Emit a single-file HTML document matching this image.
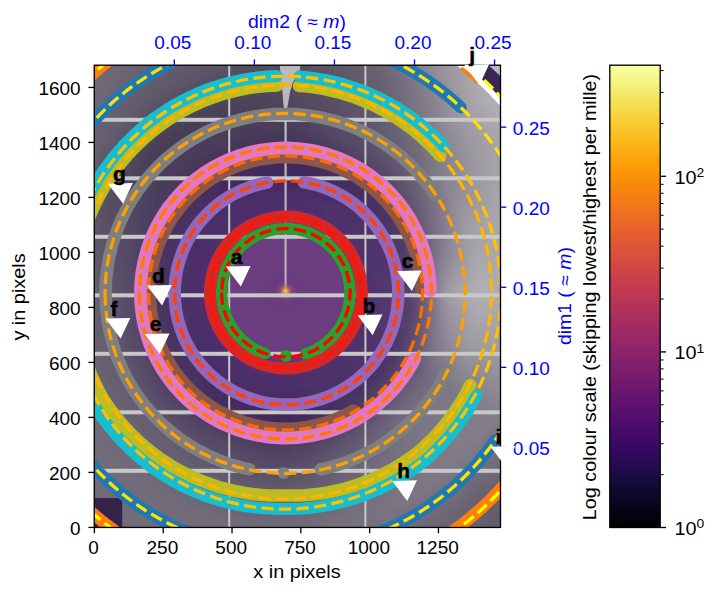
<!DOCTYPE html><html><head><meta charset="utf-8"><style>html,body{margin:0;padding:0;background:#fff;width:716px;height:595px;overflow:hidden}svg{display:block}text{font-family:"Liberation Sans",sans-serif}</style></head><body>
<svg width="716" height="595" viewBox="0 0 716 595">
<defs>
<clipPath id="pc"><rect x="94.25" y="65.2" width="406.25" height="462.25000000000006"/></clipPath>
<radialGradient id="bg" gradientUnits="userSpaceOnUse" cx="286.6" cy="292.8" r="420"><stop offset="0.0000" stop-color="#f0b050"/><stop offset="0.0071" stop-color="#c06a70"/><stop offset="0.0190" stop-color="#7a4888"/><stop offset="0.0952" stop-color="#6a4282"/><stop offset="0.1429" stop-color="#5a3a78"/><stop offset="0.2024" stop-color="#45295c"/><stop offset="0.2619" stop-color="#46305e"/><stop offset="0.3095" stop-color="#4a3662"/><stop offset="0.3929" stop-color="#54466a"/><stop offset="0.4524" stop-color="#625876"/><stop offset="0.5357" stop-color="#706a80"/><stop offset="0.6190" stop-color="#78728a"/><stop offset="0.7143" stop-color="#7c768a"/><stop offset="1.0000" stop-color="#7c768a"/></radialGradient>
<filter id="bgblur" x="-5%" y="-5%" width="110%" height="110%"><feGaussianBlur stdDeviation="4"/></filter>
<filter id="blur20" x="-50%" y="-50%" width="200%" height="200%"><feGaussianBlur stdDeviation="18"/></filter>
<linearGradient id="cb" x1="0" y1="1" x2="0" y2="0"><stop offset="0.0000" stop-color="#000004"/><stop offset="0.0312" stop-color="#040312"/><stop offset="0.0625" stop-color="#0b0724"/><stop offset="0.0938" stop-color="#150b37"/><stop offset="0.1250" stop-color="#210c4a"/><stop offset="0.1562" stop-color="#2f0a5b"/><stop offset="0.1875" stop-color="#3d0965"/><stop offset="0.2188" stop-color="#4a0c6b"/><stop offset="0.2500" stop-color="#57106e"/><stop offset="0.2812" stop-color="#64156e"/><stop offset="0.3125" stop-color="#71196e"/><stop offset="0.3438" stop-color="#7d1e6d"/><stop offset="0.3750" stop-color="#8a226a"/><stop offset="0.4062" stop-color="#972766"/><stop offset="0.4375" stop-color="#a32c61"/><stop offset="0.4688" stop-color="#b0315b"/><stop offset="0.5000" stop-color="#bc3754"/><stop offset="0.5312" stop-color="#c73e4c"/><stop offset="0.5625" stop-color="#d24644"/><stop offset="0.5938" stop-color="#db503b"/><stop offset="0.6250" stop-color="#e45a31"/><stop offset="0.6562" stop-color="#eb6628"/><stop offset="0.6875" stop-color="#f1731d"/><stop offset="0.7188" stop-color="#f68013"/><stop offset="0.7500" stop-color="#f98e09"/><stop offset="0.7812" stop-color="#fb9d07"/><stop offset="0.8125" stop-color="#fcac11"/><stop offset="0.8438" stop-color="#fbbc21"/><stop offset="0.8750" stop-color="#f9cb35"/><stop offset="0.9062" stop-color="#f5db4c"/><stop offset="0.9375" stop-color="#f2ea69"/><stop offset="0.9688" stop-color="#f3f68a"/><stop offset="1.0000" stop-color="#fcffa4"/></linearGradient>
</defs>
<g clip-path="url(#pc)">
<g filter="url(#bgblur)">
<path fill="#6e6876" d="M82,53h6v6h-6zM88,53h6v6h-6zM370,53h6v6h-6zM88,59h6v6h-6zM94,59h6v6h-6zM100,59h6v6h-6zM376,59h6v6h-6zM94,65h6v6h-6zM100,65h6v6h-6zM106,65h6v6h-6zM112,65h6v6h-6zM382,65h6v6h-6zM100,71h6v6h-6zM106,71h6v6h-6zM388,71h6v6h-6zM106,77h6v6h-6zM100,83h6v6h-6zM94,95h6v6h-6zM88,101h6v6h-6zM394,101h6v6h-6zM82,107h6v6h-6zM82,113h6v6h-6zM82,383h6v6h-6zM88,395h6v6h-6zM94,407h6v6h-6zM100,413h6v6h-6zM106,425h6v6h-6zM112,431h6v6h-6zM118,437h6v6h-6zM124,443h6v6h-6zM130,449h6v6h-6zM508,461h6v6h-6zM148,467h6v6h-6zM496,467h6v6h-6zM154,473h6v6h-6zM484,473h6v6h-6zM160,479h6v6h-6zM478,479h6v6h-6zM172,485h6v6h-6zM346,485h6v6h-6zM178,491h6v6h-6zM340,491h6v6h-6zM190,497h6v6h-6zM208,503h6v6h-6zM322,503h6v6h-6zM448,503h6v6h-6zM220,509h6v6h-6zM226,509h6v6h-6zM310,509h6v6h-6zM442,509h6v6h-6zM244,515h6v6h-6zM250,515h6v6h-6zM298,515h6v6h-6zM436,515h6v6h-6zM424,521h6v6h-6zM418,527h6v6h-6zM406,533h6v6h-6zM394,539h6v6h-6zM400,539h6v6h-6z"/>
<path fill="#6e6874" d="M94,53h6v6h-6z"/>
<path fill="#6c6874" d="M100,53h6v6h-6zM106,53h6v6h-6zM106,59h6v6h-6zM112,59h6v6h-6zM112,71h6v6h-6zM502,467h6v6h-6zM430,521h6v6h-6z"/>
<path fill="#6c6674" d="M112,53h6v6h-6zM118,53h6v6h-6zM124,53h6v6h-6zM364,53h6v6h-6zM118,59h6v6h-6zM124,59h6v6h-6zM370,59h6v6h-6zM118,65h6v6h-6zM118,71h6v6h-6zM112,77h6v6h-6zM388,77h6v6h-6zM106,83h6v6h-6zM388,83h6v6h-6zM106,89h6v6h-6zM388,89h6v6h-6zM100,95h6v6h-6zM94,101h6v6h-6zM94,107h6v6h-6zM88,113h6v6h-6zM82,119h6v6h-6zM82,125h6v6h-6zM88,377h6v6h-6zM94,389h6v6h-6zM100,401h6v6h-6zM508,467h6v6h-6zM490,473h6v6h-6zM496,473h6v6h-6zM484,479h6v6h-6zM472,485h6v6h-6zM466,491h6v6h-6zM460,497h6v6h-6zM220,503h6v6h-6zM454,503h6v6h-6zM244,509h6v6h-6zM298,509h6v6h-6zM448,509h6v6h-6zM442,515h6v6h-6zM436,521h6v6h-6zM424,527h6v6h-6zM418,533h6v6h-6zM406,539h6v6h-6zM412,539h6v6h-6z"/>
<path fill="#6a6674" d="M130,53h6v6h-6zM124,65h6v6h-6zM100,101h6v6h-6zM502,473h6v6h-6zM430,527h6v6h-6z"/>
<path fill="#6a6472" d="M136,53h6v6h-6zM358,53h6v6h-6zM130,59h6v6h-6zM136,59h6v6h-6zM130,65h6v6h-6zM124,71h6v6h-6zM382,71h6v6h-6zM118,77h6v6h-6zM118,83h6v6h-6zM112,89h6v6h-6zM106,95h6v6h-6zM106,101h6v6h-6zM100,107h6v6h-6zM94,113h6v6h-6zM94,119h6v6h-6zM88,125h6v6h-6zM82,131h6v6h-6zM82,137h6v6h-6zM490,479h6v6h-6zM496,479h6v6h-6zM502,479h6v6h-6zM508,479h6v6h-6zM478,485h6v6h-6zM472,491h6v6h-6zM466,497h6v6h-6zM460,503h6v6h-6zM274,509h6v6h-6zM454,509h6v6h-6zM448,515h6v6h-6zM442,521h6v6h-6zM436,527h6v6h-6zM442,527h6v6h-6zM424,533h6v6h-6zM430,533h6v6h-6zM436,533h6v6h-6zM424,539h6v6h-6zM430,539h6v6h-6z"/>
<path fill="#686472" d="M142,53h6v6h-6zM454,515h6v6h-6zM448,521h6v6h-6z"/>
<path fill="#686270" d="M148,53h6v6h-6zM142,59h6v6h-6zM136,65h6v6h-6zM136,71h6v6h-6zM130,77h6v6h-6zM124,83h6v6h-6zM118,89h6v6h-6zM112,101h6v6h-6zM100,119h6v6h-6zM88,143h6v6h-6zM82,155h6v6h-6zM484,485h6v6h-6zM490,485h6v6h-6zM496,485h6v6h-6zM502,485h6v6h-6zM508,485h6v6h-6zM478,491h6v6h-6zM472,497h6v6h-6zM478,497h6v6h-6zM466,503h6v6h-6zM472,503h6v6h-6zM466,509h6v6h-6zM460,515h6v6h-6zM454,521h6v6h-6zM460,521h6v6h-6zM448,527h6v6h-6zM454,527h6v6h-6zM442,533h6v6h-6zM448,533h6v6h-6zM436,539h6v6h-6zM442,539h6v6h-6z"/>
<path fill="#666070" d="M154,53h6v6h-6zM148,59h6v6h-6zM358,59h6v6h-6zM142,65h6v6h-6zM364,65h6v6h-6zM370,71h6v6h-6zM136,77h6v6h-6zM376,77h6v6h-6zM130,83h6v6h-6zM124,89h6v6h-6zM118,101h6v6h-6zM382,101h6v6h-6zM112,107h6v6h-6zM382,107h6v6h-6zM106,113h6v6h-6zM106,119h6v6h-6zM100,125h6v6h-6zM100,131h6v6h-6zM94,137h6v6h-6zM94,143h6v6h-6zM88,149h6v6h-6zM88,155h6v6h-6zM82,167h6v6h-6zM82,281h6v6h-6zM166,449h6v6h-6zM172,455h6v6h-6zM178,461h6v6h-6zM184,467h6v6h-6zM190,473h6v6h-6zM202,479h6v6h-6zM214,485h6v6h-6zM316,485h6v6h-6zM226,491h6v6h-6zM232,491h6v6h-6zM310,491h6v6h-6zM490,491h6v6h-6zM244,497h6v6h-6zM250,497h6v6h-6zM298,497h6v6h-6zM274,503h6v6h-6zM280,503h6v6h-6zM286,503h6v6h-6z"/>
<path fill="#66606e" d="M160,53h6v6h-6zM154,59h6v6h-6zM148,65h6v6h-6zM142,71h6v6h-6zM124,95h6v6h-6zM112,113h6v6h-6zM496,491h6v6h-6zM502,491h6v6h-6zM508,491h6v6h-6zM484,497h6v6h-6zM478,503h6v6h-6zM484,503h6v6h-6zM478,509h6v6h-6zM472,515h6v6h-6zM478,515h6v6h-6zM466,521h6v6h-6zM472,521h6v6h-6zM460,527h6v6h-6zM466,527h6v6h-6zM460,533h6v6h-6zM466,533h6v6h-6zM454,539h6v6h-6zM460,539h6v6h-6z"/>
<path fill="#645e6e" d="M166,53h6v6h-6zM346,53h6v6h-6zM160,59h6v6h-6zM352,59h6v6h-6zM154,65h6v6h-6zM358,65h6v6h-6zM148,71h6v6h-6zM364,71h6v6h-6zM142,77h6v6h-6zM370,77h6v6h-6zM136,83h6v6h-6zM142,83h6v6h-6zM370,83h6v6h-6zM136,89h6v6h-6zM376,89h6v6h-6zM130,95h6v6h-6zM376,95h6v6h-6zM124,101h6v6h-6zM118,107h6v6h-6zM118,113h6v6h-6zM112,119h6v6h-6zM106,125h6v6h-6zM106,131h6v6h-6zM100,137h6v6h-6zM94,149h6v6h-6zM88,161h6v6h-6zM82,173h6v6h-6zM82,179h6v6h-6zM82,263h6v6h-6zM202,473h6v6h-6zM214,479h6v6h-6zM226,485h6v6h-6zM244,491h6v6h-6zM298,491h6v6h-6zM268,497h6v6h-6zM274,497h6v6h-6zM280,497h6v6h-6zM286,497h6v6h-6z"/>
<path fill="#645e6c" d="M172,53h6v6h-6zM166,59h6v6h-6zM160,65h6v6h-6zM154,71h6v6h-6zM148,77h6v6h-6zM508,497h6v6h-6zM490,503h6v6h-6zM496,503h6v6h-6zM502,503h6v6h-6zM490,509h6v6h-6zM484,515h6v6h-6zM478,521h6v6h-6zM484,521h6v6h-6zM478,527h6v6h-6zM472,533h6v6h-6zM478,533h6v6h-6zM466,539h6v6h-6zM472,539h6v6h-6z"/>
<path fill="#625c6c" d="M178,53h6v6h-6zM172,59h6v6h-6zM346,59h6v6h-6zM166,65h6v6h-6zM352,65h6v6h-6zM160,71h6v6h-6zM358,71h6v6h-6zM154,77h6v6h-6zM148,83h6v6h-6zM364,83h6v6h-6zM142,89h6v6h-6zM370,89h6v6h-6zM136,95h6v6h-6zM136,101h6v6h-6zM130,107h6v6h-6zM124,113h6v6h-6zM118,119h6v6h-6zM112,125h6v6h-6zM106,137h6v6h-6zM94,155h6v6h-6zM88,173h6v6h-6zM82,191h6v6h-6zM82,197h6v6h-6zM82,245h6v6h-6zM496,509h6v6h-6z"/>
<path fill="#625c6a" d="M184,53h6v6h-6zM502,509h6v6h-6zM508,509h6v6h-6zM496,515h6v6h-6zM490,521h6v6h-6zM496,521h6v6h-6zM490,527h6v6h-6zM484,533h6v6h-6zM490,533h6v6h-6zM478,539h6v6h-6zM484,539h6v6h-6z"/>
<path fill="#605a6a" d="M190,53h6v6h-6zM196,53h6v6h-6zM184,59h6v6h-6zM340,59h6v6h-6zM178,65h6v6h-6zM346,65h6v6h-6zM172,71h6v6h-6zM346,71h6v6h-6zM166,77h6v6h-6zM352,77h6v6h-6zM160,83h6v6h-6zM154,89h6v6h-6zM148,95h6v6h-6zM364,95h6v6h-6zM118,125h6v6h-6zM112,131h6v6h-6zM106,143h6v6h-6zM100,155h6v6h-6zM94,167h6v6h-6zM88,185h6v6h-6z"/>
<path fill="#5e5868" d="M202,53h6v6h-6zM208,53h6v6h-6zM322,53h6v6h-6zM196,59h6v6h-6zM328,59h6v6h-6zM190,65h6v6h-6zM334,65h6v6h-6zM184,71h6v6h-6zM340,71h6v6h-6zM160,89h6v6h-6zM106,149h6v6h-6zM94,179h6v6h-6z"/>
<path fill="#5e5668" d="M214,53h6v6h-6zM202,59h6v6h-6zM196,65h6v6h-6zM190,71h6v6h-6zM334,71h6v6h-6zM178,77h6v6h-6zM340,77h6v6h-6zM346,83h6v6h-6zM154,95h6v6h-6zM352,95h6v6h-6zM148,101h6v6h-6zM358,101h6v6h-6zM358,107h6v6h-6zM124,125h6v6h-6zM118,131h6v6h-6zM112,143h6v6h-6zM100,167h6v6h-6zM94,185h6v6h-6z"/>
<path fill="#5c5666" d="M220,53h6v6h-6zM214,59h6v6h-6zM202,65h6v6h-6zM184,77h6v6h-6zM166,89h6v6h-6z"/>
<path fill="#5c5466" d="M226,53h6v6h-6zM310,53h6v6h-6zM220,59h6v6h-6zM316,59h6v6h-6zM208,65h6v6h-6zM322,65h6v6h-6zM196,71h6v6h-6zM328,71h6v6h-6zM334,77h6v6h-6zM178,83h6v6h-6zM334,83h6v6h-6zM340,89h6v6h-6zM160,95h6v6h-6zM346,101h6v6h-6zM118,137h6v6h-6zM112,149h6v6h-6zM106,161h6v6h-6zM100,179h6v6h-6zM94,209h6v6h-6zM94,215h6v6h-6z"/>
<path fill="#5a5466" d="M232,53h6v6h-6zM226,59h6v6h-6zM316,65h6v6h-6zM202,71h6v6h-6zM322,71h6v6h-6zM190,77h6v6h-6zM328,77h6v6h-6zM172,89h6v6h-6zM154,101h6v6h-6zM148,107h6v6h-6zM142,113h6v6h-6zM136,119h6v6h-6zM130,125h6v6h-6zM124,131h6v6h-6zM100,185h6v6h-6z"/>
<path fill="#5a5464" d="M238,53h6v6h-6zM304,53h6v6h-6zM310,59h6v6h-6zM214,65h6v6h-6z"/>
<path fill="#5a5264" d="M244,53h6v6h-6zM232,59h6v6h-6zM304,59h6v6h-6zM220,65h6v6h-6zM310,65h6v6h-6zM208,71h6v6h-6zM316,71h6v6h-6zM196,77h6v6h-6zM322,77h6v6h-6zM184,83h6v6h-6zM166,95h6v6h-6zM334,95h6v6h-6zM118,143h6v6h-6zM112,155h6v6h-6zM106,173h6v6h-6zM100,197h6v6h-6zM100,203h6v6h-6zM100,209h6v6h-6z"/>
<path fill="#585264" d="M250,53h6v6h-6zM256,53h6v6h-6zM298,53h6v6h-6zM238,59h6v6h-6zM226,65h6v6h-6zM322,83h6v6h-6zM178,89h6v6h-6zM328,89h6v6h-6zM160,101h6v6h-6zM124,137h6v6h-6z"/>
<path fill="#585062" d="M262,53h6v6h-6zM268,53h6v6h-6zM292,53h6v6h-6zM244,59h6v6h-6zM250,59h6v6h-6zM298,59h6v6h-6zM232,65h6v6h-6zM220,71h6v6h-6zM304,71h6v6h-6zM310,77h6v6h-6zM316,83h6v6h-6zM172,95h6v6h-6zM142,119h6v6h-6zM112,167h6v6h-6z"/>
<path fill="#565062" d="M274,53h6v6h-6zM280,53h6v6h-6zM286,53h6v6h-6zM256,59h6v6h-6zM262,59h6v6h-6zM292,59h6v6h-6zM238,65h6v6h-6zM298,65h6v6h-6zM208,77h6v6h-6zM196,83h6v6h-6zM184,89h6v6h-6zM166,101h6v6h-6zM124,143h6v6h-6zM118,155h6v6h-6zM106,191h6v6h-6z"/>
<path fill="#5c5668" d="M316,53h6v6h-6zM208,59h6v6h-6zM322,59h6v6h-6zM328,65h6v6h-6zM172,83h6v6h-6zM340,83h6v6h-6zM346,89h6v6h-6zM142,107h6v6h-6zM136,113h6v6h-6zM130,119h6v6h-6zM106,155h6v6h-6zM100,173h6v6h-6zM94,191h6v6h-6zM94,197h6v6h-6zM94,233h6v6h-6z"/>
<path fill="#60586a" d="M328,53h6v6h-6zM190,59h6v6h-6zM334,59h6v6h-6zM184,65h6v6h-6zM340,65h6v6h-6zM178,71h6v6h-6zM172,77h6v6h-6zM352,83h6v6h-6zM358,89h6v6h-6zM142,101h6v6h-6zM364,101h6v6h-6zM136,107h6v6h-6zM130,113h6v6h-6zM124,119h6v6h-6zM94,173h6v6h-6zM88,191h6v6h-6zM88,197h6v6h-6zM88,239h6v6h-6zM88,245h6v6h-6zM280,485h6v6h-6z"/>
<path fill="#625a6c" d="M334,53h6v6h-6zM352,71h6v6h-6zM160,77h6v6h-6zM358,77h6v6h-6zM154,83h6v6h-6zM148,89h6v6h-6zM364,89h6v6h-6zM142,95h6v6h-6zM370,95h6v6h-6zM100,149h6v6h-6zM94,161h6v6h-6zM88,179h6v6h-6zM82,203h6v6h-6zM82,209h6v6h-6zM82,215h6v6h-6zM82,221h6v6h-6zM82,227h6v6h-6zM82,233h6v6h-6zM82,239h6v6h-6zM88,257h6v6h-6zM238,479h6v6h-6zM244,485h6v6h-6zM250,485h6v6h-6zM256,485h6v6h-6zM268,491h6v6h-6zM274,491h6v6h-6zM280,491h6v6h-6zM286,491h6v6h-6z"/>
<path fill="#645c6c" d="M340,53h6v6h-6zM130,101h6v6h-6zM100,143h6v6h-6z"/>
<path fill="#686070" d="M352,53h6v6h-6zM376,71h6v6h-6zM118,95h6v6h-6zM94,131h6v6h-6zM82,161h6v6h-6zM268,503h6v6h-6z"/>
<path fill="#706c7a" d="M376,53h6v6h-6zM100,437h6v6h-6zM136,473h6v6h-6zM160,491h6v6h-6zM454,491h6v6h-6zM196,509h6v6h-6zM214,515h6v6h-6z"/>
<path fill="#746e7c" d="M382,53h6v6h-6zM388,59h6v6h-6zM400,83h6v6h-6zM406,113h6v6h-6zM502,449h6v6h-6zM484,461h6v6h-6zM382,467h6v6h-6zM382,473h6v6h-6zM466,473h6v6h-6zM376,479h6v6h-6zM460,479h6v6h-6zM370,485h6v6h-6zM454,485h6v6h-6zM364,491h6v6h-6zM370,491h6v6h-6zM358,497h6v6h-6zM364,497h6v6h-6zM436,497h6v6h-6zM352,503h6v6h-6zM358,503h6v6h-6zM430,503h6v6h-6zM346,509h6v6h-6zM418,509h6v6h-6zM334,515h6v6h-6zM340,515h6v6h-6zM406,515h6v6h-6zM322,521h6v6h-6zM394,521h6v6h-6zM304,527h6v6h-6zM310,527h6v6h-6zM316,527h6v6h-6zM370,527h6v6h-6zM376,527h6v6h-6zM382,527h6v6h-6zM310,533h6v6h-6zM316,533h6v6h-6zM322,533h6v6h-6zM328,533h6v6h-6zM334,533h6v6h-6zM340,533h6v6h-6zM346,533h6v6h-6zM352,533h6v6h-6zM358,533h6v6h-6zM364,533h6v6h-6z"/>
<path fill="#76727e" d="M388,53h6v6h-6zM406,89h6v6h-6zM508,437h6v6h-6zM490,449h6v6h-6zM484,455h6v6h-6zM466,467h6v6h-6zM460,473h6v6h-6zM436,491h6v6h-6zM376,497h6v6h-6zM370,503h6v6h-6zM400,509h6v6h-6zM352,515h6v6h-6zM382,515h6v6h-6zM388,515h6v6h-6zM346,521h6v6h-6zM352,521h6v6h-6zM358,521h6v6h-6z"/>
<path fill="#7a7682" d="M394,53h6v6h-6zM412,95h6v6h-6zM508,425h6v6h-6zM502,431h6v6h-6zM418,443h6v6h-6zM418,449h6v6h-6zM478,449h6v6h-6zM418,455h6v6h-6zM472,455h6v6h-6zM412,467h6v6h-6zM412,473h6v6h-6zM448,473h6v6h-6zM406,485h6v6h-6zM430,485h6v6h-6zM400,491h6v6h-6zM418,491h6v6h-6zM394,497h6v6h-6zM406,497h6v6h-6zM388,503h6v6h-6z"/>
<path fill="#7e7a86" d="M400,53h6v6h-6zM406,65h6v6h-6zM412,77h6v6h-6zM418,95h6v6h-6zM418,101h6v6h-6zM424,125h6v6h-6zM454,389h6v6h-6zM454,395h6v6h-6zM454,401h6v6h-6zM448,407h6v6h-6zM454,407h6v6h-6zM448,413h6v6h-6zM448,419h6v6h-6zM442,425h6v6h-6zM448,425h6v6h-6zM442,431h6v6h-6zM442,437h6v6h-6zM436,443h6v6h-6zM442,443h6v6h-6zM436,449h6v6h-6zM466,449h6v6h-6zM436,455h6v6h-6zM460,455h6v6h-6zM436,461h6v6h-6zM454,461h6v6h-6zM436,467h6v6h-6zM430,473h6v6h-6zM436,473h6v6h-6z"/>
<path fill="#827e8a" d="M406,53h6v6h-6zM412,65h6v6h-6zM424,101h6v6h-6zM430,131h6v6h-6zM436,149h6v6h-6zM472,395h6v6h-6zM478,401h6v6h-6zM478,407h6v6h-6zM478,413h6v6h-6zM490,413h6v6h-6zM478,419h6v6h-6zM484,419h6v6h-6zM478,425h6v6h-6zM472,431h6v6h-6z"/>
<path fill="#88848e" d="M412,53h6v6h-6zM418,65h6v6h-6zM424,77h6v6h-6zM430,95h6v6h-6zM430,101h6v6h-6zM436,125h6v6h-6zM442,149h6v6h-6zM472,383h6v6h-6zM478,389h6v6h-6zM496,401h6v6h-6z"/>
<path fill="#8c8892" d="M418,53h6v6h-6zM424,65h6v6h-6zM430,77h6v6h-6zM436,101h6v6h-6zM436,107h6v6h-6zM442,131h6v6h-6zM448,149h6v6h-6zM448,185h6v6h-6zM466,371h6v6h-6zM484,383h6v6h-6zM490,389h6v6h-6z"/>
<path fill="#908c96" d="M424,53h6v6h-6zM430,65h6v6h-6zM436,83h6v6h-6zM442,107h6v6h-6zM442,113h6v6h-6zM448,131h6v6h-6zM454,149h6v6h-6zM454,155h6v6h-6zM454,185h6v6h-6zM454,191h6v6h-6zM466,365h6v6h-6zM478,371h6v6h-6zM490,377h6v6h-6zM496,383h6v6h-6zM502,383h6v6h-6zM508,383h6v6h-6z"/>
<path fill="#94929a" d="M430,53h6v6h-6zM436,65h6v6h-6zM442,83h6v6h-6zM448,113h6v6h-6zM460,149h6v6h-6z"/>
<path fill="#98949c" d="M436,53h6v6h-6zM442,71h6v6h-6zM448,89h6v6h-6zM454,125h6v6h-6zM460,137h6v6h-6zM466,155h6v6h-6zM466,185h6v6h-6zM460,203h6v6h-6zM466,353h6v6h-6zM484,359h6v6h-6z"/>
<path fill="#9a989e" d="M442,53h6v6h-6zM442,59h6v6h-6zM448,77h6v6h-6zM454,101h6v6h-6z"/>
<path fill="#9c9aa0" d="M448,53h6v6h-6zM448,71h6v6h-6zM454,89h6v6h-6zM466,131h6v6h-6zM472,149h6v6h-6zM472,197h6v6h-6z"/>
<path fill="#9e9ca2" d="M454,53h6v6h-6zM454,77h6v6h-6zM460,107h6v6h-6zM472,137h6v6h-6zM478,161h6v6h-6zM478,191h6v6h-6zM508,353h6v6h-6z"/>
<path fill="#a09ea4" d="M460,53h6v6h-6zM454,65h6v6h-6zM454,71h6v6h-6zM460,89h6v6h-6zM460,95h6v6h-6zM466,113h6v6h-6zM472,125h6v6h-6zM478,137h6v6h-6zM478,143h6v6h-6zM484,173h6v6h-6zM484,179h6v6h-6zM478,203h6v6h-6zM472,215h6v6h-6zM466,221h6v6h-6zM478,341h6v6h-6zM484,341h6v6h-6zM502,347h6v6h-6zM508,347h6v6h-6z"/>
<path fill="#a2a0a6" d="M466,53h6v6h-6zM460,59h6v6h-6zM460,65h6v6h-6zM460,83h6v6h-6zM466,107h6v6h-6zM472,119h6v6h-6zM478,131h6v6h-6zM484,143h6v6h-6zM484,149h6v6h-6zM484,197h6v6h-6zM472,221h6v6h-6zM478,335h6v6h-6zM484,335h6v6h-6zM490,335h6v6h-6zM496,335h6v6h-6zM502,335h6v6h-6zM508,335h6v6h-6z"/>
<path fill="#a4a2a8" d="M472,53h6v6h-6zM466,59h6v6h-6zM466,65h6v6h-6zM460,71h6v6h-6zM466,95h6v6h-6zM466,101h6v6h-6zM472,113h6v6h-6zM478,119h6v6h-6zM484,131h6v6h-6zM490,143h6v6h-6zM490,149h6v6h-6zM490,155h6v6h-6zM490,167h6v6h-6zM490,173h6v6h-6zM490,179h6v6h-6zM490,185h6v6h-6zM490,191h6v6h-6zM490,197h6v6h-6zM484,209h6v6h-6zM478,221h6v6h-6zM478,227h6v6h-6zM472,233h6v6h-6zM472,329h6v6h-6zM478,329h6v6h-6zM484,329h6v6h-6zM490,329h6v6h-6zM496,329h6v6h-6zM502,329h6v6h-6zM508,329h6v6h-6z"/>
<path fill="#a6a4aa" d="M478,53h6v6h-6zM472,65h6v6h-6zM466,71h6v6h-6zM466,83h6v6h-6zM472,107h6v6h-6zM478,113h6v6h-6zM484,125h6v6h-6zM490,131h6v6h-6zM496,143h6v6h-6zM496,149h6v6h-6zM496,155h6v6h-6zM502,167h6v6h-6zM496,173h6v6h-6zM496,179h6v6h-6zM496,185h6v6h-6zM496,191h6v6h-6zM490,203h6v6h-6zM490,209h6v6h-6zM484,221h6v6h-6zM484,227h6v6h-6zM484,233h6v6h-6zM478,239h6v6h-6zM472,245h6v6h-6zM472,323h6v6h-6zM478,323h6v6h-6zM484,323h6v6h-6zM490,323h6v6h-6zM496,323h6v6h-6zM502,323h6v6h-6zM508,323h6v6h-6z"/>
<path fill="#a8a6aa" d="M484,53h6v6h-6zM478,59h6v6h-6zM472,71h6v6h-6zM496,137h6v6h-6zM502,155h6v6h-6zM502,179h6v6h-6z"/>
<path fill="#aaa8ac" d="M490,53h6v6h-6zM484,65h6v6h-6zM478,71h6v6h-6zM472,77h6v6h-6zM472,89h6v6h-6zM490,119h6v6h-6zM502,137h6v6h-6zM508,149h6v6h-6zM508,191h6v6h-6zM502,197h6v6h-6zM496,239h6v6h-6z"/>
<path fill="#aaaaae" d="M496,53h6v6h-6z"/>
<path fill="#acaaae" d="M502,53h6v6h-6zM496,59h6v6h-6zM490,65h6v6h-6zM484,71h6v6h-6zM490,113h6v6h-6zM496,119h6v6h-6zM502,125h6v6h-6zM508,137h6v6h-6zM508,203h6v6h-6zM508,221h6v6h-6zM508,227h6v6h-6zM508,233h6v6h-6zM508,239h6v6h-6zM508,245h6v6h-6zM508,251h6v6h-6zM502,257h6v6h-6zM508,257h6v6h-6zM484,263h6v6h-6zM490,263h6v6h-6zM496,263h6v6h-6zM508,299h6v6h-6zM490,305h6v6h-6z"/>
<path fill="#aeacb0" d="M508,53h6v6h-6zM502,59h6v6h-6zM508,59h6v6h-6zM502,65h6v6h-6zM496,71h6v6h-6zM490,77h6v6h-6zM484,83h6v6h-6zM478,89h6v6h-6zM478,95h6v6h-6zM484,101h6v6h-6zM490,107h6v6h-6zM496,113h6v6h-6zM502,119h6v6h-6zM508,119h6v6h-6zM508,125h6v6h-6zM484,275h6v6h-6zM490,275h6v6h-6zM496,275h6v6h-6zM502,281h6v6h-6zM508,281h6v6h-6zM508,287h6v6h-6zM502,293h6v6h-6zM484,299h6v6h-6zM490,299h6v6h-6z"/>
<path fill="#6e6a76" d="M82,59h6v6h-6zM82,65h6v6h-6zM88,65h6v6h-6zM88,71h6v6h-6zM94,71h6v6h-6zM100,77h6v6h-6zM94,89h6v6h-6zM502,461h6v6h-6zM460,491h6v6h-6zM454,497h6v6h-6zM412,527h6v6h-6z"/>
<path fill="#625a6a" d="M178,59h6v6h-6zM172,65h6v6h-6zM166,71h6v6h-6z"/>
<path fill="#564e62" d="M268,59h6v6h-6zM244,65h6v6h-6zM250,65h6v6h-6zM292,65h6v6h-6zM226,71h6v6h-6zM232,71h6v6h-6zM298,71h6v6h-6zM214,77h6v6h-6zM304,77h6v6h-6zM310,83h6v6h-6zM316,89h6v6h-6zM178,95h6v6h-6zM316,95h6v6h-6zM322,95h6v6h-6zM160,107h6v6h-6zM154,113h6v6h-6zM130,137h6v6h-6zM118,161h6v6h-6zM112,173h6v6h-6zM112,179h6v6h-6zM106,197h6v6h-6zM106,203h6v6h-6z"/>
<path fill="#564e60" d="M274,59h6v6h-6zM280,59h6v6h-6zM286,59h6v6h-6zM256,65h6v6h-6zM238,71h6v6h-6zM220,77h6v6h-6zM202,83h6v6h-6zM190,89h6v6h-6zM310,89h6v6h-6zM148,119h6v6h-6zM142,125h6v6h-6zM136,131h6v6h-6zM124,149h6v6h-6z"/>
<path fill="#686272" d="M364,59h6v6h-6zM370,65h6v6h-6zM130,71h6v6h-6zM124,77h6v6h-6zM382,77h6v6h-6zM382,83h6v6h-6zM382,89h6v6h-6zM112,95h6v6h-6zM106,107h6v6h-6zM100,113h6v6h-6zM388,113h6v6h-6zM388,119h6v6h-6zM94,125h6v6h-6zM88,131h6v6h-6zM88,137h6v6h-6zM82,143h6v6h-6zM82,149h6v6h-6zM82,293h6v6h-6zM82,299h6v6h-6zM82,305h6v6h-6zM82,311h6v6h-6zM82,317h6v6h-6zM82,323h6v6h-6zM88,335h6v6h-6zM88,341h6v6h-6zM88,347h6v6h-6zM94,353h6v6h-6zM94,359h6v6h-6zM94,365h6v6h-6zM100,371h6v6h-6zM100,377h6v6h-6zM106,383h6v6h-6zM106,389h6v6h-6zM112,395h6v6h-6zM112,401h6v6h-6zM118,401h6v6h-6zM118,407h6v6h-6zM124,413h6v6h-6zM130,419h6v6h-6zM130,425h6v6h-6zM136,425h6v6h-6zM136,431h6v6h-6zM142,431h6v6h-6zM142,437h6v6h-6zM148,443h6v6h-6zM154,449h6v6h-6zM160,455h6v6h-6zM166,461h6v6h-6zM172,467h6v6h-6zM178,473h6v6h-6zM184,473h6v6h-6zM190,479h6v6h-6zM202,485h6v6h-6zM328,485h6v6h-6zM214,491h6v6h-6zM316,491h6v6h-6zM226,497h6v6h-6zM232,497h6v6h-6zM310,497h6v6h-6zM250,503h6v6h-6zM256,503h6v6h-6zM292,503h6v6h-6zM298,503h6v6h-6zM460,509h6v6h-6z"/>
<path fill="#706a78" d="M382,59h6v6h-6zM388,65h6v6h-6zM82,77h6v6h-6zM88,77h6v6h-6zM394,77h6v6h-6zM88,83h6v6h-6zM94,83h6v6h-6zM394,83h6v6h-6zM88,95h6v6h-6zM82,101h6v6h-6zM400,113h6v6h-6zM82,401h6v6h-6zM82,407h6v6h-6zM88,413h6v6h-6zM94,419h6v6h-6zM94,425h6v6h-6zM100,431h6v6h-6zM106,437h6v6h-6zM112,443h6v6h-6zM118,449h6v6h-6zM124,455h6v6h-6zM508,455h6v6h-6zM130,461h6v6h-6zM496,461h6v6h-6zM136,467h6v6h-6zM490,467h6v6h-6zM142,473h6v6h-6zM364,473h6v6h-6zM478,473h6v6h-6zM148,479h6v6h-6zM160,485h6v6h-6zM166,491h6v6h-6zM178,497h6v6h-6zM340,497h6v6h-6zM190,503h6v6h-6zM334,503h6v6h-6zM442,503h6v6h-6zM202,509h6v6h-6zM208,509h6v6h-6zM322,509h6v6h-6zM436,509h6v6h-6zM220,515h6v6h-6zM226,515h6v6h-6zM310,515h6v6h-6zM424,515h6v6h-6zM244,521h6v6h-6zM250,521h6v6h-6zM256,521h6v6h-6zM262,521h6v6h-6zM292,521h6v6h-6zM298,521h6v6h-6zM418,521h6v6h-6zM406,527h6v6h-6zM394,533h6v6h-6zM400,533h6v6h-6zM382,539h6v6h-6zM388,539h6v6h-6z"/>
<path fill="#787280" d="M394,59h6v6h-6zM406,83h6v6h-6zM412,113h6v6h-6zM418,137h6v6h-6zM400,443h6v6h-6zM496,443h6v6h-6zM400,449h6v6h-6zM406,449h6v6h-6zM400,455h6v6h-6zM406,455h6v6h-6zM400,461h6v6h-6zM472,461h6v6h-6zM400,467h6v6h-6zM400,473h6v6h-6zM394,479h6v6h-6zM448,479h6v6h-6zM388,485h6v6h-6zM388,491h6v6h-6zM430,491h6v6h-6zM382,497h6v6h-6zM376,503h6v6h-6zM364,509h6v6h-6zM370,509h6v6h-6zM394,509h6v6h-6zM358,515h6v6h-6zM364,515h6v6h-6zM370,515h6v6h-6zM376,515h6v6h-6z"/>
<path fill="#7c7884" d="M400,59h6v6h-6zM406,71h6v6h-6zM412,83h6v6h-6zM418,113h6v6h-6zM430,155h6v6h-6zM508,419h6v6h-6zM430,425h6v6h-6zM502,425h6v6h-6zM424,431h6v6h-6zM472,449h6v6h-6zM466,455h6v6h-6zM424,461h6v6h-6zM424,467h6v6h-6zM424,473h6v6h-6zM442,473h6v6h-6zM418,479h6v6h-6zM418,485h6v6h-6z"/>
<path fill="#807c88" d="M406,59h6v6h-6zM412,71h6v6h-6zM418,89h6v6h-6zM424,113h6v6h-6zM430,137h6v6h-6zM460,389h6v6h-6zM466,395h6v6h-6zM466,401h6v6h-6zM466,407h6v6h-6zM460,413h6v6h-6zM466,413h6v6h-6zM496,413h6v6h-6zM502,413h6v6h-6zM460,419h6v6h-6zM466,419h6v6h-6zM460,425h6v6h-6zM460,431h6v6h-6zM454,437h6v6h-6zM460,437h6v6h-6zM454,443h6v6h-6zM460,443h6v6h-6zM454,449h6v6h-6zM460,449h6v6h-6zM448,455h6v6h-6zM454,455h6v6h-6zM448,461h6v6h-6z"/>
<path fill="#84808c" d="M412,59h6v6h-6zM424,89h6v6h-6zM430,119h6v6h-6zM436,143h6v6h-6zM484,401h6v6h-6zM490,407h6v6h-6z"/>
<path fill="#8a8690" d="M418,59h6v6h-6zM424,71h6v6h-6zM430,89h6v6h-6zM436,113h6v6h-6zM436,119h6v6h-6zM442,137h6v6h-6zM448,167h6v6h-6zM448,173h6v6h-6zM478,383h6v6h-6zM484,389h6v6h-6zM496,395h6v6h-6zM502,395h6v6h-6zM508,395h6v6h-6z"/>
<path fill="#8e8a94" d="M424,59h6v6h-6zM430,71h6v6h-6zM436,89h6v6h-6zM442,119h6v6h-6zM442,125h6v6h-6zM448,137h6v6h-6zM448,143h6v6h-6zM454,161h6v6h-6zM454,167h6v6h-6zM454,173h6v6h-6zM460,365h6v6h-6zM472,371h6v6h-6zM484,377h6v6h-6zM490,383h6v6h-6zM502,389h6v6h-6z"/>
<path fill="#928e98" d="M430,59h6v6h-6zM442,95h6v6h-6zM454,143h6v6h-6zM460,167h6v6h-6zM460,173h6v6h-6zM454,197h6v6h-6zM472,365h6v6h-6zM484,371h6v6h-6zM496,377h6v6h-6z"/>
<path fill="#96949c" d="M436,59h6v6h-6zM448,95h6v6h-6zM466,161h6v6h-6zM466,167h6v6h-6zM466,173h6v6h-6zM466,179h6v6h-6zM496,365h6v6h-6z"/>
<path fill="#9e9aa2" d="M448,59h6v6h-6zM448,65h6v6h-6zM454,83h6v6h-6zM460,113h6v6h-6zM466,125h6v6h-6zM472,143h6v6h-6zM478,167h6v6h-6zM478,173h6v6h-6zM478,179h6v6h-6zM478,185h6v6h-6zM472,203h6v6h-6zM466,215h6v6h-6zM484,347h6v6h-6zM502,353h6v6h-6z"/>
<path fill="#a09ca4" d="M454,59h6v6h-6zM460,101h6v6h-6zM466,119h6v6h-6zM472,131h6v6h-6zM478,149h6v6h-6zM478,155h6v6h-6zM478,197h6v6h-6zM466,335h6v6h-6zM472,341h6v6h-6zM496,347h6v6h-6z"/>
<path fill="#a6a4a8" d="M472,59h6v6h-6zM466,89h6v6h-6zM490,137h6v6h-6zM496,161h6v6h-6z"/>
<path fill="#a8a8ac" d="M484,59h6v6h-6z"/>
<path fill="#aaa8ae" d="M490,59h6v6h-6zM478,77h6v6h-6zM472,83h6v6h-6zM478,101h6v6h-6zM484,107h6v6h-6zM496,125h6v6h-6zM502,131h6v6h-6zM508,143h6v6h-6zM508,197h6v6h-6zM502,203h6v6h-6zM502,209h6v6h-6zM502,215h6v6h-6zM502,221h6v6h-6zM502,227h6v6h-6zM502,233h6v6h-6zM502,239h6v6h-6zM496,245h6v6h-6zM502,245h6v6h-6zM490,251h6v6h-6zM496,251h6v6h-6zM478,257h6v6h-6zM484,257h6v6h-6zM490,257h6v6h-6zM472,263h6v6h-6zM466,281h6v6h-6zM466,299h6v6h-6zM496,305h6v6h-6zM502,305h6v6h-6zM508,305h6v6h-6zM472,311h6v6h-6zM478,311h6v6h-6zM484,311h6v6h-6zM490,311h6v6h-6z"/>
<path fill="#544e60" d="M262,65h6v6h-6zM268,65h6v6h-6zM286,65h6v6h-6zM292,71h6v6h-6zM298,77h6v6h-6zM304,83h6v6h-6z"/>
<path fill="#544c60" d="M274,65h6v6h-6zM280,65h6v6h-6zM244,71h6v6h-6zM250,71h6v6h-6zM256,71h6v6h-6zM262,71h6v6h-6zM268,71h6v6h-6zM286,71h6v6h-6zM226,77h6v6h-6zM232,77h6v6h-6zM292,77h6v6h-6zM208,83h6v6h-6zM214,83h6v6h-6zM298,83h6v6h-6zM196,89h6v6h-6zM304,89h6v6h-6zM184,95h6v6h-6zM304,95h6v6h-6zM310,95h6v6h-6zM172,101h6v6h-6zM166,107h6v6h-6zM160,113h6v6h-6zM130,143h6v6h-6zM124,155h6v6h-6zM118,167h6v6h-6zM112,185h6v6h-6zM112,191h6v6h-6z"/>
<path fill="#585064" d="M304,65h6v6h-6zM214,71h6v6h-6zM310,71h6v6h-6zM202,77h6v6h-6zM316,77h6v6h-6zM190,83h6v6h-6zM322,89h6v6h-6zM328,95h6v6h-6zM328,101h6v6h-6zM334,101h6v6h-6zM154,107h6v6h-6zM148,113h6v6h-6zM136,125h6v6h-6zM130,131h6v6h-6zM118,149h6v6h-6zM112,161h6v6h-6zM106,179h6v6h-6zM106,185h6v6h-6z"/>
<path fill="#6a6474" d="M376,65h6v6h-6zM112,83h6v6h-6zM388,95h6v6h-6zM388,101h6v6h-6zM388,107h6v6h-6zM88,119h6v6h-6zM394,125h6v6h-6zM82,341h6v6h-6zM82,347h6v6h-6zM82,353h6v6h-6zM88,359h6v6h-6zM88,365h6v6h-6zM88,371h6v6h-6zM94,377h6v6h-6zM94,383h6v6h-6zM100,389h6v6h-6zM100,395h6v6h-6zM106,401h6v6h-6zM112,407h6v6h-6zM112,413h6v6h-6zM118,419h6v6h-6zM124,425h6v6h-6zM130,431h6v6h-6zM136,437h6v6h-6zM136,443h6v6h-6zM142,443h6v6h-6zM142,449h6v6h-6zM148,449h6v6h-6zM148,455h6v6h-6zM154,455h6v6h-6zM154,461h6v6h-6zM160,461h6v6h-6zM160,467h6v6h-6zM166,467h6v6h-6zM172,473h6v6h-6zM178,479h6v6h-6zM184,479h6v6h-6zM340,479h6v6h-6zM190,485h6v6h-6zM334,485h6v6h-6zM202,491h6v6h-6zM328,491h6v6h-6zM214,497h6v6h-6zM220,497h6v6h-6zM316,497h6v6h-6zM226,503h6v6h-6zM232,503h6v6h-6zM238,503h6v6h-6zM304,503h6v6h-6zM310,503h6v6h-6zM250,509h6v6h-6zM256,509h6v6h-6zM262,509h6v6h-6zM268,509h6v6h-6zM286,509h6v6h-6zM292,509h6v6h-6z"/>
<path fill="#74707c" d="M394,65h6v6h-6zM508,443h6v6h-6zM490,455h6v6h-6zM472,467h6v6h-6zM442,491h6v6h-6zM424,503h6v6h-6zM412,509h6v6h-6zM400,515h6v6h-6zM328,521h6v6h-6zM388,521h6v6h-6zM322,527h6v6h-6zM328,527h6v6h-6zM334,527h6v6h-6zM352,527h6v6h-6zM358,527h6v6h-6zM364,527h6v6h-6z"/>
<path fill="#7a7482" d="M400,65h6v6h-6zM406,77h6v6h-6zM412,101h6v6h-6zM418,125h6v6h-6zM424,143h6v6h-6zM412,425h6v6h-6zM406,437h6v6h-6zM412,437h6v6h-6zM496,437h6v6h-6zM412,443h6v6h-6zM412,449h6v6h-6zM412,455h6v6h-6zM412,461h6v6h-6zM466,461h6v6h-6zM406,467h6v6h-6zM406,473h6v6h-6zM406,479h6v6h-6zM442,479h6v6h-6zM400,485h6v6h-6zM394,491h6v6h-6zM424,491h6v6h-6zM412,497h6v6h-6zM394,503h6v6h-6z"/>
<path fill="#9a969e" d="M442,65h6v6h-6zM454,107h6v6h-6zM454,113h6v6h-6zM460,131h6v6h-6zM466,143h6v6h-6zM472,173h6v6h-6zM460,209h6v6h-6zM478,353h6v6h-6zM496,359h6v6h-6zM508,365h6v6h-6z"/>
<path fill="#a8a6ac" d="M478,65h6v6h-6zM472,95h6v6h-6zM472,101h6v6h-6zM478,107h6v6h-6zM484,113h6v6h-6zM490,125h6v6h-6zM496,131h6v6h-6zM502,143h6v6h-6zM502,149h6v6h-6zM508,155h6v6h-6zM508,161h6v6h-6zM508,167h6v6h-6zM508,173h6v6h-6zM508,179h6v6h-6zM502,185h6v6h-6zM502,191h6v6h-6zM496,203h6v6h-6zM496,209h6v6h-6zM490,215h6v6h-6zM490,221h6v6h-6zM490,227h6v6h-6zM490,233h6v6h-6zM484,239h6v6h-6zM490,239h6v6h-6zM484,245h6v6h-6zM472,251h6v6h-6zM478,251h6v6h-6zM466,275h6v6h-6zM502,311h6v6h-6zM508,311h6v6h-6zM472,317h6v6h-6zM478,317h6v6h-6zM484,317h6v6h-6zM490,317h6v6h-6zM496,317h6v6h-6z"/>
<path fill="#acacb0" d="M496,65h6v6h-6zM490,71h6v6h-6z"/>
<path fill="#b0aeb2" d="M508,65h6v6h-6zM502,71h6v6h-6zM508,71h6v6h-6zM496,77h6v6h-6zM502,77h6v6h-6zM508,77h6v6h-6zM490,83h6v6h-6zM496,83h6v6h-6zM502,83h6v6h-6zM484,89h6v6h-6zM490,89h6v6h-6zM496,89h6v6h-6zM502,89h6v6h-6zM484,95h6v6h-6zM490,95h6v6h-6zM496,95h6v6h-6zM490,101h6v6h-6zM478,281h6v6h-6zM490,287h6v6h-6zM472,293h6v6h-6zM484,293h6v6h-6zM490,293h6v6h-6z"/>
<path fill="#706a76" d="M82,71h6v6h-6zM94,77h6v6h-6z"/>
<path fill="#544c5e" d="M274,71h6v6h-6zM280,71h6v6h-6zM238,77h6v6h-6zM202,89h6v6h-6z"/>
<path fill="#726e7a" d="M394,71h6v6h-6zM496,455h6v6h-6zM478,467h6v6h-6zM448,491h6v6h-6zM442,497h6v6h-6zM424,509h6v6h-6zM412,515h6v6h-6zM400,521h6v6h-6zM388,527h6v6h-6zM298,533h6v6h-6zM370,533h6v6h-6zM310,539h6v6h-6zM316,539h6v6h-6zM322,539h6v6h-6zM328,539h6v6h-6zM334,539h6v6h-6zM340,539h6v6h-6zM346,539h6v6h-6z"/>
<path fill="#78727e" d="M400,71h6v6h-6zM442,485h6v6h-6zM424,497h6v6h-6zM412,503h6v6h-6z"/>
<path fill="#86808c" d="M418,71h6v6h-6zM430,113h6v6h-6zM454,377h6v6h-6zM472,389h6v6h-6zM478,395h6v6h-6z"/>
<path fill="#929098" d="M436,71h6v6h-6zM448,125h6v6h-6zM460,179h6v6h-6zM478,365h6v6h-6zM490,371h6v6h-6z"/>
<path fill="#524a5e" d="M244,77h6v6h-6zM250,77h6v6h-6zM256,77h6v6h-6zM262,77h6v6h-6zM268,77h6v6h-6zM274,77h6v6h-6zM280,77h6v6h-6zM286,77h6v6h-6zM220,83h6v6h-6zM226,83h6v6h-6zM232,83h6v6h-6zM238,83h6v6h-6zM286,83h6v6h-6zM292,83h6v6h-6zM208,89h6v6h-6zM214,89h6v6h-6zM292,89h6v6h-6zM298,89h6v6h-6zM190,95h6v6h-6zM196,95h6v6h-6zM178,101h6v6h-6zM184,101h6v6h-6zM172,107h6v6h-6zM166,113h6v6h-6zM148,125h6v6h-6zM142,131h6v6h-6zM130,149h6v6h-6zM124,161h6v6h-6zM118,179h6v6h-6z"/>
<path fill="#5e586a" d="M346,77h6v6h-6zM166,83h6v6h-6zM352,89h6v6h-6zM358,95h6v6h-6zM364,107h6v6h-6zM112,137h6v6h-6zM100,161h6v6h-6zM88,203h6v6h-6zM88,209h6v6h-6zM88,215h6v6h-6zM88,221h6v6h-6zM88,227h6v6h-6zM88,233h6v6h-6z"/>
<path fill="#645c6e" d="M364,77h6v6h-6zM376,101h6v6h-6zM124,107h6v6h-6zM376,107h6v6h-6zM88,167h6v6h-6zM82,185h6v6h-6zM82,257h6v6h-6zM88,269h6v6h-6zM196,461h6v6h-6zM202,467h6v6h-6zM208,473h6v6h-6zM214,473h6v6h-6zM220,479h6v6h-6zM310,479h6v6h-6zM232,485h6v6h-6zM304,485h6v6h-6zM250,491h6v6h-6zM256,491h6v6h-6z"/>
<path fill="#76707e" d="M400,77h6v6h-6zM406,95h6v6h-6zM406,101h6v6h-6zM412,125h6v6h-6zM418,143h6v6h-6zM502,443h6v6h-6zM394,455h6v6h-6zM394,461h6v6h-6zM478,461h6v6h-6zM394,467h6v6h-6zM388,473h6v6h-6zM382,479h6v6h-6zM388,479h6v6h-6zM454,479h6v6h-6zM382,485h6v6h-6zM448,485h6v6h-6zM376,491h6v6h-6zM370,497h6v6h-6zM430,497h6v6h-6zM364,503h6v6h-6zM418,503h6v6h-6zM358,509h6v6h-6zM406,509h6v6h-6zM346,515h6v6h-6zM394,515h6v6h-6zM334,521h6v6h-6zM340,521h6v6h-6zM364,521h6v6h-6zM370,521h6v6h-6zM376,521h6v6h-6zM340,527h6v6h-6zM346,527h6v6h-6z"/>
<path fill="#847e8a" d="M418,77h6v6h-6zM424,95h6v6h-6zM430,125h6v6h-6zM466,389h6v6h-6zM484,407h6v6h-6zM508,407h6v6h-6zM484,413h6v6h-6z"/>
<path fill="#928e96" d="M436,77h6v6h-6zM442,101h6v6h-6z"/>
<path fill="#96929a" d="M442,77h6v6h-6zM448,101h6v6h-6zM448,107h6v6h-6zM454,131h6v6h-6zM490,365h6v6h-6zM502,371h6v6h-6z"/>
<path fill="#a4a0a6" d="M460,77h6v6h-6zM478,125h6v6h-6zM484,137h6v6h-6z"/>
<path fill="#a8a4aa" d="M466,77h6v6h-6zM484,119h6v6h-6zM502,161h6v6h-6zM502,173h6v6h-6zM496,197h6v6h-6zM502,317h6v6h-6zM508,317h6v6h-6z"/>
<path fill="#acaab0" d="M484,77h6v6h-6zM478,83h6v6h-6zM508,131h6v6h-6zM508,209h6v6h-6zM508,215h6v6h-6zM502,263h6v6h-6zM508,263h6v6h-6zM472,269h6v6h-6zM478,269h6v6h-6zM484,269h6v6h-6zM490,269h6v6h-6zM496,269h6v6h-6zM502,269h6v6h-6zM508,269h6v6h-6zM472,275h6v6h-6zM508,275h6v6h-6zM466,287h6v6h-6zM466,293h6v6h-6zM508,293h6v6h-6zM496,299h6v6h-6zM502,299h6v6h-6zM472,305h6v6h-6zM478,305h6v6h-6zM484,305h6v6h-6z"/>
<path fill="#706c78" d="M82,83h6v6h-6zM82,89h6v6h-6zM88,89h6v6h-6zM82,95h6v6h-6zM82,479h6v6h-6zM82,485h6v6h-6zM88,485h6v6h-6zM82,491h6v6h-6zM88,491h6v6h-6zM94,491h6v6h-6zM82,497h6v6h-6zM88,497h6v6h-6zM94,497h6v6h-6zM100,497h6v6h-6zM448,497h6v6h-6zM82,503h6v6h-6zM88,503h6v6h-6zM94,503h6v6h-6zM100,503h6v6h-6zM106,503h6v6h-6zM82,509h6v6h-6zM88,509h6v6h-6zM94,509h6v6h-6zM100,509h6v6h-6zM106,509h6v6h-6zM112,509h6v6h-6zM82,515h6v6h-6zM88,515h6v6h-6zM94,515h6v6h-6zM100,515h6v6h-6zM106,515h6v6h-6zM112,515h6v6h-6zM118,515h6v6h-6zM124,515h6v6h-6zM82,521h6v6h-6zM88,521h6v6h-6zM94,521h6v6h-6zM100,521h6v6h-6zM106,521h6v6h-6zM112,521h6v6h-6zM118,521h6v6h-6zM124,521h6v6h-6zM130,521h6v6h-6zM412,521h6v6h-6zM82,527h6v6h-6zM88,527h6v6h-6zM94,527h6v6h-6zM100,527h6v6h-6zM106,527h6v6h-6zM112,527h6v6h-6zM118,527h6v6h-6zM124,527h6v6h-6zM130,527h6v6h-6zM136,527h6v6h-6zM142,527h6v6h-6zM400,527h6v6h-6zM82,533h6v6h-6zM88,533h6v6h-6zM94,533h6v6h-6zM100,533h6v6h-6zM106,533h6v6h-6zM112,533h6v6h-6zM118,533h6v6h-6zM124,533h6v6h-6zM130,533h6v6h-6zM136,533h6v6h-6zM142,533h6v6h-6zM148,533h6v6h-6zM154,533h6v6h-6zM388,533h6v6h-6zM82,539h6v6h-6zM88,539h6v6h-6zM94,539h6v6h-6zM100,539h6v6h-6zM106,539h6v6h-6zM112,539h6v6h-6zM118,539h6v6h-6zM124,539h6v6h-6zM130,539h6v6h-6zM136,539h6v6h-6zM142,539h6v6h-6zM148,539h6v6h-6zM154,539h6v6h-6zM160,539h6v6h-6zM166,539h6v6h-6zM376,539h6v6h-6z"/>
<path fill="#50485e" d="M244,83h6v6h-6zM280,83h6v6h-6zM286,95h6v6h-6zM292,101h6v6h-6zM124,167h6v6h-6zM124,173h6v6h-6zM124,191h6v6h-6z"/>
<path fill="#50485c" d="M250,83h6v6h-6zM256,83h6v6h-6zM262,83h6v6h-6zM268,83h6v6h-6zM274,83h6v6h-6zM220,89h6v6h-6zM226,89h6v6h-6zM232,89h6v6h-6zM238,89h6v6h-6zM268,89h6v6h-6zM274,89h6v6h-6zM280,89h6v6h-6zM286,89h6v6h-6zM202,95h6v6h-6zM208,95h6v6h-6zM190,101h6v6h-6zM178,107h6v6h-6zM160,119h6v6h-6zM154,125h6v6h-6zM148,131h6v6h-6zM142,137h6v6h-6zM136,143h6v6h-6zM130,155h6v6h-6z"/>
<path fill="#5a5266" d="M328,83h6v6h-6zM334,89h6v6h-6zM340,95h6v6h-6zM340,101h6v6h-6zM340,107h6v6h-6zM346,113h6v6h-6zM106,167h6v6h-6zM100,191h6v6h-6zM100,215h6v6h-6zM100,221h6v6h-6zM100,227h6v6h-6z"/>
<path fill="#605a6c" d="M358,83h6v6h-6zM370,101h6v6h-6zM370,107h6v6h-6zM88,251h6v6h-6zM292,485h6v6h-6z"/>
<path fill="#665e70" d="M376,83h6v6h-6zM382,113h6v6h-6zM382,119h6v6h-6zM82,275h6v6h-6zM88,281h6v6h-6zM94,287h6v6h-6zM100,335h6v6h-6zM112,371h6v6h-6zM118,383h6v6h-6zM130,401h6v6h-6zM160,437h6v6h-6zM166,443h6v6h-6zM172,449h6v6h-6zM178,455h6v6h-6zM184,461h6v6h-6zM190,467h6v6h-6zM196,473h6v6h-6zM208,479h6v6h-6zM220,485h6v6h-6zM238,491h6v6h-6zM304,491h6v6h-6zM256,497h6v6h-6zM292,497h6v6h-6z"/>
<path fill="#827e88" d="M418,83h6v6h-6zM472,419h6v6h-6zM472,425h6v6h-6z"/>
<path fill="#86828c" d="M424,83h6v6h-6zM430,107h6v6h-6zM436,137h6v6h-6zM442,167h6v6h-6z"/>
<path fill="#8c8890" d="M430,83h6v6h-6z"/>
<path fill="#98969e" d="M448,83h6v6h-6zM454,119h6v6h-6zM466,149h6v6h-6zM466,197h6v6h-6zM490,359h6v6h-6z"/>
<path fill="#aeaeb2" d="M508,83h6v6h-6zM508,89h6v6h-6zM502,95h6v6h-6zM508,95h6v6h-6zM496,101h6v6h-6zM502,101h6v6h-6zM508,101h6v6h-6zM496,107h6v6h-6zM502,107h6v6h-6z"/>
<path fill="#6c6876" d="M100,89h6v6h-6zM88,107h6v6h-6zM412,533h6v6h-6z"/>
<path fill="#665e6e" d="M130,89h6v6h-6z"/>
<path fill="#50465c" d="M244,89h6v6h-6zM250,89h6v6h-6zM256,89h6v6h-6zM262,89h6v6h-6zM274,95h6v6h-6zM280,95h6v6h-6zM172,113h6v6h-6z"/>
<path fill="#6e6878" d="M394,89h6v6h-6zM394,95h6v6h-6zM400,119h6v6h-6zM400,125h6v6h-6zM406,143h6v6h-6zM82,389h6v6h-6zM82,395h6v6h-6zM88,401h6v6h-6zM94,413h6v6h-6zM100,419h6v6h-6zM106,431h6v6h-6zM112,437h6v6h-6zM118,443h6v6h-6zM124,449h6v6h-6zM130,455h6v6h-6zM136,461h6v6h-6zM364,461h6v6h-6zM142,467h6v6h-6zM148,473h6v6h-6zM358,473h6v6h-6zM352,479h6v6h-6zM166,485h6v6h-6zM352,485h6v6h-6zM346,491h6v6h-6zM184,497h6v6h-6zM334,497h6v6h-6zM202,503h6v6h-6zM328,503h6v6h-6zM214,509h6v6h-6zM316,509h6v6h-6zM232,515h6v6h-6zM238,515h6v6h-6zM304,515h6v6h-6zM274,521h6v6h-6zM280,521h6v6h-6z"/>
<path fill="#726e7c" d="M400,89h6v6h-6zM316,521h6v6h-6zM298,527h6v6h-6zM304,533h6v6h-6z"/>
<path fill="#7c7682" d="M412,89h6v6h-6zM496,431h6v6h-6zM490,437h6v6h-6zM484,443h6v6h-6zM454,467h6v6h-6zM412,479h6v6h-6zM436,479h6v6h-6zM400,497h6v6h-6z"/>
<path fill="#949098" d="M442,89h6v6h-6zM454,137h6v6h-6zM460,161h6v6h-6zM502,377h6v6h-6zM508,377h6v6h-6z"/>
<path fill="#4e465c" d="M214,95h6v6h-6zM256,95h6v6h-6zM262,95h6v6h-6zM268,95h6v6h-6zM196,101h6v6h-6zM280,101h6v6h-6zM136,149h6v6h-6zM130,161h6v6h-6zM130,167h6v6h-6z"/>
<path fill="#4e465a" d="M220,95h6v6h-6zM226,95h6v6h-6zM232,95h6v6h-6zM202,101h6v6h-6zM184,107h6v6h-6zM166,119h6v6h-6zM160,125h6v6h-6zM154,131h6v6h-6zM148,137h6v6h-6zM142,143h6v6h-6z"/>
<path fill="#4e445a" d="M238,95h6v6h-6zM244,95h6v6h-6zM250,95h6v6h-6zM190,107h6v6h-6zM178,113h6v6h-6zM136,155h6v6h-6z"/>
<path fill="#52485e" d="M292,95h6v6h-6z"/>
<path fill="#524a60" d="M298,95h6v6h-6zM118,173h6v6h-6zM118,185h6v6h-6zM118,191h6v6h-6zM118,197h6v6h-6z"/>
<path fill="#5c5468" d="M346,95h6v6h-6zM352,101h6v6h-6zM352,107h6v6h-6zM352,113h6v6h-6zM358,119h6v6h-6zM94,203h6v6h-6zM94,221h6v6h-6zM94,227h6v6h-6zM100,239h6v6h-6z"/>
<path fill="#686072" d="M382,95h6v6h-6zM388,125h6v6h-6zM82,287h6v6h-6zM88,293h6v6h-6zM88,299h6v6h-6zM88,305h6v6h-6zM88,311h6v6h-6zM88,317h6v6h-6zM88,323h6v6h-6zM88,329h6v6h-6zM94,329h6v6h-6zM94,335h6v6h-6zM94,341h6v6h-6zM94,347h6v6h-6zM100,353h6v6h-6zM100,359h6v6h-6zM100,365h6v6h-6zM106,365h6v6h-6zM106,371h6v6h-6zM106,377h6v6h-6zM112,383h6v6h-6zM112,389h6v6h-6zM118,389h6v6h-6zM118,395h6v6h-6zM124,401h6v6h-6zM124,407h6v6h-6zM130,407h6v6h-6zM130,413h6v6h-6zM136,419h6v6h-6zM142,425h6v6h-6zM148,431h6v6h-6zM148,437h6v6h-6zM154,443h6v6h-6zM160,449h6v6h-6zM166,455h6v6h-6zM172,461h6v6h-6zM178,467h6v6h-6zM196,479h6v6h-6zM328,479h6v6h-6zM208,485h6v6h-6zM322,485h6v6h-6zM220,491h6v6h-6zM238,497h6v6h-6zM304,497h6v6h-6zM262,503h6v6h-6z"/>
<path fill="#726c7a" d="M400,95h6v6h-6zM400,101h6v6h-6zM406,125h6v6h-6zM82,413h6v6h-6zM82,419h6v6h-6zM82,425h6v6h-6zM88,425h6v6h-6zM82,431h6v6h-6zM88,431h6v6h-6zM94,431h6v6h-6zM82,437h6v6h-6zM88,437h6v6h-6zM94,437h6v6h-6zM82,443h6v6h-6zM88,443h6v6h-6zM94,443h6v6h-6zM100,443h6v6h-6zM82,449h6v6h-6zM88,449h6v6h-6zM94,449h6v6h-6zM100,449h6v6h-6zM106,449h6v6h-6zM508,449h6v6h-6zM82,455h6v6h-6zM88,455h6v6h-6zM94,455h6v6h-6zM100,455h6v6h-6zM106,455h6v6h-6zM112,455h6v6h-6zM82,461h6v6h-6zM88,461h6v6h-6zM94,461h6v6h-6zM100,461h6v6h-6zM106,461h6v6h-6zM112,461h6v6h-6zM118,461h6v6h-6zM490,461h6v6h-6zM82,467h6v6h-6zM88,467h6v6h-6zM94,467h6v6h-6zM100,467h6v6h-6zM106,467h6v6h-6zM112,467h6v6h-6zM118,467h6v6h-6zM124,467h6v6h-6zM376,467h6v6h-6zM484,467h6v6h-6zM88,473h6v6h-6zM94,473h6v6h-6zM100,473h6v6h-6zM106,473h6v6h-6zM112,473h6v6h-6zM118,473h6v6h-6zM124,473h6v6h-6zM130,473h6v6h-6zM370,473h6v6h-6zM472,473h6v6h-6zM88,479h6v6h-6zM94,479h6v6h-6zM100,479h6v6h-6zM106,479h6v6h-6zM112,479h6v6h-6zM118,479h6v6h-6zM124,479h6v6h-6zM130,479h6v6h-6zM136,479h6v6h-6zM142,479h6v6h-6zM466,479h6v6h-6zM94,485h6v6h-6zM100,485h6v6h-6zM106,485h6v6h-6zM112,485h6v6h-6zM118,485h6v6h-6zM124,485h6v6h-6zM130,485h6v6h-6zM136,485h6v6h-6zM142,485h6v6h-6zM148,485h6v6h-6zM364,485h6v6h-6zM460,485h6v6h-6zM106,491h6v6h-6zM112,491h6v6h-6zM118,491h6v6h-6zM124,491h6v6h-6zM130,491h6v6h-6zM136,491h6v6h-6zM142,491h6v6h-6zM148,491h6v6h-6zM154,491h6v6h-6zM358,491h6v6h-6zM112,497h6v6h-6zM118,497h6v6h-6zM124,497h6v6h-6zM130,497h6v6h-6zM136,497h6v6h-6zM142,497h6v6h-6zM148,497h6v6h-6zM154,497h6v6h-6zM160,497h6v6h-6zM166,497h6v6h-6zM352,497h6v6h-6zM118,503h6v6h-6zM124,503h6v6h-6zM130,503h6v6h-6zM136,503h6v6h-6zM142,503h6v6h-6zM148,503h6v6h-6zM154,503h6v6h-6zM160,503h6v6h-6zM166,503h6v6h-6zM172,503h6v6h-6zM178,503h6v6h-6zM346,503h6v6h-6zM436,503h6v6h-6zM124,509h6v6h-6zM130,509h6v6h-6zM136,509h6v6h-6zM142,509h6v6h-6zM148,509h6v6h-6zM154,509h6v6h-6zM160,509h6v6h-6zM166,509h6v6h-6zM172,509h6v6h-6zM178,509h6v6h-6zM184,509h6v6h-6zM190,509h6v6h-6zM334,509h6v6h-6zM430,509h6v6h-6zM136,515h6v6h-6zM142,515h6v6h-6zM148,515h6v6h-6zM154,515h6v6h-6zM160,515h6v6h-6zM166,515h6v6h-6zM172,515h6v6h-6zM178,515h6v6h-6zM184,515h6v6h-6zM190,515h6v6h-6zM196,515h6v6h-6zM202,515h6v6h-6zM208,515h6v6h-6zM322,515h6v6h-6zM328,515h6v6h-6zM418,515h6v6h-6zM142,521h6v6h-6zM148,521h6v6h-6zM154,521h6v6h-6zM160,521h6v6h-6zM166,521h6v6h-6zM172,521h6v6h-6zM178,521h6v6h-6zM184,521h6v6h-6zM190,521h6v6h-6zM196,521h6v6h-6zM202,521h6v6h-6zM208,521h6v6h-6zM214,521h6v6h-6zM220,521h6v6h-6zM226,521h6v6h-6zM232,521h6v6h-6zM304,521h6v6h-6zM310,521h6v6h-6zM406,521h6v6h-6zM154,527h6v6h-6zM160,527h6v6h-6zM166,527h6v6h-6zM172,527h6v6h-6zM178,527h6v6h-6zM184,527h6v6h-6zM190,527h6v6h-6zM196,527h6v6h-6zM202,527h6v6h-6zM208,527h6v6h-6zM214,527h6v6h-6zM220,527h6v6h-6zM226,527h6v6h-6zM232,527h6v6h-6zM238,527h6v6h-6zM244,527h6v6h-6zM250,527h6v6h-6zM256,527h6v6h-6zM262,527h6v6h-6zM268,527h6v6h-6zM274,527h6v6h-6zM280,527h6v6h-6zM286,527h6v6h-6zM292,527h6v6h-6zM394,527h6v6h-6zM166,533h6v6h-6zM172,533h6v6h-6zM178,533h6v6h-6zM184,533h6v6h-6zM190,533h6v6h-6zM196,533h6v6h-6zM202,533h6v6h-6zM208,533h6v6h-6zM214,533h6v6h-6zM220,533h6v6h-6zM226,533h6v6h-6zM232,533h6v6h-6zM238,533h6v6h-6zM244,533h6v6h-6zM250,533h6v6h-6zM256,533h6v6h-6zM262,533h6v6h-6zM268,533h6v6h-6zM274,533h6v6h-6zM280,533h6v6h-6zM286,533h6v6h-6zM292,533h6v6h-6zM376,533h6v6h-6zM382,533h6v6h-6zM178,539h6v6h-6zM184,539h6v6h-6zM190,539h6v6h-6zM196,539h6v6h-6zM202,539h6v6h-6zM208,539h6v6h-6zM214,539h6v6h-6zM220,539h6v6h-6zM226,539h6v6h-6zM232,539h6v6h-6zM238,539h6v6h-6zM244,539h6v6h-6zM250,539h6v6h-6zM256,539h6v6h-6zM262,539h6v6h-6zM268,539h6v6h-6zM274,539h6v6h-6zM280,539h6v6h-6zM286,539h6v6h-6zM292,539h6v6h-6zM298,539h6v6h-6zM304,539h6v6h-6zM352,539h6v6h-6zM358,539h6v6h-6zM364,539h6v6h-6zM370,539h6v6h-6z"/>
<path fill="#8e8a92" d="M436,95h6v6h-6zM496,389h6v6h-6zM508,389h6v6h-6z"/>
<path fill="#9c98a0" d="M454,95h6v6h-6zM460,119h6v6h-6zM466,137h6v6h-6zM472,155h6v6h-6zM472,191h6v6h-6zM466,209h6v6h-6zM460,215h6v6h-6zM460,335h6v6h-6zM466,347h6v6h-6zM472,347h6v6h-6zM490,353h6v6h-6zM508,359h6v6h-6z"/>
<path fill="#4c445a" d="M208,101h6v6h-6zM214,101h6v6h-6zM226,101h6v6h-6zM238,101h6v6h-6zM244,101h6v6h-6zM250,101h6v6h-6zM172,119h6v6h-6zM136,161h6v6h-6z"/>
<path fill="#4c4458" d="M220,101h6v6h-6zM196,107h6v6h-6zM166,125h6v6h-6z"/>
<path fill="#4c425a" d="M232,101h6v6h-6zM238,107h6v6h-6zM244,107h6v6h-6zM250,107h6v6h-6zM256,107h6v6h-6zM136,167h6v6h-6z"/>
<path fill="#4e445c" d="M256,101h6v6h-6zM262,101h6v6h-6zM268,101h6v6h-6zM274,101h6v6h-6zM286,107h6v6h-6zM130,173h6v6h-6zM130,179h6v6h-6z"/>
<path fill="#50465e" d="M286,101h6v6h-6zM298,107h6v6h-6zM124,179h6v6h-6zM124,185h6v6h-6zM130,191h6v6h-6z"/>
<path fill="#524860" d="M298,101h6v6h-6zM304,107h6v6h-6zM310,107h6v6h-6zM124,197h6v6h-6zM124,203h6v6h-6z"/>
<path fill="#544a60" d="M304,101h6v6h-6z"/>
<path fill="#544c62" d="M310,101h6v6h-6zM112,197h6v6h-6zM112,203h6v6h-6z"/>
<path fill="#564c62" d="M316,101h6v6h-6zM322,107h6v6h-6zM112,209h6v6h-6z"/>
<path fill="#564e64" d="M322,101h6v6h-6zM328,107h6v6h-6zM334,113h6v6h-6zM112,227h6v6h-6z"/>
<path fill="#4c4258" d="M202,107h6v6h-6zM184,113h6v6h-6zM160,131h6v6h-6zM154,137h6v6h-6zM148,143h6v6h-6zM142,149h6v6h-6z"/>
<path fill="#4a4258" d="M208,107h6v6h-6zM214,107h6v6h-6zM220,107h6v6h-6zM226,107h6v6h-6zM190,113h6v6h-6zM178,119h6v6h-6zM172,125h6v6h-6zM142,155h6v6h-6z"/>
<path fill="#4a425a" d="M232,107h6v6h-6z"/>
<path fill="#4c425c" d="M262,107h6v6h-6zM268,107h6v6h-6zM274,107h6v6h-6zM286,113h6v6h-6zM136,173h6v6h-6zM142,179h6v6h-6zM142,185h6v6h-6z"/>
<path fill="#4e425c" d="M280,107h6v6h-6zM136,179h6v6h-6z"/>
<path fill="#50445e" d="M292,107h6v6h-6z"/>
<path fill="#544a62" d="M316,107h6v6h-6zM322,113h6v6h-6zM118,203h6v6h-6zM118,209h6v6h-6zM118,215h6v6h-6z"/>
<path fill="#585066" d="M334,107h6v6h-6zM340,113h6v6h-6zM346,119h6v6h-6zM106,221h6v6h-6zM106,227h6v6h-6z"/>
<path fill="#5a5268" d="M346,107h6v6h-6zM352,119h6v6h-6zM358,125h6v6h-6zM106,245h6v6h-6zM274,473h6v6h-6zM286,473h6v6h-6z"/>
<path fill="#6e6676" d="M394,107h6v6h-6zM136,455h6v6h-6zM142,461h6v6h-6zM292,515h6v6h-6z"/>
<path fill="#706a7a" d="M400,107h6v6h-6zM406,131h6v6h-6zM412,149h6v6h-6zM88,419h6v6h-6zM106,443h6v6h-6zM112,449h6v6h-6zM118,455h6v6h-6zM124,461h6v6h-6zM370,461h6v6h-6zM130,467h6v6h-6zM370,467h6v6h-6zM364,479h6v6h-6zM154,485h6v6h-6zM358,485h6v6h-6zM352,491h6v6h-6zM172,497h6v6h-6zM346,497h6v6h-6zM184,503h6v6h-6zM340,503h6v6h-6zM328,509h6v6h-6zM316,515h6v6h-6zM238,521h6v6h-6z"/>
<path fill="#74707e" d="M406,107h6v6h-6zM388,467h6v6h-6zM352,509h6v6h-6z"/>
<path fill="#787480" d="M412,107h6v6h-6zM418,131h6v6h-6zM508,431h6v6h-6zM502,437h6v6h-6zM484,449h6v6h-6zM478,455h6v6h-6zM406,461h6v6h-6zM460,467h6v6h-6zM454,473h6v6h-6zM400,479h6v6h-6zM394,485h6v6h-6zM436,485h6v6h-6zM418,497h6v6h-6zM406,503h6v6h-6zM382,509h6v6h-6zM388,509h6v6h-6z"/>
<path fill="#7e7884" d="M418,107h6v6h-6zM424,131h6v6h-6zM502,419h6v6h-6zM496,425h6v6h-6zM430,431h6v6h-6zM490,431h6v6h-6zM484,437h6v6h-6zM430,443h6v6h-6zM478,443h6v6h-6zM430,449h6v6h-6zM430,455h6v6h-6zM430,461h6v6h-6zM448,467h6v6h-6zM424,479h6v6h-6zM430,479h6v6h-6z"/>
<path fill="#827c88" d="M424,107h6v6h-6zM436,161h6v6h-6zM472,401h6v6h-6zM472,407h6v6h-6zM472,413h6v6h-6zM490,419h6v6h-6zM466,425h6v6h-6zM484,425h6v6h-6zM466,431h6v6h-6zM478,431h6v6h-6zM466,437h6v6h-6zM472,437h6v6h-6zM466,443h6v6h-6z"/>
<path fill="#aeacb2" d="M508,107h6v6h-6zM502,113h6v6h-6zM508,113h6v6h-6zM478,275h6v6h-6zM472,281h6v6h-6zM484,281h6v6h-6zM490,281h6v6h-6zM496,281h6v6h-6zM496,287h6v6h-6zM502,287h6v6h-6zM496,293h6v6h-6zM472,299h6v6h-6zM478,299h6v6h-6z"/>
<path fill="#4a4058" d="M196,113h6v6h-6zM202,113h6v6h-6zM208,113h6v6h-6zM214,113h6v6h-6zM220,113h6v6h-6zM166,131h6v6h-6zM160,137h6v6h-6zM154,143h6v6h-6zM148,149h6v6h-6zM142,161h6v6h-6z"/>
<path fill="#4a405a" d="M226,113h6v6h-6zM232,113h6v6h-6zM238,113h6v6h-6zM244,113h6v6h-6zM250,113h6v6h-6zM256,113h6v6h-6zM142,167h6v6h-6zM148,167h6v6h-6zM148,173h6v6h-6z"/>
<path fill="#4c405c" d="M262,113h6v6h-6zM268,113h6v6h-6zM274,113h6v6h-6zM280,113h6v6h-6zM292,119h6v6h-6zM148,179h6v6h-6zM148,185h6v6h-6z"/>
<path fill="#4e425e" d="M292,113h6v6h-6zM298,119h6v6h-6zM304,119h6v6h-6zM142,191h6v6h-6zM142,197h6v6h-6z"/>
<path fill="#4e445e" d="M298,113h6v6h-6zM130,185h6v6h-6zM136,185h6v6h-6zM136,191h6v6h-6zM136,197h6v6h-6z"/>
<path fill="#504660" d="M304,113h6v6h-6zM130,197h6v6h-6zM130,203h6v6h-6zM130,209h6v6h-6z"/>
<path fill="#524660" d="M310,113h6v6h-6z"/>
<path fill="#524862" d="M316,113h6v6h-6zM322,119h6v6h-6zM328,125h6v6h-6zM124,209h6v6h-6zM124,215h6v6h-6z"/>
<path fill="#564c64" d="M328,113h6v6h-6zM334,119h6v6h-6zM112,215h6v6h-6zM112,221h6v6h-6z"/>
<path fill="#5e546a" d="M358,113h6v6h-6zM100,251h6v6h-6zM190,443h6v6h-6zM208,455h6v6h-6zM232,467h6v6h-6zM250,473h6v6h-6zM298,473h6v6h-6zM274,479h6v6h-6z"/>
<path fill="#5e566a" d="M364,113h6v6h-6zM364,119h6v6h-6zM94,239h6v6h-6zM94,245h6v6h-6zM100,257h6v6h-6zM244,473h6v6h-6zM262,479h6v6h-6zM268,479h6v6h-6zM286,479h6v6h-6z"/>
<path fill="#60586c" d="M370,113h6v6h-6zM370,119h6v6h-6zM94,251h6v6h-6zM94,257h6v6h-6zM196,455h6v6h-6zM208,461h6v6h-6zM220,467h6v6h-6zM232,473h6v6h-6zM244,479h6v6h-6zM250,479h6v6h-6zM256,479h6v6h-6zM298,479h6v6h-6zM262,485h6v6h-6zM268,485h6v6h-6zM274,485h6v6h-6zM286,485h6v6h-6z"/>
<path fill="#625c6e" d="M376,113h6v6h-6zM376,119h6v6h-6zM82,251h6v6h-6zM88,263h6v6h-6zM226,479h6v6h-6zM238,485h6v6h-6zM262,491h6v6h-6zM292,491h6v6h-6z"/>
<path fill="#6c6676" d="M394,113h6v6h-6zM400,131h6v6h-6zM82,365h6v6h-6zM82,371h6v6h-6zM82,377h6v6h-6zM88,383h6v6h-6zM88,389h6v6h-6zM94,395h6v6h-6zM94,401h6v6h-6zM100,407h6v6h-6zM106,413h6v6h-6zM106,419h6v6h-6zM112,419h6v6h-6zM112,425h6v6h-6zM118,431h6v6h-6zM124,437h6v6h-6zM130,443h6v6h-6zM136,449h6v6h-6zM142,455h6v6h-6zM148,461h6v6h-6zM154,467h6v6h-6zM160,473h6v6h-6zM352,473h6v6h-6zM166,479h6v6h-6zM172,479h6v6h-6zM346,479h6v6h-6zM178,485h6v6h-6zM340,485h6v6h-6zM184,491h6v6h-6zM190,491h6v6h-6zM334,491h6v6h-6zM196,497h6v6h-6zM202,497h6v6h-6zM328,497h6v6h-6zM214,503h6v6h-6zM316,503h6v6h-6zM232,509h6v6h-6zM238,509h6v6h-6zM304,509h6v6h-6zM256,515h6v6h-6zM262,515h6v6h-6zM268,515h6v6h-6zM274,515h6v6h-6zM280,515h6v6h-6zM286,515h6v6h-6z"/>
<path fill="#524c5e" d="M154,119h6v6h-6zM136,137h6v6h-6z"/>
<path fill="#484056" d="M184,119h6v6h-6zM178,125h6v6h-6z"/>
<path fill="#483e56" d="M190,119h6v6h-6zM196,119h6v6h-6zM184,125h6v6h-6zM190,125h6v6h-6zM196,125h6v6h-6zM172,131h6v6h-6zM178,131h6v6h-6zM166,137h6v6h-6zM172,137h6v6h-6zM160,143h6v6h-6zM166,143h6v6h-6zM154,149h6v6h-6z"/>
<path fill="#483e58" d="M202,119h6v6h-6zM208,119h6v6h-6zM214,119h6v6h-6zM202,125h6v6h-6zM208,125h6v6h-6zM214,125h6v6h-6zM172,143h6v6h-6zM160,149h6v6h-6zM166,149h6v6h-6zM148,155h6v6h-6zM154,155h6v6h-6zM160,155h6v6h-6zM154,161h6v6h-6z"/>
<path fill="#4a3e58" d="M220,119h6v6h-6zM148,161h6v6h-6z"/>
<path fill="#4a3e5a" d="M226,119h6v6h-6zM232,119h6v6h-6zM238,119h6v6h-6zM244,119h6v6h-6zM250,119h6v6h-6zM256,119h6v6h-6zM262,119h6v6h-6zM154,167h6v6h-6zM154,173h6v6h-6z"/>
<path fill="#4a3e5c" d="M268,119h6v6h-6zM274,119h6v6h-6zM280,119h6v6h-6zM286,119h6v6h-6zM292,125h6v6h-6zM154,179h6v6h-6zM154,185h6v6h-6z"/>
<path fill="#504460" d="M310,119h6v6h-6zM316,125h6v6h-6zM136,203h6v6h-6zM136,209h6v6h-6z"/>
<path fill="#524662" d="M316,119h6v6h-6zM322,125h6v6h-6zM328,131h6v6h-6zM130,215h6v6h-6zM130,221h6v6h-6z"/>
<path fill="#544a64" d="M328,119h6v6h-6zM334,125h6v6h-6zM340,131h6v6h-6zM118,221h6v6h-6zM250,455h6v6h-6zM280,461h6v6h-6z"/>
<path fill="#584e66" d="M340,119h6v6h-6zM346,125h6v6h-6zM112,233h6v6h-6zM112,239h6v6h-6zM232,455h6v6h-6zM268,467h6v6h-6zM274,467h6v6h-6zM280,467h6v6h-6zM286,467h6v6h-6z"/>
<path fill="#6c6474" d="M394,119h6v6h-6zM82,359h6v6h-6zM106,407h6v6h-6zM118,425h6v6h-6zM124,431h6v6h-6zM130,437h6v6h-6zM166,473h6v6h-6zM184,485h6v6h-6zM196,491h6v6h-6zM208,497h6v6h-6zM322,497h6v6h-6z"/>
<path fill="#726c7c" d="M406,119h6v6h-6zM412,137h6v6h-6zM412,143h6v6h-6zM418,161h6v6h-6zM376,461h6v6h-6zM376,473h6v6h-6zM370,479h6v6h-6zM340,509h6v6h-6z"/>
<path fill="#767280" d="M412,119h6v6h-6zM394,473h6v6h-6zM382,491h6v6h-6z"/>
<path fill="#7c7684" d="M418,119h6v6h-6zM424,137h6v6h-6zM430,407h6v6h-6zM418,431h6v6h-6zM418,437h6v6h-6zM424,437h6v6h-6zM424,443h6v6h-6zM424,449h6v6h-6zM424,455h6v6h-6zM418,461h6v6h-6zM460,461h6v6h-6zM418,467h6v6h-6zM418,473h6v6h-6zM412,485h6v6h-6zM424,485h6v6h-6zM406,491h6v6h-6zM412,491h6v6h-6z"/>
<path fill="#807a88" d="M424,119h6v6h-6zM460,395h6v6h-6zM460,401h6v6h-6zM460,407h6v6h-6zM454,425h6v6h-6zM454,431h6v6h-6z"/>
<path fill="#94909a" d="M448,119h6v6h-6zM460,155h6v6h-6zM460,185h6v6h-6zM460,191h6v6h-6zM454,203h6v6h-6zM454,209h6v6h-6zM454,215h6v6h-6zM454,221h6v6h-6zM454,227h6v6h-6zM454,233h6v6h-6zM454,341h6v6h-6zM460,353h6v6h-6zM466,359h6v6h-6zM472,359h6v6h-6zM484,365h6v6h-6zM496,371h6v6h-6z"/>
<path fill="#483e5a" d="M220,125h6v6h-6zM226,125h6v6h-6z"/>
<path fill="#483c5a" d="M232,125h6v6h-6zM238,125h6v6h-6zM244,125h6v6h-6zM250,125h6v6h-6zM256,125h6v6h-6zM262,125h6v6h-6zM268,125h6v6h-6zM274,125h6v6h-6zM214,131h6v6h-6zM220,131h6v6h-6zM226,131h6v6h-6zM232,131h6v6h-6zM238,131h6v6h-6zM202,137h6v6h-6zM208,137h6v6h-6zM214,137h6v6h-6zM220,137h6v6h-6zM196,143h6v6h-6zM202,143h6v6h-6zM184,149h6v6h-6zM190,149h6v6h-6zM178,155h6v6h-6zM184,155h6v6h-6zM166,161h6v6h-6zM172,161h6v6h-6zM178,161h6v6h-6zM160,167h6v6h-6zM166,167h6v6h-6zM172,167h6v6h-6zM160,173h6v6h-6zM166,173h6v6h-6z"/>
<path fill="#483c5c" d="M280,125h6v6h-6z"/>
<path fill="#4a3c5c" d="M286,125h6v6h-6zM298,131h6v6h-6zM160,179h6v6h-6zM160,185h6v6h-6zM160,191h6v6h-6z"/>
<path fill="#4c405e" d="M298,125h6v6h-6zM148,191h6v6h-6zM148,197h6v6h-6zM148,203h6v6h-6z"/>
<path fill="#4e405e" d="M304,125h6v6h-6z"/>
<path fill="#4e4260" d="M310,125h6v6h-6zM316,131h6v6h-6zM142,203h6v6h-6zM142,209h6v6h-6z"/>
<path fill="#564c66" d="M340,125h6v6h-6zM346,131h6v6h-6zM352,137h6v6h-6zM118,239h6v6h-6zM118,245h6v6h-6zM202,437h6v6h-6zM238,455h6v6h-6zM256,461h6v6h-6zM262,461h6v6h-6zM292,461h6v6h-6z"/>
<path fill="#5a5068" d="M352,125h6v6h-6zM358,131h6v6h-6zM106,239h6v6h-6zM112,257h6v6h-6zM184,431h6v6h-6zM208,449h6v6h-6zM220,455h6v6h-6zM232,461h6v6h-6zM238,461h6v6h-6zM304,461h6v6h-6zM250,467h6v6h-6zM256,467h6v6h-6zM292,467h6v6h-6zM280,473h6v6h-6z"/>
<path fill="#5c546a" d="M364,125h6v6h-6zM100,245h6v6h-6zM220,461h6v6h-6zM256,473h6v6h-6zM280,479h6v6h-6z"/>
<path fill="#60566c" d="M370,125h6v6h-6zM376,137h6v6h-6zM100,269h6v6h-6zM106,281h6v6h-6zM112,329h6v6h-6zM118,353h6v6h-6zM148,407h6v6h-6zM184,443h6v6h-6zM190,449h6v6h-6zM238,473h6v6h-6zM304,473h6v6h-6z"/>
<path fill="#625a6e" d="M376,125h6v6h-6zM382,137h6v6h-6zM94,269h6v6h-6zM94,275h6v6h-6zM106,335h6v6h-6zM112,353h6v6h-6zM136,401h6v6h-6zM142,407h6v6h-6zM184,449h6v6h-6zM190,455h6v6h-6zM202,461h6v6h-6zM208,467h6v6h-6zM214,467h6v6h-6zM220,473h6v6h-6zM226,473h6v6h-6zM316,473h6v6h-6zM232,479h6v6h-6zM304,479h6v6h-6zM298,485h6v6h-6z"/>
<path fill="#645e70" d="M382,125h6v6h-6zM82,269h6v6h-6zM88,275h6v6h-6zM196,467h6v6h-6zM316,479h6v6h-6zM310,485h6v6h-6zM262,497h6v6h-6z"/>
<path fill="#9a98a0" d="M460,125h6v6h-6zM472,161h6v6h-6zM472,167h6v6h-6zM472,179h6v6h-6zM472,185h6v6h-6zM484,353h6v6h-6zM502,359h6v6h-6z"/>
<path fill="#483c56" d="M184,131h6v6h-6zM190,131h6v6h-6zM178,137h6v6h-6z"/>
<path fill="#483c58" d="M196,131h6v6h-6zM202,131h6v6h-6zM208,131h6v6h-6zM184,137h6v6h-6zM190,137h6v6h-6zM196,137h6v6h-6zM178,143h6v6h-6zM184,143h6v6h-6zM190,143h6v6h-6zM172,149h6v6h-6zM178,149h6v6h-6zM166,155h6v6h-6zM172,155h6v6h-6zM160,161h6v6h-6z"/>
<path fill="#483a5a" d="M244,131h6v6h-6zM250,131h6v6h-6zM256,131h6v6h-6zM262,131h6v6h-6zM268,131h6v6h-6zM286,131h6v6h-6zM226,137h6v6h-6zM232,137h6v6h-6zM238,137h6v6h-6zM208,143h6v6h-6zM214,143h6v6h-6zM220,143h6v6h-6zM196,149h6v6h-6zM202,149h6v6h-6zM208,149h6v6h-6zM190,155h6v6h-6zM196,155h6v6h-6zM184,161h6v6h-6zM190,161h6v6h-6zM178,167h6v6h-6zM172,173h6v6h-6z"/>
<path fill="#46385a" d="M274,131h6v6h-6zM280,131h6v6h-6zM244,137h6v6h-6zM250,137h6v6h-6zM292,137h6v6h-6zM226,143h6v6h-6zM232,143h6v6h-6zM214,149h6v6h-6zM202,155h6v6h-6zM196,161h6v6h-6zM184,167h6v6h-6zM178,173h6v6h-6zM172,179h6v6h-6zM172,185h6v6h-6z"/>
<path fill="#483a5c" d="M292,131h6v6h-6zM304,137h6v6h-6zM166,179h6v6h-6zM166,185h6v6h-6zM160,197h6v6h-6z"/>
<path fill="#4c3e5e" d="M304,131h6v6h-6zM316,137h6v6h-6zM154,191h6v6h-6z"/>
<path fill="#4e4060" d="M310,131h6v6h-6zM322,137h6v6h-6zM142,215h6v6h-6zM142,221h6v6h-6zM142,227h6v6h-6zM238,437h6v6h-6zM256,443h6v6h-6z"/>
<path fill="#504462" d="M322,131h6v6h-6zM136,215h6v6h-6zM136,221h6v6h-6zM136,227h6v6h-6zM214,431h6v6h-6zM238,443h6v6h-6zM262,449h6v6h-6z"/>
<path fill="#544864" d="M334,131h6v6h-6zM340,137h6v6h-6zM124,227h6v6h-6zM124,233h6v6h-6zM124,239h6v6h-6zM214,437h6v6h-6zM226,443h6v6h-6zM238,449h6v6h-6zM256,455h6v6h-6zM262,455h6v6h-6zM292,455h6v6h-6z"/>
<path fill="#584e68" d="M352,131h6v6h-6zM358,137h6v6h-6zM112,245h6v6h-6zM118,263h6v6h-6zM142,377h6v6h-6zM154,395h6v6h-6zM196,437h6v6h-6zM214,449h6v6h-6zM226,455h6v6h-6zM244,461h6v6h-6zM298,461h6v6h-6zM262,467h6v6h-6z"/>
<path fill="#5c526a" d="M364,131h6v6h-6zM370,143h6v6h-6zM106,257h6v6h-6zM106,263h6v6h-6zM112,275h6v6h-6zM130,365h6v6h-6zM136,377h6v6h-6zM142,389h6v6h-6zM154,407h6v6h-6zM160,413h6v6h-6zM166,419h6v6h-6zM172,425h6v6h-6zM178,431h6v6h-6zM184,437h6v6h-6zM196,443h6v6h-6zM202,449h6v6h-6zM214,455h6v6h-6zM226,461h6v6h-6zM310,461h6v6h-6zM238,467h6v6h-6zM304,467h6v6h-6zM292,473h6v6h-6z"/>
<path fill="#5e566c" d="M370,131h6v6h-6zM100,263h6v6h-6zM136,389h6v6h-6zM154,413h6v6h-6zM178,437h6v6h-6zM202,455h6v6h-6zM214,461h6v6h-6zM226,467h6v6h-6zM292,479h6v6h-6z"/>
<path fill="#60586e" d="M376,131h6v6h-6zM382,143h6v6h-6zM100,275h6v6h-6zM106,293h6v6h-6zM106,299h6v6h-6zM106,305h6v6h-6zM106,311h6v6h-6zM106,317h6v6h-6zM136,395h6v6h-6zM160,425h6v6h-6zM166,431h6v6h-6zM172,437h6v6h-6zM310,473h6v6h-6z"/>
<path fill="#645c70" d="M382,131h6v6h-6zM94,281h6v6h-6zM100,317h6v6h-6zM100,323h6v6h-6zM100,329h6v6h-6zM106,347h6v6h-6zM106,353h6v6h-6zM112,365h6v6h-6zM118,377h6v6h-6zM124,389h6v6h-6zM136,407h6v6h-6zM142,413h6v6h-6zM148,419h6v6h-6zM154,425h6v6h-6zM160,431h6v6h-6zM166,437h6v6h-6zM172,443h6v6h-6zM178,449h6v6h-6zM184,455h6v6h-6zM190,461h6v6h-6zM328,467h6v6h-6zM322,473h6v6h-6z"/>
<path fill="#666072" d="M388,131h6v6h-6zM88,287h6v6h-6zM94,323h6v6h-6zM100,347h6v6h-6zM112,377h6v6h-6zM136,413h6v6h-6zM154,437h6v6h-6zM160,443h6v6h-6z"/>
<path fill="#6a6274" d="M394,131h6v6h-6zM82,335h6v6h-6zM88,353h6v6h-6zM94,371h6v6h-6zM100,383h6v6h-6zM106,395h6v6h-6zM118,413h6v6h-6zM124,419h6v6h-6zM346,467h6v6h-6zM340,473h6v6h-6zM334,479h6v6h-6zM322,491h6v6h-6z"/>
<path fill="#746e7e" d="M412,131h6v6h-6zM418,149h6v6h-6zM388,449h6v6h-6zM388,455h6v6h-6zM388,461h6v6h-6zM376,485h6v6h-6z"/>
<path fill="#88828e" d="M436,131h6v6h-6zM442,185h6v6h-6zM460,377h6v6h-6zM484,395h6v6h-6zM502,401h6v6h-6z"/>
<path fill="#46365a" d="M256,137h6v6h-6zM262,137h6v6h-6zM220,149h6v6h-6zM208,155h6v6h-6zM190,167h6v6h-6zM184,173h6v6h-6zM178,179h6v6h-6zM178,185h6v6h-6z"/>
<path fill="#44365a" d="M268,137h6v6h-6zM274,137h6v6h-6zM280,137h6v6h-6zM286,137h6v6h-6zM238,143h6v6h-6zM244,143h6v6h-6zM226,149h6v6h-6zM214,155h6v6h-6zM202,161h6v6h-6zM196,167h6v6h-6zM190,173h6v6h-6zM184,179h6v6h-6z"/>
<path fill="#48385c" d="M298,137h6v6h-6zM310,143h6v6h-6zM166,191h6v6h-6zM166,197h6v6h-6zM280,437h6v6h-6z"/>
<path fill="#4a3c5e" d="M310,137h6v6h-6zM322,143h6v6h-6zM154,203h6v6h-6zM154,209h6v6h-6zM250,437h6v6h-6zM280,443h6v6h-6z"/>
<path fill="#504262" d="M328,137h6v6h-6zM346,149h6v6h-6zM352,155h6v6h-6zM136,233h6v6h-6zM136,239h6v6h-6zM136,245h6v6h-6zM136,251h6v6h-6zM178,401h6v6h-6zM184,407h6v6h-6zM190,413h6v6h-6zM196,419h6v6h-6zM208,425h6v6h-6zM226,437h6v6h-6zM244,443h6v6h-6zM268,449h6v6h-6zM274,449h6v6h-6zM286,449h6v6h-6z"/>
<path fill="#524664" d="M334,137h6v6h-6zM352,149h6v6h-6zM130,227h6v6h-6zM130,233h6v6h-6zM130,239h6v6h-6zM130,245h6v6h-6zM130,251h6v6h-6zM130,257h6v6h-6zM166,395h6v6h-6zM172,401h6v6h-6zM178,407h6v6h-6zM184,413h6v6h-6zM190,419h6v6h-6zM208,431h6v6h-6zM220,437h6v6h-6zM232,443h6v6h-6zM310,443h6v6h-6zM250,449h6v6h-6zM298,449h6v6h-6zM268,455h6v6h-6zM274,455h6v6h-6zM280,455h6v6h-6zM286,455h6v6h-6z"/>
<path fill="#564a66" d="M346,137h6v6h-6zM352,143h6v6h-6zM358,149h6v6h-6zM124,251h6v6h-6zM124,257h6v6h-6zM160,395h6v6h-6zM166,401h6v6h-6zM190,425h6v6h-6zM196,431h6v6h-6zM208,437h6v6h-6zM214,443h6v6h-6zM226,449h6v6h-6zM232,449h6v6h-6zM244,455h6v6h-6zM298,455h6v6h-6zM268,461h6v6h-6zM286,461h6v6h-6z"/>
<path fill="#5a506a" d="M364,137h6v6h-6zM376,155h6v6h-6zM112,263h6v6h-6zM118,281h6v6h-6zM124,341h6v6h-6zM130,359h6v6h-6zM136,371h6v6h-6zM142,383h6v6h-6zM154,401h6v6h-6zM160,407h6v6h-6zM190,437h6v6h-6zM322,449h6v6h-6z"/>
<path fill="#5c546c" d="M370,137h6v6h-6z"/>
<path fill="#665e72" d="M388,137h6v6h-6zM394,143h6v6h-6zM94,293h6v6h-6zM94,299h6v6h-6zM94,305h6v6h-6zM94,311h6v6h-6zM94,317h6v6h-6zM100,341h6v6h-6zM106,359h6v6h-6zM124,395h6v6h-6zM142,419h6v6h-6zM148,425h6v6h-6zM154,431h6v6h-6zM334,467h6v6h-6zM328,473h6v6h-6zM322,479h6v6h-6z"/>
<path fill="#686074" d="M394,137h6v6h-6zM400,149h6v6h-6zM358,449h6v6h-6zM352,455h6v6h-6zM346,461h6v6h-6zM340,467h6v6h-6zM334,473h6v6h-6z"/>
<path fill="#6c6476" d="M400,137h6v6h-6zM358,461h6v6h-6zM352,467h6v6h-6zM346,473h6v6h-6z"/>
<path fill="#706878" d="M406,137h6v6h-6zM358,479h6v6h-6z"/>
<path fill="#44345a" d="M250,143h6v6h-6zM292,143h6v6h-6zM298,143h6v6h-6zM232,149h6v6h-6zM238,149h6v6h-6zM220,155h6v6h-6zM208,161h6v6h-6zM214,161h6v6h-6zM202,167h6v6h-6zM196,173h6v6h-6zM190,179h6v6h-6z"/>
<path fill="#443458" d="M256,143h6v6h-6z"/>
<path fill="#443258" d="M262,143h6v6h-6z"/>
<path fill="#423258" d="M268,143h6v6h-6zM274,143h6v6h-6zM280,143h6v6h-6z"/>
<path fill="#42325a" d="M286,143h6v6h-6zM250,149h6v6h-6zM232,155h6v6h-6z"/>
<path fill="#46365c" d="M304,143h6v6h-6zM316,149h6v6h-6zM172,191h6v6h-6zM172,197h6v6h-6zM262,431h6v6h-6z"/>
<path fill="#483a5e" d="M316,143h6v6h-6zM160,203h6v6h-6zM268,437h6v6h-6z"/>
<path fill="#4c3e60" d="M328,143h6v6h-6zM346,155h6v6h-6zM148,209h6v6h-6zM148,215h6v6h-6zM208,419h6v6h-6zM226,431h6v6h-6zM244,437h6v6h-6zM304,437h6v6h-6zM262,443h6v6h-6zM268,443h6v6h-6zM274,443h6v6h-6zM286,443h6v6h-6z"/>
<path fill="#4e4062" d="M334,143h6v6h-6zM340,149h6v6h-6zM358,161h6v6h-6zM364,167h6v6h-6zM154,359h6v6h-6zM160,371h6v6h-6zM166,383h6v6h-6zM172,389h6v6h-6zM196,413h6v6h-6zM202,419h6v6h-6zM220,431h6v6h-6zM310,437h6v6h-6zM250,443h6v6h-6zM298,443h6v6h-6z"/>
<path fill="#504464" d="M340,143h6v6h-6zM154,371h6v6h-6z"/>
<path fill="#544664" d="M346,143h6v6h-6zM196,425h6v6h-6zM244,449h6v6h-6z"/>
<path fill="#584c68" d="M358,143h6v6h-6zM364,149h6v6h-6zM370,155h6v6h-6zM118,257h6v6h-6zM124,281h6v6h-6zM130,341h6v6h-6zM136,359h6v6h-6zM142,371h6v6h-6zM148,383h6v6h-6zM160,401h6v6h-6zM166,407h6v6h-6zM172,413h6v6h-6zM178,419h6v6h-6zM184,425h6v6h-6zM190,431h6v6h-6zM208,443h6v6h-6zM304,455h6v6h-6z"/>
<path fill="#5a4e6a" d="M364,143h6v6h-6zM370,149h6v6h-6zM118,275h6v6h-6zM124,323h6v6h-6zM124,329h6v6h-6zM124,335h6v6h-6zM130,353h6v6h-6zM136,365h6v6h-6zM148,389h6v6h-6zM328,443h6v6h-6zM316,449h6v6h-6zM310,455h6v6h-6z"/>
<path fill="#5e546c" d="M376,143h6v6h-6zM106,269h6v6h-6zM106,275h6v6h-6zM112,287h6v6h-6zM112,293h6v6h-6zM112,299h6v6h-6zM112,305h6v6h-6zM112,311h6v6h-6zM112,317h6v6h-6zM112,323h6v6h-6zM118,341h6v6h-6zM118,347h6v6h-6zM124,359h6v6h-6zM124,365h6v6h-6zM130,377h6v6h-6zM142,395h6v6h-6zM148,401h6v6h-6zM160,419h6v6h-6zM166,425h6v6h-6zM172,431h6v6h-6zM196,449h6v6h-6zM316,461h6v6h-6zM310,467h6v6h-6z"/>
<path fill="#645a70" d="M388,143h6v6h-6zM394,155h6v6h-6zM100,293h6v6h-6zM100,299h6v6h-6zM100,305h6v6h-6zM100,311h6v6h-6zM106,341h6v6h-6zM130,395h6v6h-6zM340,455h6v6h-6zM334,461h6v6h-6z"/>
<path fill="#6a6276" d="M400,143h6v6h-6zM406,155h6v6h-6zM364,449h6v6h-6zM358,455h6v6h-6zM352,461h6v6h-6z"/>
<path fill="#807a86" d="M430,143h6v6h-6zM454,413h6v6h-6zM454,419h6v6h-6zM496,419h6v6h-6zM490,425h6v6h-6zM448,431h6v6h-6zM484,431h6v6h-6zM448,437h6v6h-6zM478,437h6v6h-6zM448,443h6v6h-6zM472,443h6v6h-6zM442,449h6v6h-6zM448,449h6v6h-6zM442,455h6v6h-6zM442,461h6v6h-6zM442,467h6v6h-6z"/>
<path fill="#888490" d="M442,143h6v6h-6z"/>
<path fill="#96929c" d="M460,143h6v6h-6zM460,197h6v6h-6zM460,347h6v6h-6zM478,359h6v6h-6zM508,371h6v6h-6z"/>
<path fill="#44325a" d="M244,149h6v6h-6zM298,149h6v6h-6zM226,155h6v6h-6zM220,161h6v6h-6zM208,167h6v6h-6zM214,167h6v6h-6zM202,173h6v6h-6z"/>
<path fill="#42305a" d="M256,149h6v6h-6zM262,149h6v6h-6zM268,149h6v6h-6zM274,149h6v6h-6zM286,149h6v6h-6zM292,149h6v6h-6zM238,155h6v6h-6zM244,155h6v6h-6zM250,155h6v6h-6zM304,155h6v6h-6zM226,161h6v6h-6zM232,161h6v6h-6zM220,167h6v6h-6z"/>
<path fill="#423058" d="M280,149h6v6h-6z"/>
<path fill="#44345c" d="M304,149h6v6h-6zM184,185h6v6h-6zM184,191h6v6h-6z"/>
<path fill="#46345c" d="M310,149h6v6h-6zM322,155h6v6h-6zM178,191h6v6h-6zM178,197h6v6h-6zM250,425h6v6h-6zM268,431h6v6h-6zM274,431h6v6h-6zM280,431h6v6h-6zM286,431h6v6h-6z"/>
<path fill="#48385e" d="M322,149h6v6h-6zM340,161h6v6h-6zM166,203h6v6h-6zM160,209h6v6h-6zM160,215h6v6h-6zM160,221h6v6h-6zM214,413h6v6h-6zM232,425h6v6h-6zM250,431h6v6h-6zM298,431h6v6h-6zM274,437h6v6h-6zM286,437h6v6h-6z"/>
<path fill="#4a3a5e" d="M328,149h6v6h-6zM154,215h6v6h-6zM154,221h6v6h-6zM238,431h6v6h-6zM244,431h6v6h-6zM256,437h6v6h-6zM262,437h6v6h-6zM292,437h6v6h-6z"/>
<path fill="#4c3c60" d="M334,149h6v6h-6zM148,221h6v6h-6zM148,227h6v6h-6zM148,233h6v6h-6zM148,239h6v6h-6zM184,395h6v6h-6zM190,401h6v6h-6zM196,407h6v6h-6zM202,413h6v6h-6zM220,425h6v6h-6zM232,431h6v6h-6z"/>
<path fill="#5c526c" d="M376,149h6v6h-6zM112,281h6v6h-6zM118,323h6v6h-6zM118,329h6v6h-6zM118,335h6v6h-6zM124,353h6v6h-6zM130,371h6v6h-6zM334,443h6v6h-6z"/>
<path fill="#60566e" d="M382,149h6v6h-6zM388,155h6v6h-6zM106,287h6v6h-6zM112,335h6v6h-6zM112,341h6v6h-6zM118,359h6v6h-6zM124,371h6v6h-6zM130,383h6v6h-6zM142,401h6v6h-6zM322,461h6v6h-6zM316,467h6v6h-6z"/>
<path fill="#625870" d="M388,149h6v6h-6zM394,161h6v6h-6zM400,167h6v6h-6zM346,443h6v6h-6zM340,449h6v6h-6zM334,455h6v6h-6z"/>
<path fill="#665c72" d="M394,149h6v6h-6zM352,449h6v6h-6zM346,455h6v6h-6zM340,461h6v6h-6z"/>
<path fill="#6c6478" d="M406,149h6v6h-6zM412,167h6v6h-6zM376,437h6v6h-6zM370,449h6v6h-6zM364,455h6v6h-6z"/>
<path fill="#787482" d="M424,149h6v6h-6z"/>
<path fill="#7e7886" d="M430,149h6v6h-6zM448,389h6v6h-6zM442,395h6v6h-6zM448,395h6v6h-6zM442,401h6v6h-6zM448,401h6v6h-6zM436,407h6v6h-6zM442,407h6v6h-6zM430,413h6v6h-6zM436,413h6v6h-6zM442,413h6v6h-6zM430,419h6v6h-6zM436,419h6v6h-6zM442,419h6v6h-6zM436,425h6v6h-6zM436,431h6v6h-6zM430,437h6v6h-6zM436,437h6v6h-6zM430,467h6v6h-6z"/>
<path fill="#422e5a" d="M256,155h6v6h-6zM262,155h6v6h-6zM292,155h6v6h-6zM298,155h6v6h-6zM238,161h6v6h-6zM244,161h6v6h-6zM226,167h6v6h-6zM232,167h6v6h-6z"/>
<path fill="#402e5a" d="M268,155h6v6h-6z"/>
<path fill="#402c5a" d="M274,155h6v6h-6zM280,155h6v6h-6zM286,155h6v6h-6zM256,161h6v6h-6zM262,161h6v6h-6zM298,161h6v6h-6zM274,419h6v6h-6zM280,419h6v6h-6zM286,419h6v6h-6z"/>
<path fill="#44325c" d="M310,155h6v6h-6zM316,155h6v6h-6zM196,179h6v6h-6zM190,185h6v6h-6zM196,185h6v6h-6zM190,191h6v6h-6zM244,419h6v6h-6zM256,425h6v6h-6zM262,425h6v6h-6zM292,425h6v6h-6z"/>
<path fill="#48365e" d="M328,155h6v6h-6zM166,209h6v6h-6zM166,215h6v6h-6zM208,407h6v6h-6zM220,413h6v6h-6zM226,419h6v6h-6zM238,425h6v6h-6zM256,431h6v6h-6z"/>
<path fill="#4a385e" d="M334,155h6v6h-6zM220,419h6v6h-6z"/>
<path fill="#4a3c60" d="M340,155h6v6h-6zM298,437h6v6h-6z"/>
<path fill="#524464" d="M358,155h6v6h-6zM364,161h6v6h-6zM370,167h6v6h-6zM376,173h6v6h-6zM142,347h6v6h-6zM148,359h6v6h-6zM160,383h6v6h-6zM202,425h6v6h-6zM292,449h6v6h-6z"/>
<path fill="#544866" d="M364,155h6v6h-6zM370,161h6v6h-6zM376,167h6v6h-6zM130,287h6v6h-6zM130,305h6v6h-6zM136,341h6v6h-6zM142,359h6v6h-6zM148,371h6v6h-6zM154,383h6v6h-6zM172,407h6v6h-6zM178,413h6v6h-6zM202,431h6v6h-6zM316,443h6v6h-6zM304,449h6v6h-6z"/>
<path fill="#5e526c" d="M382,155h6v6h-6zM136,383h6v6h-6zM328,449h6v6h-6zM322,455h6v6h-6z"/>
<path fill="#665e74" d="M400,155h6v6h-6zM406,167h6v6h-6z"/>
<path fill="#6e687a" d="M412,155h6v6h-6zM370,455h6v6h-6z"/>
<path fill="#746c7c" d="M418,155h6v6h-6zM382,455h6v6h-6zM382,461h6v6h-6z"/>
<path fill="#787282" d="M424,155h6v6h-6zM424,161h6v6h-6zM436,383h6v6h-6zM430,395h6v6h-6zM418,413h6v6h-6zM412,419h6v6h-6zM406,431h6v6h-6zM406,443h6v6h-6z"/>
<path fill="#827c8a" d="M436,155h6v6h-6zM436,167h6v6h-6zM436,173h6v6h-6zM436,179h6v6h-6zM454,383h6v6h-6z"/>
<path fill="#86828e" d="M442,155h6v6h-6zM442,161h6v6h-6zM442,173h6v6h-6zM442,179h6v6h-6zM442,191h6v6h-6zM466,383h6v6h-6zM490,401h6v6h-6zM508,401h6v6h-6z"/>
<path fill="#8c8692" d="M448,155h6v6h-6zM472,377h6v6h-6z"/>
<path fill="#a29ea6" d="M484,155h6v6h-6zM484,161h6v6h-6zM484,167h6v6h-6zM484,185h6v6h-6zM484,191h6v6h-6zM478,209h6v6h-6zM466,227h6v6h-6zM472,335h6v6h-6zM496,341h6v6h-6zM502,341h6v6h-6zM508,341h6v6h-6z"/>
<path fill="#422c5a" d="M250,161h6v6h-6z"/>
<path fill="#402a5a" d="M268,161h6v6h-6zM274,161h6v6h-6zM280,161h6v6h-6zM286,161h6v6h-6zM292,161h6v6h-6z"/>
<path fill="#422c5c" d="M304,161h6v6h-6zM238,167h6v6h-6zM316,167h6v6h-6zM226,173h6v6h-6zM232,173h6v6h-6zM322,173h6v6h-6zM328,173h6v6h-6zM220,179h6v6h-6zM226,179h6v6h-6zM238,407h6v6h-6zM250,413h6v6h-6zM304,413h6v6h-6zM310,413h6v6h-6zM268,419h6v6h-6zM292,419h6v6h-6z"/>
<path fill="#422e5c" d="M310,161h6v6h-6zM322,167h6v6h-6zM220,173h6v6h-6zM334,173h6v6h-6zM214,179h6v6h-6zM232,407h6v6h-6zM244,413h6v6h-6zM256,419h6v6h-6zM262,419h6v6h-6zM298,419h6v6h-6z"/>
<path fill="#44305c" d="M316,161h6v6h-6zM322,161h6v6h-6zM328,167h6v6h-6zM202,179h6v6h-6zM208,179h6v6h-6zM202,185h6v6h-6zM238,413h6v6h-6zM250,419h6v6h-6zM304,419h6v6h-6zM268,425h6v6h-6zM274,425h6v6h-6zM286,425h6v6h-6z"/>
<path fill="#46325e" d="M328,161h6v6h-6zM346,173h6v6h-6zM352,179h6v6h-6zM358,185h6v6h-6zM184,197h6v6h-6zM184,203h6v6h-6zM178,209h6v6h-6zM202,395h6v6h-6zM220,407h6v6h-6zM322,413h6v6h-6zM310,419h6v6h-6zM298,425h6v6h-6z"/>
<path fill="#46345e" d="M334,161h6v6h-6zM340,167h6v6h-6zM178,203h6v6h-6zM172,209h6v6h-6zM172,215h6v6h-6zM208,401h6v6h-6zM214,407h6v6h-6zM226,413h6v6h-6zM232,419h6v6h-6zM238,419h6v6h-6zM316,419h6v6h-6zM304,425h6v6h-6z"/>
<path fill="#4a3a60" d="M346,161h6v6h-6zM352,167h6v6h-6zM154,227h6v6h-6zM178,383h6v6h-6zM202,407h6v6h-6zM208,413h6v6h-6zM214,419h6v6h-6zM226,425h6v6h-6z"/>
<path fill="#4c3e62" d="M352,161h6v6h-6zM142,239h6v6h-6zM316,431h6v6h-6z"/>
<path fill="#584c6a" d="M376,161h6v6h-6zM382,167h6v6h-6zM394,185h6v6h-6zM124,287h6v6h-6zM124,293h6v6h-6zM124,299h6v6h-6zM124,305h6v6h-6zM124,311h6v6h-6zM358,419h6v6h-6zM334,437h6v6h-6z"/>
<path fill="#5c506c" d="M382,161h6v6h-6zM388,167h6v6h-6zM400,191h6v6h-6zM118,287h6v6h-6zM118,293h6v6h-6zM118,299h6v6h-6zM118,305h6v6h-6zM118,311h6v6h-6zM118,317h6v6h-6zM340,437h6v6h-6z"/>
<path fill="#5e546e" d="M388,161h6v6h-6zM346,437h6v6h-6z"/>
<path fill="#645c72" d="M400,161h6v6h-6z"/>
<path fill="#686076" d="M406,161h6v6h-6zM412,185h6v6h-6zM364,443h6v6h-6z"/>
<path fill="#6c6678" d="M412,161h6v6h-6z"/>
<path fill="#7c7886" d="M430,161h6v6h-6zM430,167h6v6h-6zM424,425h6v6h-6z"/>
<path fill="#8a8692" d="M448,161h6v6h-6zM448,179h6v6h-6zM460,371h6v6h-6z"/>
<path fill="#a4a0a8" d="M490,161h6v6h-6zM478,215h6v6h-6zM472,227h6v6h-6zM466,251h6v6h-6zM466,257h6v6h-6zM454,299h6v6h-6zM466,317h6v6h-6z"/>
<path fill="#402c5c" d="M244,167h6v6h-6z"/>
<path fill="#402a5c" d="M250,167h6v6h-6zM256,167h6v6h-6zM262,167h6v6h-6zM268,167h6v6h-6zM274,167h6v6h-6zM292,167h6v6h-6zM298,167h6v6h-6zM304,167h6v6h-6zM310,167h6v6h-6zM256,413h6v6h-6zM262,413h6v6h-6zM268,413h6v6h-6zM274,413h6v6h-6zM292,413h6v6h-6zM298,413h6v6h-6z"/>
<path fill="#40285c" d="M280,167h6v6h-6zM286,167h6v6h-6zM280,413h6v6h-6zM286,413h6v6h-6z"/>
<path fill="#44325e" d="M334,167h6v6h-6zM232,413h6v6h-6z"/>
<path fill="#483660" d="M346,167h6v6h-6zM352,173h6v6h-6zM376,197h6v6h-6zM160,227h6v6h-6zM160,233h6v6h-6zM160,239h6v6h-6zM184,383h6v6h-6zM190,389h6v6h-6zM196,395h6v6h-6zM202,401h6v6h-6zM322,419h6v6h-6zM310,425h6v6h-6z"/>
<path fill="#4c3c62" d="M358,167h6v6h-6zM364,173h6v6h-6zM370,179h6v6h-6zM376,185h6v6h-6zM154,347h6v6h-6zM160,359h6v6h-6zM166,371h6v6h-6zM172,383h6v6h-6zM178,389h6v6h-6zM334,419h6v6h-6z"/>
<path fill="#60546e" d="M394,167h6v6h-6zM340,443h6v6h-6zM334,449h6v6h-6zM328,455h6v6h-6z"/>
<path fill="#726a7c" d="M418,167h6v6h-6zM394,425h6v6h-6zM388,437h6v6h-6zM382,449h6v6h-6zM376,455h6v6h-6z"/>
<path fill="#767080" d="M424,167h6v6h-6zM424,173h6v6h-6zM406,425h6v6h-6zM400,437h6v6h-6zM394,449h6v6h-6z"/>
<path fill="#a6a2a8" d="M496,167h6v6h-6z"/>
<path fill="#4c405a" d="M142,173h6v6h-6z"/>
<path fill="#44305a" d="M208,173h6v6h-6z"/>
<path fill="#42305c" d="M214,173h6v6h-6zM280,425h6v6h-6z"/>
<path fill="#422a5c" d="M238,173h6v6h-6zM244,173h6v6h-6z"/>
<path fill="#422a5e" d="M250,173h6v6h-6zM256,173h6v6h-6zM262,173h6v6h-6zM268,173h6v6h-6zM274,173h6v6h-6zM280,173h6v6h-6zM286,173h6v6h-6zM292,173h6v6h-6zM298,173h6v6h-6zM304,173h6v6h-6zM310,173h6v6h-6zM256,407h6v6h-6zM262,407h6v6h-6zM268,407h6v6h-6zM274,407h6v6h-6zM280,407h6v6h-6zM286,407h6v6h-6z"/>
<path fill="#422c5e" d="M316,173h6v6h-6zM232,179h6v6h-6zM238,179h6v6h-6zM334,179h6v6h-6zM340,179h6v6h-6zM214,185h6v6h-6zM220,185h6v6h-6zM226,401h6v6h-6zM244,407h6v6h-6zM250,407h6v6h-6z"/>
<path fill="#44305e" d="M340,173h6v6h-6zM196,191h6v6h-6zM190,197h6v6h-6zM196,197h6v6h-6zM208,395h6v6h-6zM226,407h6v6h-6z"/>
<path fill="#4a3860" d="M358,173h6v6h-6zM364,179h6v6h-6zM154,233h6v6h-6zM154,239h6v6h-6zM154,245h6v6h-6zM172,371h6v6h-6zM178,377h6v6h-6zM184,389h6v6h-6zM190,395h6v6h-6zM196,401h6v6h-6zM316,425h6v6h-6zM304,431h6v6h-6z"/>
<path fill="#4e4064" d="M370,173h6v6h-6zM322,431h6v6h-6z"/>
<path fill="#564868" d="M382,173h6v6h-6zM388,179h6v6h-6zM394,191h6v6h-6zM130,317h6v6h-6zM130,323h6v6h-6zM136,347h6v6h-6zM346,425h6v6h-6zM328,437h6v6h-6z"/>
<path fill="#5a4c6a" d="M388,173h6v6h-6z"/>
<path fill="#5e526e" d="M394,173h6v6h-6zM400,185h6v6h-6zM358,425h6v6h-6zM352,431h6v6h-6z"/>
<path fill="#605670" d="M400,173h6v6h-6z"/>
<path fill="#665c74" d="M406,173h6v6h-6zM370,425h6v6h-6zM364,431h6v6h-6zM358,443h6v6h-6z"/>
<path fill="#6a6278" d="M412,173h6v6h-6zM376,431h6v6h-6z"/>
<path fill="#70687c" d="M418,173h6v6h-6zM418,179h6v6h-6zM394,419h6v6h-6zM388,431h6v6h-6zM382,443h6v6h-6z"/>
<path fill="#7c7686" d="M430,173h6v6h-6zM442,377h6v6h-6zM442,389h6v6h-6zM436,401h6v6h-6zM424,419h6v6h-6zM418,425h6v6h-6z"/>
<path fill="#442c60" d="M244,179h6v6h-6zM250,179h6v6h-6zM316,179h6v6h-6zM322,179h6v6h-6zM328,179h6v6h-6zM226,185h6v6h-6zM232,185h6v6h-6zM220,191h6v6h-6zM226,395h6v6h-6zM232,395h6v6h-6zM238,401h6v6h-6zM244,401h6v6h-6zM250,401h6v6h-6zM298,407h6v6h-6zM304,407h6v6h-6zM310,407h6v6h-6z"/>
<path fill="#442c62" d="M256,179h6v6h-6zM262,179h6v6h-6zM268,179h6v6h-6zM274,179h6v6h-6zM280,179h6v6h-6zM286,179h6v6h-6zM292,179h6v6h-6zM298,179h6v6h-6zM304,179h6v6h-6zM310,179h6v6h-6zM238,185h6v6h-6zM256,401h6v6h-6zM262,401h6v6h-6zM268,401h6v6h-6zM274,401h6v6h-6zM286,401h6v6h-6z"/>
<path fill="#442e5e" d="M346,179h6v6h-6zM346,185h6v6h-6zM352,185h6v6h-6zM202,191h6v6h-6zM208,191h6v6h-6zM358,191h6v6h-6zM208,389h6v6h-6zM214,395h6v6h-6zM220,395h6v6h-6zM220,401h6v6h-6zM322,407h6v6h-6zM328,407h6v6h-6zM316,413h6v6h-6z"/>
<path fill="#483460" d="M358,179h6v6h-6zM364,185h6v6h-6zM370,191h6v6h-6zM166,221h6v6h-6zM166,227h6v6h-6zM166,233h6v6h-6zM160,245h6v6h-6zM172,359h6v6h-6zM178,371h6v6h-6zM184,377h6v6h-6zM190,383h6v6h-6zM328,413h6v6h-6z"/>
<path fill="#504064" d="M376,179h6v6h-6zM382,185h6v6h-6zM142,317h6v6h-6zM142,323h6v6h-6zM142,329h6v6h-6zM148,347h6v6h-6zM154,365h6v6h-6zM340,419h6v6h-6zM334,425h6v6h-6z"/>
<path fill="#524466" d="M382,179h6v6h-6zM136,311h6v6h-6zM136,317h6v6h-6zM136,323h6v6h-6zM136,329h6v6h-6zM340,425h6v6h-6z"/>
<path fill="#5a4e6c" d="M394,179h6v6h-6zM346,431h6v6h-6z"/>
<path fill="#605470" d="M400,179h6v6h-6zM406,197h6v6h-6z"/>
<path fill="#645a74" d="M406,179h6v6h-6zM412,203h6v6h-6z"/>
<path fill="#6a6076" d="M412,179h6v6h-6zM370,437h6v6h-6z"/>
<path fill="#766e80" d="M424,179h6v6h-6zM424,389h6v6h-6zM418,401h6v6h-6zM412,407h6v6h-6zM406,419h6v6h-6zM400,431h6v6h-6zM394,443h6v6h-6z"/>
<path fill="#7c7484" d="M430,179h6v6h-6zM436,395h6v6h-6z"/>
<path fill="#8e8a96" d="M454,179h6v6h-6zM454,353h6v6h-6z"/>
<path fill="#442e5c" d="M208,185h6v6h-6z"/>
<path fill="#462c62" d="M244,185h6v6h-6zM226,191h6v6h-6zM238,395h6v6h-6zM244,395h6v6h-6zM292,401h6v6h-6zM298,401h6v6h-6zM304,401h6v6h-6z"/>
<path fill="#462c64" d="M250,185h6v6h-6zM256,185h6v6h-6zM262,185h6v6h-6zM310,185h6v6h-6zM316,185h6v6h-6zM232,191h6v6h-6zM238,191h6v6h-6zM250,395h6v6h-6zM256,395h6v6h-6zM262,395h6v6h-6zM268,395h6v6h-6z"/>
<path fill="#482c64" d="M268,185h6v6h-6zM274,185h6v6h-6zM280,185h6v6h-6zM286,185h6v6h-6zM292,185h6v6h-6zM298,185h6v6h-6zM304,185h6v6h-6zM244,191h6v6h-6zM274,395h6v6h-6zM280,395h6v6h-6zM286,395h6v6h-6z"/>
<path fill="#462e64" d="M322,185h6v6h-6zM220,197h6v6h-6zM220,383h6v6h-6zM232,389h6v6h-6zM238,389h6v6h-6z"/>
<path fill="#462e62" d="M328,185h6v6h-6zM334,185h6v6h-6zM340,191h6v6h-6zM346,191h6v6h-6zM214,197h6v6h-6zM358,197h6v6h-6zM202,203h6v6h-6zM208,203h6v6h-6zM202,377h6v6h-6zM208,377h6v6h-6zM214,383h6v6h-6zM220,389h6v6h-6zM226,389h6v6h-6zM310,401h6v6h-6zM316,401h6v6h-6zM322,401h6v6h-6z"/>
<path fill="#442e60" d="M340,185h6v6h-6zM214,191h6v6h-6zM352,191h6v6h-6zM202,197h6v6h-6zM364,197h6v6h-6zM202,383h6v6h-6zM214,389h6v6h-6z"/>
<path fill="#4a3862" d="M370,185h6v6h-6zM376,191h6v6h-6zM382,203h6v6h-6zM154,251h6v6h-6zM154,257h6v6h-6zM154,317h6v6h-6zM154,323h6v6h-6zM160,341h6v6h-6zM160,347h6v6h-6zM166,359h6v6h-6zM358,395h6v6h-6zM352,401h6v6h-6zM328,419h6v6h-6z"/>
<path fill="#544666" d="M388,185h6v6h-6zM130,269h6v6h-6zM130,275h6v6h-6zM130,281h6v6h-6zM136,335h6v6h-6zM142,353h6v6h-6zM160,389h6v6h-6zM334,431h6v6h-6z"/>
<path fill="#645872" d="M406,185h6v6h-6z"/>
<path fill="#6e667a" d="M418,185h6v6h-6zM388,425h6v6h-6zM382,437h6v6h-6zM376,443h6v6h-6z"/>
<path fill="#746c80" d="M424,185h6v6h-6zM430,377h6v6h-6zM424,383h6v6h-6zM418,395h6v6h-6zM412,401h6v6h-6zM406,413h6v6h-6z"/>
<path fill="#7a7484" d="M430,185h6v6h-6zM442,383h6v6h-6zM430,401h6v6h-6zM424,413h6v6h-6zM418,419h6v6h-6zM412,431h6v6h-6z"/>
<path fill="#807a8a" d="M436,185h6v6h-6zM436,191h6v6h-6zM442,365h6v6h-6zM448,377h6v6h-6z"/>
<path fill="#aaa6ac" d="M508,185h6v6h-6zM496,215h6v6h-6zM496,221h6v6h-6zM496,227h6v6h-6zM496,233h6v6h-6zM490,245h6v6h-6zM484,251h6v6h-6zM496,311h6v6h-6z"/>
<path fill="#482c66" d="M250,191h6v6h-6zM292,395h6v6h-6z"/>
<path fill="#482e66" d="M256,191h6v6h-6zM316,191h6v6h-6zM322,191h6v6h-6zM232,197h6v6h-6zM238,197h6v6h-6zM220,203h6v6h-6zM226,203h6v6h-6zM214,209h6v6h-6zM202,215h6v6h-6zM208,215h6v6h-6zM202,221h6v6h-6zM196,227h6v6h-6zM196,353h6v6h-6zM202,359h6v6h-6zM208,365h6v6h-6zM214,371h6v6h-6zM220,377h6v6h-6zM226,377h6v6h-6zM232,383h6v6h-6zM238,383h6v6h-6zM250,389h6v6h-6zM256,389h6v6h-6zM262,389h6v6h-6zM298,395h6v6h-6zM304,395h6v6h-6z"/>
<path fill="#4a2e66" d="M262,191h6v6h-6zM310,191h6v6h-6zM244,197h6v6h-6zM220,209h6v6h-6zM196,233h6v6h-6zM196,347h6v6h-6zM220,371h6v6h-6zM244,383h6v6h-6zM268,389h6v6h-6z"/>
<path fill="#4a2e68" d="M268,191h6v6h-6zM274,191h6v6h-6zM280,191h6v6h-6zM286,191h6v6h-6zM292,191h6v6h-6zM298,191h6v6h-6zM304,191h6v6h-6zM250,197h6v6h-6zM256,197h6v6h-6zM322,197h6v6h-6zM328,197h6v6h-6zM232,203h6v6h-6zM238,203h6v6h-6zM226,209h6v6h-6zM214,215h6v6h-6zM220,215h6v6h-6zM208,221h6v6h-6zM214,221h6v6h-6zM202,227h6v6h-6zM208,227h6v6h-6zM202,233h6v6h-6zM196,239h6v6h-6zM190,245h6v6h-6zM196,245h6v6h-6zM190,251h6v6h-6zM190,257h6v6h-6zM184,275h6v6h-6zM184,281h6v6h-6zM184,287h6v6h-6zM184,293h6v6h-6zM184,299h6v6h-6zM184,305h6v6h-6zM190,323h6v6h-6zM190,329h6v6h-6zM190,335h6v6h-6zM196,335h6v6h-6zM196,341h6v6h-6zM202,347h6v6h-6zM202,353h6v6h-6zM208,353h6v6h-6zM208,359h6v6h-6zM214,359h6v6h-6zM214,365h6v6h-6zM220,365h6v6h-6zM226,371h6v6h-6zM232,377h6v6h-6zM238,377h6v6h-6zM250,383h6v6h-6zM256,383h6v6h-6zM274,389h6v6h-6zM280,389h6v6h-6zM286,389h6v6h-6zM292,389h6v6h-6zM298,389h6v6h-6zM304,389h6v6h-6z"/>
<path fill="#482e64" d="M328,191h6v6h-6zM334,191h6v6h-6zM226,197h6v6h-6zM214,203h6v6h-6zM202,209h6v6h-6zM208,209h6v6h-6zM202,365h6v6h-6zM202,371h6v6h-6zM208,371h6v6h-6zM214,377h6v6h-6zM226,383h6v6h-6zM244,389h6v6h-6zM310,395h6v6h-6zM316,395h6v6h-6zM322,395h6v6h-6z"/>
<path fill="#463060" d="M364,191h6v6h-6zM196,203h6v6h-6zM370,203h6v6h-6zM184,209h6v6h-6zM190,209h6v6h-6zM184,215h6v6h-6zM178,221h6v6h-6zM178,359h6v6h-6zM184,365h6v6h-6zM190,371h6v6h-6zM190,377h6v6h-6zM196,377h6v6h-6zM196,383h6v6h-6zM334,401h6v6h-6zM340,401h6v6h-6z"/>
<path fill="#4e3e64" d="M382,191h6v6h-6zM388,203h6v6h-6zM142,269h6v6h-6zM142,275h6v6h-6zM142,281h6v6h-6zM142,305h6v6h-6zM148,335h6v6h-6zM148,341h6v6h-6zM346,413h6v6h-6z"/>
<path fill="#524266" d="M388,191h6v6h-6zM136,287h6v6h-6zM136,293h6v6h-6zM136,299h6v6h-6zM136,305h6v6h-6zM358,407h6v6h-6zM352,413h6v6h-6zM346,419h6v6h-6z"/>
<path fill="#625672" d="M406,191h6v6h-6zM412,209h6v6h-6zM400,383h6v6h-6zM382,407h6v6h-6zM376,413h6v6h-6zM370,419h6v6h-6zM364,425h6v6h-6zM358,431h6v6h-6z"/>
<path fill="#685e76" d="M412,191h6v6h-6zM388,407h6v6h-6zM370,431h6v6h-6z"/>
<path fill="#6e647a" d="M418,191h6v6h-6zM388,419h6v6h-6zM382,431h6v6h-6z"/>
<path fill="#746c7e" d="M424,191h6v6h-6zM400,425h6v6h-6zM394,437h6v6h-6z"/>
<path fill="#7a7284" d="M430,191h6v6h-6zM436,371h6v6h-6zM436,389h6v6h-6zM424,407h6v6h-6z"/>
<path fill="#8e8894" d="M448,191h6v6h-6zM448,197h6v6h-6z"/>
<path fill="#98949e" d="M466,191h6v6h-6zM454,329h6v6h-6zM460,341h6v6h-6zM472,353h6v6h-6zM502,365h6v6h-6z"/>
<path fill="#4a3e5e" d="M154,197h6v6h-6z"/>
<path fill="#462e60" d="M208,197h6v6h-6zM208,383h6v6h-6zM328,401h6v6h-6z"/>
<path fill="#4c2e6a" d="M262,197h6v6h-6zM268,197h6v6h-6zM274,197h6v6h-6zM280,197h6v6h-6zM286,197h6v6h-6zM292,197h6v6h-6zM298,197h6v6h-6zM244,203h6v6h-6zM250,203h6v6h-6zM256,203h6v6h-6zM262,203h6v6h-6zM238,209h6v6h-6zM244,209h6v6h-6zM226,215h6v6h-6zM232,215h6v6h-6zM220,221h6v6h-6zM226,221h6v6h-6zM214,227h6v6h-6zM220,227h6v6h-6zM208,233h6v6h-6zM214,233h6v6h-6zM208,239h6v6h-6zM202,245h6v6h-6zM196,251h6v6h-6zM202,251h6v6h-6zM196,257h6v6h-6zM196,263h6v6h-6zM190,269h6v6h-6zM196,269h6v6h-6zM190,275h6v6h-6zM190,281h6v6h-6zM190,287h6v6h-6zM190,293h6v6h-6zM190,299h6v6h-6zM190,305h6v6h-6zM190,311h6v6h-6zM196,311h6v6h-6zM196,317h6v6h-6zM196,323h6v6h-6zM196,329h6v6h-6zM202,329h6v6h-6zM202,335h6v6h-6zM208,341h6v6h-6zM208,347h6v6h-6zM214,347h6v6h-6zM214,353h6v6h-6zM220,353h6v6h-6zM220,359h6v6h-6zM226,359h6v6h-6zM226,365h6v6h-6zM232,365h6v6h-6zM238,371h6v6h-6zM244,371h6v6h-6zM250,377h6v6h-6zM256,377h6v6h-6zM262,377h6v6h-6zM268,383h6v6h-6zM274,383h6v6h-6zM280,383h6v6h-6zM286,383h6v6h-6zM292,383h6v6h-6z"/>
<path fill="#4c306a" d="M304,197h6v6h-6zM310,197h6v6h-6zM310,203h6v6h-6zM316,203h6v6h-6zM322,203h6v6h-6zM328,203h6v6h-6zM298,383h6v6h-6zM304,383h6v6h-6zM310,383h6v6h-6z"/>
<path fill="#4a3068" d="M316,197h6v6h-6zM340,203h6v6h-6zM352,209h6v6h-6zM184,257h6v6h-6zM184,263h6v6h-6zM184,269h6v6h-6zM178,275h6v6h-6zM178,281h6v6h-6zM178,287h6v6h-6zM178,293h6v6h-6zM178,299h6v6h-6zM178,305h6v6h-6zM184,311h6v6h-6zM184,317h6v6h-6zM184,323h6v6h-6zM334,383h6v6h-6zM310,389h6v6h-6z"/>
<path fill="#4a3066" d="M334,197h6v6h-6zM346,203h6v6h-6zM358,209h6v6h-6zM190,239h6v6h-6zM184,245h6v6h-6zM184,251h6v6h-6zM178,257h6v6h-6zM178,263h6v6h-6zM178,269h6v6h-6zM178,311h6v6h-6zM178,317h6v6h-6zM178,323h6v6h-6zM184,329h6v6h-6zM184,335h6v6h-6zM190,341h6v6h-6zM316,389h6v6h-6zM322,389h6v6h-6zM328,389h6v6h-6zM334,389h6v6h-6z"/>
<path fill="#483066" d="M340,197h6v6h-6zM352,203h6v6h-6zM190,233h6v6h-6zM184,239h6v6h-6zM178,251h6v6h-6zM178,329h6v6h-6zM184,341h6v6h-6zM190,347h6v6h-6z"/>
<path fill="#483064" d="M346,197h6v6h-6zM358,203h6v6h-6zM364,209h6v6h-6zM196,215h6v6h-6zM190,221h6v6h-6zM196,221h6v6h-6zM190,227h6v6h-6zM184,233h6v6h-6zM178,239h6v6h-6zM178,245h6v6h-6zM178,335h6v6h-6zM178,341h6v6h-6zM184,347h6v6h-6zM190,353h6v6h-6zM190,359h6v6h-6zM196,359h6v6h-6zM196,365h6v6h-6zM340,389h6v6h-6zM328,395h6v6h-6z"/>
<path fill="#463062" d="M352,197h6v6h-6zM364,203h6v6h-6zM196,209h6v6h-6zM190,215h6v6h-6zM184,221h6v6h-6zM178,227h6v6h-6zM178,353h6v6h-6zM184,359h6v6h-6zM190,365h6v6h-6zM196,371h6v6h-6zM346,395h6v6h-6z"/>
<path fill="#463260" d="M370,197h6v6h-6zM178,215h6v6h-6zM172,221h6v6h-6zM172,227h6v6h-6zM172,233h6v6h-6zM172,347h6v6h-6zM184,371h6v6h-6zM196,389h6v6h-6zM334,407h6v6h-6z"/>
<path fill="#4c3a62" d="M382,197h6v6h-6zM148,245h6v6h-6zM148,251h6v6h-6zM148,257h6v6h-6zM148,263h6v6h-6zM148,269h6v6h-6zM148,275h6v6h-6zM154,335h6v6h-6zM154,341h6v6h-6zM160,353h6v6h-6zM166,365h6v6h-6zM172,377h6v6h-6zM340,413h6v6h-6zM322,425h6v6h-6z"/>
<path fill="#504066" d="M388,197h6v6h-6z"/>
<path fill="#544668" d="M394,197h6v6h-6z"/>
<path fill="#5a4c6c" d="M400,197h6v6h-6zM376,401h6v6h-6zM370,407h6v6h-6zM352,425h6v6h-6z"/>
<path fill="#665c76" d="M412,197h6v6h-6zM418,221h6v6h-6zM382,413h6v6h-6zM376,419h6v6h-6z"/>
<path fill="#6c627a" d="M418,197h6v6h-6zM418,203h6v6h-6zM424,233h6v6h-6zM418,371h6v6h-6zM406,389h6v6h-6zM388,413h6v6h-6z"/>
<path fill="#726a7e" d="M424,197h6v6h-6zM424,377h6v6h-6zM418,389h6v6h-6zM412,395h6v6h-6zM406,407h6v6h-6zM400,413h6v6h-6zM400,419h6v6h-6zM394,431h6v6h-6z"/>
<path fill="#787284" d="M430,197h6v6h-6z"/>
<path fill="#807888" d="M436,197h6v6h-6z"/>
<path fill="#86808e" d="M442,197h6v6h-6zM442,203h6v6h-6zM442,209h6v6h-6zM448,365h6v6h-6z"/>
<path fill="#46365e" d="M172,203h6v6h-6zM244,425h6v6h-6zM292,431h6v6h-6z"/>
<path fill="#46305e" d="M190,203h6v6h-6zM202,389h6v6h-6zM214,401h6v6h-6z"/>
<path fill="#4e2e6c" d="M268,203h6v6h-6zM274,203h6v6h-6zM280,203h6v6h-6zM286,203h6v6h-6zM292,203h6v6h-6zM298,203h6v6h-6zM304,203h6v6h-6zM250,209h6v6h-6zM256,209h6v6h-6zM262,209h6v6h-6zM298,209h6v6h-6zM304,209h6v6h-6zM310,209h6v6h-6zM316,209h6v6h-6zM238,215h6v6h-6zM244,215h6v6h-6zM322,215h6v6h-6zM232,221h6v6h-6zM328,221h6v6h-6zM226,227h6v6h-6zM220,233h6v6h-6zM214,239h6v6h-6zM208,245h6v6h-6zM208,251h6v6h-6zM202,257h6v6h-6zM202,263h6v6h-6zM202,269h6v6h-6zM196,275h6v6h-6zM196,281h6v6h-6zM196,287h6v6h-6zM196,293h6v6h-6zM196,299h6v6h-6zM196,305h6v6h-6zM202,311h6v6h-6zM202,317h6v6h-6zM202,323h6v6h-6zM208,329h6v6h-6zM208,335h6v6h-6zM352,335h6v6h-6zM214,341h6v6h-6zM220,347h6v6h-6zM226,353h6v6h-6zM232,359h6v6h-6zM238,359h6v6h-6zM328,359h6v6h-6zM238,365h6v6h-6zM244,365h6v6h-6zM316,365h6v6h-6zM250,371h6v6h-6zM256,371h6v6h-6zM262,371h6v6h-6zM268,371h6v6h-6zM298,371h6v6h-6zM304,371h6v6h-6zM310,371h6v6h-6zM274,377h6v6h-6zM280,377h6v6h-6zM286,377h6v6h-6zM292,377h6v6h-6zM298,377h6v6h-6z"/>
<path fill="#4c3068" d="M334,203h6v6h-6zM316,383h6v6h-6zM322,383h6v6h-6zM328,383h6v6h-6z"/>
<path fill="#483260" d="M376,203h6v6h-6zM166,239h6v6h-6zM172,353h6v6h-6zM178,365h6v6h-6z"/>
<path fill="#544468" d="M394,203h6v6h-6z"/>
<path fill="#584a6c" d="M400,203h6v6h-6zM400,365h6v6h-6zM388,383h6v6h-6z"/>
<path fill="#5e5270" d="M406,203h6v6h-6zM400,377h6v6h-6zM382,401h6v6h-6z"/>
<path fill="#72687e" d="M424,203h6v6h-6zM424,371h6v6h-6zM418,383h6v6h-6zM406,401h6v6h-6z"/>
<path fill="#787084" d="M430,203h6v6h-6zM430,365h6v6h-6z"/>
<path fill="#7e7888" d="M436,203h6v6h-6zM442,371h6v6h-6zM448,383h6v6h-6z"/>
<path fill="#8c8894" d="M448,203h6v6h-6zM448,209h6v6h-6zM454,359h6v6h-6zM478,377h6v6h-6z"/>
<path fill="#9a96a0" d="M466,203h6v6h-6zM454,263h6v6h-6zM454,323h6v6h-6z"/>
<path fill="#a2a0a8" d="M484,203h6v6h-6zM466,233h6v6h-6zM466,239h6v6h-6zM466,245h6v6h-6zM466,323h6v6h-6z"/>
<path fill="#584e64" d="M106,209h6v6h-6zM106,215h6v6h-6z"/>
<path fill="#4c2e68" d="M232,209h6v6h-6zM202,239h6v6h-6zM190,263h6v6h-6zM190,317h6v6h-6zM202,341h6v6h-6zM232,371h6v6h-6zM244,377h6v6h-6zM262,383h6v6h-6z"/>
<path fill="#4e2e6e" d="M268,209h6v6h-6zM316,215h6v6h-6zM238,221h6v6h-6zM214,245h6v6h-6zM202,275h6v6h-6zM202,305h6v6h-6zM214,335h6v6h-6zM250,365h6v6h-6zM292,371h6v6h-6z"/>
<path fill="#502e6e" d="M274,209h6v6h-6zM292,209h6v6h-6zM250,215h6v6h-6zM334,227h6v6h-6zM208,257h6v6h-6zM202,281h6v6h-6zM202,299h6v6h-6zM208,323h6v6h-6zM346,341h6v6h-6zM340,347h6v6h-6zM232,353h6v6h-6zM334,353h6v6h-6zM274,371h6v6h-6zM280,371h6v6h-6zM286,371h6v6h-6z"/>
<path fill="#50306e" d="M280,209h6v6h-6zM286,209h6v6h-6zM232,227h6v6h-6zM226,233h6v6h-6zM340,233h6v6h-6zM220,239h6v6h-6zM346,239h6v6h-6zM352,239h6v6h-6zM352,245h6v6h-6zM358,251h6v6h-6zM358,257h6v6h-6zM364,269h6v6h-6zM364,275h6v6h-6zM364,281h6v6h-6zM202,287h6v6h-6zM364,287h6v6h-6zM202,293h6v6h-6zM364,293h6v6h-6zM364,299h6v6h-6zM364,305h6v6h-6zM358,323h6v6h-6zM358,329h6v6h-6zM220,341h6v6h-6zM226,347h6v6h-6zM310,365h6v6h-6z"/>
<path fill="#4e306c" d="M322,209h6v6h-6zM328,215h6v6h-6zM334,215h6v6h-6zM334,221h6v6h-6zM340,221h6v6h-6zM340,227h6v6h-6zM346,233h6v6h-6zM358,335h6v6h-6zM352,341h6v6h-6zM346,347h6v6h-6zM340,353h6v6h-6zM334,359h6v6h-6zM322,365h6v6h-6zM328,365h6v6h-6zM334,365h6v6h-6zM316,371h6v6h-6zM322,371h6v6h-6zM304,377h6v6h-6z"/>
<path fill="#4e306a" d="M328,209h6v6h-6zM310,377h6v6h-6zM316,377h6v6h-6zM322,377h6v6h-6z"/>
<path fill="#4e326a" d="M334,209h6v6h-6zM346,215h6v6h-6zM358,221h6v6h-6zM346,365h6v6h-6zM334,371h6v6h-6zM340,371h6v6h-6z"/>
<path fill="#4c326a" d="M340,209h6v6h-6zM352,215h6v6h-6zM346,371h6v6h-6zM328,377h6v6h-6zM334,377h6v6h-6z"/>
<path fill="#4c3268" d="M346,209h6v6h-6zM358,215h6v6h-6zM364,221h6v6h-6zM370,221h6v6h-6zM352,371h6v6h-6zM340,377h6v6h-6zM346,377h6v6h-6z"/>
<path fill="#483062" d="M370,209h6v6h-6zM184,227h6v6h-6zM178,233h6v6h-6zM178,347h6v6h-6zM184,353h6v6h-6zM334,395h6v6h-6zM340,395h6v6h-6z"/>
<path fill="#463262" d="M376,209h6v6h-6z"/>
<path fill="#4a3662" d="M382,209h6v6h-6zM154,263h6v6h-6zM154,269h6v6h-6zM154,275h6v6h-6zM154,281h6v6h-6zM154,299h6v6h-6zM154,305h6v6h-6zM154,311h6v6h-6zM160,335h6v6h-6zM166,353h6v6h-6zM334,413h6v6h-6z"/>
<path fill="#4e3a64" d="M388,209h6v6h-6z"/>
<path fill="#524268" d="M394,209h6v6h-6zM400,227h6v6h-6zM376,389h6v6h-6zM370,395h6v6h-6z"/>
<path fill="#56486a" d="M400,209h6v6h-6z"/>
<path fill="#5c506e" d="M406,209h6v6h-6zM370,413h6v6h-6zM364,419h6v6h-6z"/>
<path fill="#6a6078" d="M418,209h6v6h-6zM400,395h6v6h-6zM394,401h6v6h-6zM382,419h6v6h-6zM376,425h6v6h-6z"/>
<path fill="#70687e" d="M424,209h6v6h-6zM412,389h6v6h-6zM400,407h6v6h-6z"/>
<path fill="#787082" d="M430,209h6v6h-6zM436,377h6v6h-6zM430,389h6v6h-6zM424,401h6v6h-6zM418,407h6v6h-6z"/>
<path fill="#7e7688" d="M436,209h6v6h-6zM436,215h6v6h-6zM436,221h6v6h-6z"/>
<path fill="#9e9ca4" d="M472,209h6v6h-6zM490,347h6v6h-6z"/>
<path fill="#523070" d="M256,215h6v6h-6zM244,221h6v6h-6zM322,221h6v6h-6zM214,251h6v6h-6zM352,251h6v6h-6zM208,263h6v6h-6zM358,263h6v6h-6zM208,317h6v6h-6zM214,329h6v6h-6zM244,359h6v6h-6z"/>
<path fill="#543070" d="M262,215h6v6h-6zM304,215h6v6h-6zM328,227h6v6h-6zM346,335h6v6h-6zM328,353h6v6h-6zM262,365h6v6h-6zM304,365h6v6h-6z"/>
<path fill="#563272" d="M268,215h6v6h-6zM274,215h6v6h-6zM292,215h6v6h-6zM298,215h6v6h-6zM250,221h6v6h-6zM316,221h6v6h-6zM232,233h6v6h-6zM226,239h6v6h-6zM340,239h6v6h-6zM214,257h6v6h-6zM352,257h6v6h-6zM208,275h6v6h-6zM358,275h6v6h-6zM208,281h6v6h-6zM208,299h6v6h-6zM208,305h6v6h-6zM358,305h6v6h-6zM214,323h6v6h-6zM226,341h6v6h-6zM232,347h6v6h-6zM250,359h6v6h-6zM268,365h6v6h-6zM274,365h6v6h-6zM280,365h6v6h-6zM286,365h6v6h-6zM292,365h6v6h-6z"/>
<path fill="#583272" d="M280,215h6v6h-6zM286,215h6v6h-6zM322,227h6v6h-6zM208,287h6v6h-6zM208,293h6v6h-6zM346,329h6v6h-6zM322,353h6v6h-6zM310,359h6v6h-6z"/>
<path fill="#52306e" d="M310,215h6v6h-6zM358,317h6v6h-6zM352,329h6v6h-6zM322,359h6v6h-6zM256,365h6v6h-6z"/>
<path fill="#4e326c" d="M340,215h6v6h-6zM352,221h6v6h-6zM340,359h6v6h-6zM340,365h6v6h-6zM328,371h6v6h-6z"/>
<path fill="#4a3266" d="M364,215h6v6h-6zM370,215h6v6h-6zM172,263h6v6h-6zM172,269h6v6h-6zM172,275h6v6h-6zM172,281h6v6h-6zM172,287h6v6h-6zM172,293h6v6h-6zM172,299h6v6h-6zM172,305h6v6h-6zM172,311h6v6h-6zM352,377h6v6h-6zM340,383h6v6h-6zM346,383h6v6h-6z"/>
<path fill="#483264" d="M376,215h6v6h-6zM172,251h6v6h-6zM172,257h6v6h-6zM166,263h6v6h-6zM166,317h6v6h-6zM172,323h6v6h-6zM172,329h6v6h-6zM346,389h6v6h-6z"/>
<path fill="#483262" d="M382,215h6v6h-6zM172,239h6v6h-6zM166,245h6v6h-6zM172,245h6v6h-6zM166,251h6v6h-6zM166,257h6v6h-6zM166,323h6v6h-6zM166,329h6v6h-6zM166,335h6v6h-6zM172,335h6v6h-6zM172,341h6v6h-6zM352,389h6v6h-6zM358,389h6v6h-6zM352,395h6v6h-6z"/>
<path fill="#4c3864" d="M388,215h6v6h-6zM394,233h6v6h-6zM376,377h6v6h-6zM370,383h6v6h-6z"/>
<path fill="#503e66" d="M394,215h6v6h-6zM376,383h6v6h-6z"/>
<path fill="#56466a" d="M400,215h6v6h-6zM376,395h6v6h-6zM370,401h6v6h-6z"/>
<path fill="#5a4c6e" d="M406,215h6v6h-6zM406,353h6v6h-6zM382,395h6v6h-6z"/>
<path fill="#605472" d="M412,215h6v6h-6zM406,371h6v6h-6zM394,389h6v6h-6zM388,395h6v6h-6z"/>
<path fill="#685e78" d="M418,215h6v6h-6z"/>
<path fill="#70667e" d="M424,215h6v6h-6zM406,395h6v6h-6z"/>
<path fill="#766e82" d="M430,215h6v6h-6zM430,221h6v6h-6zM430,371h6v6h-6zM430,383h6v6h-6zM424,395h6v6h-6z"/>
<path fill="#847e8e" d="M442,215h6v6h-6zM442,221h6v6h-6zM442,227h6v6h-6zM442,233h6v6h-6z"/>
<path fill="#8c8694" d="M448,215h6v6h-6zM448,221h6v6h-6zM448,227h6v6h-6zM448,233h6v6h-6zM448,347h6v6h-6z"/>
<path fill="#a6a2aa" d="M484,215h6v6h-6zM478,233h6v6h-6zM472,239h6v6h-6zM466,263h6v6h-6zM454,287h6v6h-6zM454,293h6v6h-6zM466,311h6v6h-6z"/>
<path fill="#544862" d="M124,221h6v6h-6z"/>
<path fill="#583474" d="M256,221h6v6h-6zM310,221h6v6h-6zM244,227h6v6h-6zM220,251h6v6h-6zM346,251h6v6h-6zM214,263h6v6h-6zM352,263h6v6h-6zM214,317h6v6h-6zM220,329h6v6h-6zM244,353h6v6h-6zM256,359h6v6h-6z"/>
<path fill="#5a3474" d="M262,221h6v6h-6zM304,221h6v6h-6zM238,233h6v6h-6zM328,233h6v6h-6zM334,239h6v6h-6zM226,245h6v6h-6zM340,245h6v6h-6zM352,269h6v6h-6zM214,311h6v6h-6zM352,311h6v6h-6zM226,335h6v6h-6zM340,335h6v6h-6zM232,341h6v6h-6zM334,341h6v6h-6zM238,347h6v6h-6zM328,347h6v6h-6zM262,359h6v6h-6zM304,359h6v6h-6z"/>
<path fill="#5c3676" d="M268,221h6v6h-6zM298,221h6v6h-6zM250,227h6v6h-6zM220,257h6v6h-6zM346,257h6v6h-6zM214,275h6v6h-6zM352,275h6v6h-6zM214,305h6v6h-6zM352,305h6v6h-6zM220,323h6v6h-6zM268,359h6v6h-6z"/>
<path fill="#5e3676" d="M274,221h6v6h-6zM292,221h6v6h-6zM322,233h6v6h-6zM340,251h6v6h-6zM214,281h6v6h-6zM352,281h6v6h-6zM352,287h6v6h-6zM352,293h6v6h-6zM214,299h6v6h-6zM352,299h6v6h-6zM340,329h6v6h-6zM244,347h6v6h-6zM322,347h6v6h-6zM310,353h6v6h-6zM274,359h6v6h-6zM280,359h6v6h-6zM286,359h6v6h-6zM292,359h6v6h-6z"/>
<path fill="#5e3678" d="M280,221h6v6h-6zM286,221h6v6h-6zM310,227h6v6h-6zM244,233h6v6h-6zM226,251h6v6h-6zM346,263h6v6h-6zM214,287h6v6h-6zM214,293h6v6h-6zM346,317h6v6h-6zM226,329h6v6h-6zM334,335h6v6h-6zM328,341h6v6h-6zM256,353h6v6h-6z"/>
<path fill="#50326c" d="M346,221h6v6h-6zM346,227h6v6h-6zM352,233h6v6h-6zM358,239h6v6h-6zM364,329h6v6h-6zM364,335h6v6h-6zM358,341h6v6h-6zM352,347h6v6h-6zM346,353h6v6h-6zM352,353h6v6h-6zM346,359h6v6h-6z"/>
<path fill="#4a3466" d="M376,221h6v6h-6zM370,371h6v6h-6zM358,377h6v6h-6z"/>
<path fill="#4a3464" d="M382,221h6v6h-6zM160,281h6v6h-6zM160,287h6v6h-6zM160,293h6v6h-6zM160,299h6v6h-6zM364,377h6v6h-6zM370,377h6v6h-6z"/>
<path fill="#4a3664" d="M388,221h6v6h-6zM388,227h6v6h-6zM154,287h6v6h-6zM154,293h6v6h-6zM376,371h6v6h-6z"/>
<path fill="#4e3c66" d="M394,221h6v6h-6zM370,389h6v6h-6zM364,395h6v6h-6z"/>
<path fill="#54446a" d="M400,221h6v6h-6zM406,245h6v6h-6zM400,353h6v6h-6zM382,383h6v6h-6z"/>
<path fill="#5a4a6c" d="M406,221h6v6h-6zM394,377h6v6h-6z"/>
<path fill="#605272" d="M412,221h6v6h-6zM412,341h6v6h-6z"/>
<path fill="#6e647c" d="M424,221h6v6h-6zM412,383h6v6h-6zM394,407h6v6h-6z"/>
<path fill="#9c98a2" d="M460,221h6v6h-6zM460,227h6v6h-6zM460,233h6v6h-6zM460,239h6v6h-6zM460,245h6v6h-6zM460,251h6v6h-6zM454,317h6v6h-6zM460,329h6v6h-6z"/>
<path fill="#564a64" d="M118,227h6v6h-6zM118,233h6v6h-6zM274,461h6v6h-6z"/>
<path fill="#543270" d="M238,227h6v6h-6zM220,245h6v6h-6zM346,245h6v6h-6zM208,269h6v6h-6zM358,269h6v6h-6zM208,311h6v6h-6zM358,311h6v6h-6zM220,335h6v6h-6zM340,341h6v6h-6zM334,347h6v6h-6zM238,353h6v6h-6zM316,359h6v6h-6zM298,365h6v6h-6z"/>
<path fill="#603678" d="M256,227h6v6h-6zM328,239h6v6h-6zM334,245h6v6h-6zM220,263h6v6h-6zM220,317h6v6h-6zM232,335h6v6h-6zM238,341h6v6h-6z"/>
<path fill="#62387a" d="M262,227h6v6h-6zM250,233h6v6h-6zM316,233h6v6h-6zM226,257h6v6h-6zM340,257h6v6h-6zM220,269h6v6h-6zM220,311h6v6h-6zM226,323h6v6h-6zM250,347h6v6h-6zM316,347h6v6h-6z"/>
<path fill="#64387a" d="M268,227h6v6h-6zM298,227h6v6h-6zM322,239h6v6h-6zM346,275h6v6h-6zM220,305h6v6h-6zM346,305h6v6h-6zM334,329h6v6h-6zM322,341h6v6h-6zM268,353h6v6h-6zM298,353h6v6h-6z"/>
<path fill="#663a7c" d="M274,227h6v6h-6zM280,227h6v6h-6zM286,227h6v6h-6zM292,227h6v6h-6zM256,233h6v6h-6zM310,233h6v6h-6zM238,245h6v6h-6zM226,263h6v6h-6zM340,263h6v6h-6zM220,281h6v6h-6zM220,287h6v6h-6zM346,287h6v6h-6zM220,293h6v6h-6zM346,293h6v6h-6zM220,299h6v6h-6zM226,317h6v6h-6zM340,317h6v6h-6zM238,335h6v6h-6zM256,347h6v6h-6zM310,347h6v6h-6zM280,353h6v6h-6zM286,353h6v6h-6z"/>
<path fill="#623878" d="M304,227h6v6h-6zM346,269h6v6h-6zM346,311h6v6h-6zM340,323h6v6h-6zM262,353h6v6h-6zM304,353h6v6h-6z"/>
<path fill="#5c3476" d="M316,227h6v6h-6zM250,353h6v6h-6zM298,359h6v6h-6z"/>
<path fill="#50346c" d="M352,227h6v6h-6zM358,233h6v6h-6zM364,239h6v6h-6zM370,245h6v6h-6zM370,251h6v6h-6zM370,329h6v6h-6zM370,335h6v6h-6zM364,341h6v6h-6zM358,347h6v6h-6z"/>
<path fill="#4e346c" d="M358,227h6v6h-6zM364,233h6v6h-6zM370,239h6v6h-6zM370,341h6v6h-6zM364,347h6v6h-6zM358,353h6v6h-6zM352,359h6v6h-6z"/>
<path fill="#4e346a" d="M364,227h6v6h-6zM370,233h6v6h-6zM376,233h6v6h-6zM370,347h6v6h-6zM364,353h6v6h-6zM370,353h6v6h-6zM358,359h6v6h-6zM364,359h6v6h-6zM352,365h6v6h-6zM358,365h6v6h-6z"/>
<path fill="#4c3468" d="M370,227h6v6h-6zM376,227h6v6h-6zM370,359h6v6h-6zM364,365h6v6h-6zM358,371h6v6h-6z"/>
<path fill="#4c3466" d="M382,227h6v6h-6zM370,365h6v6h-6zM364,371h6v6h-6z"/>
<path fill="#4e3a66" d="M394,227h6v6h-6zM400,245h6v6h-6zM394,347h6v6h-6zM382,371h6v6h-6z"/>
<path fill="#58486c" d="M406,227h6v6h-6zM382,389h6v6h-6z"/>
<path fill="#5e5070" d="M412,227h6v6h-6zM412,233h6v6h-6zM406,365h6v6h-6z"/>
<path fill="#665a76" d="M418,227h6v6h-6zM412,371h6v6h-6zM400,389h6v6h-6z"/>
<path fill="#6e627c" d="M424,227h6v6h-6z"/>
<path fill="#766c82" d="M430,227h6v6h-6zM430,251h6v6h-6z"/>
<path fill="#7c7688" d="M436,227h6v6h-6z"/>
<path fill="#5c5268" d="M100,233h6v6h-6zM106,251h6v6h-6zM244,467h6v6h-6zM262,473h6v6h-6zM268,473h6v6h-6z"/>
<path fill="#5a5066" d="M106,233h6v6h-6z"/>
<path fill="#4e3e60" d="M142,233h6v6h-6zM214,425h6v6h-6zM292,443h6v6h-6z"/>
<path fill="#683c7e" d="M262,233h6v6h-6zM304,233h6v6h-6zM316,239h6v6h-6zM334,257h6v6h-6zM340,269h6v6h-6zM340,311h6v6h-6zM232,323h6v6h-6zM250,341h6v6h-6zM262,347h6v6h-6z"/>
<path fill="#6c3c80" d="M268,233h6v6h-6zM274,233h6v6h-6zM280,233h6v6h-6zM286,233h6v6h-6zM292,233h6v6h-6zM256,239h6v6h-6zM262,239h6v6h-6zM268,239h6v6h-6zM274,239h6v6h-6zM280,239h6v6h-6zM286,239h6v6h-6zM292,239h6v6h-6zM298,239h6v6h-6zM304,239h6v6h-6zM310,239h6v6h-6zM250,245h6v6h-6zM256,245h6v6h-6zM262,245h6v6h-6zM268,245h6v6h-6zM274,245h6v6h-6zM280,245h6v6h-6zM286,245h6v6h-6zM292,245h6v6h-6zM298,245h6v6h-6zM304,245h6v6h-6zM310,245h6v6h-6zM316,245h6v6h-6zM244,251h6v6h-6zM250,251h6v6h-6zM256,251h6v6h-6zM262,251h6v6h-6zM268,251h6v6h-6zM274,251h6v6h-6zM280,251h6v6h-6zM286,251h6v6h-6zM292,251h6v6h-6zM298,251h6v6h-6zM304,251h6v6h-6zM310,251h6v6h-6zM316,251h6v6h-6zM322,251h6v6h-6zM238,257h6v6h-6zM244,257h6v6h-6zM250,257h6v6h-6zM256,257h6v6h-6zM262,257h6v6h-6zM304,257h6v6h-6zM310,257h6v6h-6zM316,257h6v6h-6zM322,257h6v6h-6zM328,257h6v6h-6zM232,263h6v6h-6zM238,263h6v6h-6zM244,263h6v6h-6zM250,263h6v6h-6zM256,263h6v6h-6zM310,263h6v6h-6zM316,263h6v6h-6zM322,263h6v6h-6zM328,263h6v6h-6zM334,263h6v6h-6zM232,269h6v6h-6zM238,269h6v6h-6zM244,269h6v6h-6zM250,269h6v6h-6zM316,269h6v6h-6zM322,269h6v6h-6zM328,269h6v6h-6zM334,269h6v6h-6zM226,275h6v6h-6zM232,275h6v6h-6zM238,275h6v6h-6zM244,275h6v6h-6zM322,275h6v6h-6zM328,275h6v6h-6zM334,275h6v6h-6zM226,281h6v6h-6zM232,281h6v6h-6zM238,281h6v6h-6zM244,281h6v6h-6zM322,281h6v6h-6zM328,281h6v6h-6zM334,281h6v6h-6zM340,281h6v6h-6zM226,287h6v6h-6zM232,287h6v6h-6zM238,287h6v6h-6zM244,287h6v6h-6zM322,287h6v6h-6zM328,287h6v6h-6zM334,287h6v6h-6zM340,287h6v6h-6zM226,293h6v6h-6zM232,293h6v6h-6zM238,293h6v6h-6zM244,293h6v6h-6zM322,293h6v6h-6zM328,293h6v6h-6zM334,293h6v6h-6zM340,293h6v6h-6zM226,299h6v6h-6zM232,299h6v6h-6zM238,299h6v6h-6zM244,299h6v6h-6zM322,299h6v6h-6zM328,299h6v6h-6zM334,299h6v6h-6zM340,299h6v6h-6zM226,305h6v6h-6zM232,305h6v6h-6zM238,305h6v6h-6zM244,305h6v6h-6zM322,305h6v6h-6zM328,305h6v6h-6zM334,305h6v6h-6zM232,311h6v6h-6zM238,311h6v6h-6zM244,311h6v6h-6zM250,311h6v6h-6zM316,311h6v6h-6zM322,311h6v6h-6zM328,311h6v6h-6zM334,311h6v6h-6zM232,317h6v6h-6zM238,317h6v6h-6zM244,317h6v6h-6zM250,317h6v6h-6zM256,317h6v6h-6zM310,317h6v6h-6zM316,317h6v6h-6zM322,317h6v6h-6zM328,317h6v6h-6zM334,317h6v6h-6zM238,323h6v6h-6zM244,323h6v6h-6zM250,323h6v6h-6zM256,323h6v6h-6zM262,323h6v6h-6zM304,323h6v6h-6zM310,323h6v6h-6zM316,323h6v6h-6zM322,323h6v6h-6zM328,323h6v6h-6zM244,329h6v6h-6zM250,329h6v6h-6zM256,329h6v6h-6zM262,329h6v6h-6zM268,329h6v6h-6zM274,329h6v6h-6zM280,329h6v6h-6zM286,329h6v6h-6zM292,329h6v6h-6zM298,329h6v6h-6zM304,329h6v6h-6zM310,329h6v6h-6zM316,329h6v6h-6zM322,329h6v6h-6zM250,335h6v6h-6zM256,335h6v6h-6zM262,335h6v6h-6zM268,335h6v6h-6zM274,335h6v6h-6zM280,335h6v6h-6zM286,335h6v6h-6zM292,335h6v6h-6zM298,335h6v6h-6zM304,335h6v6h-6zM310,335h6v6h-6zM316,335h6v6h-6zM256,341h6v6h-6zM262,341h6v6h-6zM268,341h6v6h-6zM274,341h6v6h-6zM280,341h6v6h-6zM286,341h6v6h-6zM292,341h6v6h-6zM298,341h6v6h-6zM304,341h6v6h-6zM310,341h6v6h-6zM274,347h6v6h-6zM280,347h6v6h-6zM286,347h6v6h-6zM292,347h6v6h-6z"/>
<path fill="#6a3c7e" d="M298,233h6v6h-6zM250,239h6v6h-6zM244,245h6v6h-6zM322,245h6v6h-6zM238,251h6v6h-6zM328,251h6v6h-6zM232,257h6v6h-6zM274,263h6v6h-6zM280,263h6v6h-6zM286,263h6v6h-6zM292,263h6v6h-6zM226,269h6v6h-6zM262,269h6v6h-6zM268,269h6v6h-6zM274,269h6v6h-6zM280,269h6v6h-6zM286,269h6v6h-6zM292,269h6v6h-6zM298,269h6v6h-6zM304,269h6v6h-6zM262,275h6v6h-6zM268,275h6v6h-6zM298,275h6v6h-6zM304,275h6v6h-6zM340,275h6v6h-6zM256,281h6v6h-6zM262,281h6v6h-6zM304,281h6v6h-6zM310,281h6v6h-6zM256,287h6v6h-6zM262,287h6v6h-6zM304,287h6v6h-6zM310,287h6v6h-6zM256,293h6v6h-6zM262,293h6v6h-6zM304,293h6v6h-6zM310,293h6v6h-6zM256,299h6v6h-6zM262,299h6v6h-6zM304,299h6v6h-6zM310,299h6v6h-6zM262,305h6v6h-6zM268,305h6v6h-6zM298,305h6v6h-6zM304,305h6v6h-6zM340,305h6v6h-6zM226,311h6v6h-6zM262,311h6v6h-6zM268,311h6v6h-6zM274,311h6v6h-6zM280,311h6v6h-6zM286,311h6v6h-6zM292,311h6v6h-6zM298,311h6v6h-6zM304,311h6v6h-6zM274,317h6v6h-6zM280,317h6v6h-6zM286,317h6v6h-6zM292,317h6v6h-6zM238,329h6v6h-6zM328,329h6v6h-6zM244,335h6v6h-6zM322,335h6v6h-6zM268,347h6v6h-6zM298,347h6v6h-6z"/>
<path fill="#543272" d="M334,233h6v6h-6zM352,323h6v6h-6z"/>
<path fill="#4c3668" d="M382,233h6v6h-6zM382,353h6v6h-6z"/>
<path fill="#4c3666" d="M388,233h6v6h-6zM376,359h6v6h-6zM382,359h6v6h-6zM376,365h6v6h-6z"/>
<path fill="#523e68" d="M400,233h6v6h-6zM406,263h6v6h-6z"/>
<path fill="#58466c" d="M406,233h6v6h-6z"/>
<path fill="#645876" d="M418,233h6v6h-6z"/>
<path fill="#746c82" d="M430,233h6v6h-6zM430,245h6v6h-6z"/>
<path fill="#7c7488" d="M436,233h6v6h-6z"/>
<path fill="#5c3474" d="M232,239h6v6h-6zM214,269h6v6h-6zM346,323h6v6h-6zM316,353h6v6h-6z"/>
<path fill="#603878" d="M238,239h6v6h-6zM232,245h6v6h-6z"/>
<path fill="#643a7c" d="M244,239h6v6h-6zM232,251h6v6h-6zM274,353h6v6h-6z"/>
<path fill="#4e366a" d="M376,239h6v6h-6zM382,245h6v6h-6zM376,341h6v6h-6zM382,341h6v6h-6zM376,347h6v6h-6z"/>
<path fill="#4e3668" d="M382,239h6v6h-6zM388,239h6v6h-6zM382,347h6v6h-6zM376,353h6v6h-6z"/>
<path fill="#4c3866" d="M394,239h6v6h-6zM388,353h6v6h-6z"/>
<path fill="#503c68" d="M400,239h6v6h-6zM406,269h6v6h-6zM406,275h6v6h-6zM406,281h6v6h-6zM400,329h6v6h-6zM400,335h6v6h-6zM394,353h6v6h-6z"/>
<path fill="#56446c" d="M406,239h6v6h-6zM406,329h6v6h-6z"/>
<path fill="#5c4e70" d="M412,239h6v6h-6z"/>
<path fill="#645674" d="M418,239h6v6h-6zM418,245h6v6h-6z"/>
<path fill="#6c607a" d="M424,239h6v6h-6zM424,245h6v6h-6z"/>
<path fill="#746a82" d="M430,239h6v6h-6z"/>
<path fill="#7e768a" d="M436,239h6v6h-6z"/>
<path fill="#867e90" d="M442,239h6v6h-6zM436,335h6v6h-6zM436,341h6v6h-6z"/>
<path fill="#8e8896" d="M448,239h6v6h-6zM448,245h6v6h-6z"/>
<path fill="#94909c" d="M454,239h6v6h-6zM442,311h6v6h-6z"/>
<path fill="#544a66" d="M124,245h6v6h-6zM220,443h6v6h-6z"/>
<path fill="#4e3e62" d="M142,245h6v6h-6zM142,251h6v6h-6zM142,257h6v6h-6zM142,263h6v6h-6zM154,353h6v6h-6zM160,365h6v6h-6zM166,377h6v6h-6zM178,395h6v6h-6zM184,401h6v6h-6zM190,407h6v6h-6zM328,425h6v6h-6z"/>
<path fill="#643a7a" d="M328,245h6v6h-6zM334,251h6v6h-6zM220,275h6v6h-6zM346,281h6v6h-6zM346,299h6v6h-6zM232,329h6v6h-6zM328,335h6v6h-6zM244,341h6v6h-6zM292,353h6v6h-6z"/>
<path fill="#50326e" d="M358,245h6v6h-6zM364,251h6v6h-6zM364,257h6v6h-6zM364,263h6v6h-6zM370,281h6v6h-6zM370,287h6v6h-6zM370,293h6v6h-6zM364,311h6v6h-6zM364,317h6v6h-6zM364,323h6v6h-6z"/>
<path fill="#50346e" d="M364,245h6v6h-6zM370,257h6v6h-6zM370,263h6v6h-6zM370,269h6v6h-6zM370,275h6v6h-6zM370,299h6v6h-6zM370,323h6v6h-6z"/>
<path fill="#50366c" d="M376,245h6v6h-6zM376,251h6v6h-6zM382,251h6v6h-6zM376,257h6v6h-6zM382,257h6v6h-6zM382,263h6v6h-6zM382,269h6v6h-6zM376,329h6v6h-6zM376,335h6v6h-6z"/>
<path fill="#4e3868" d="M388,245h6v6h-6zM394,245h6v6h-6zM394,251h6v6h-6zM388,341h6v6h-6zM388,347h6v6h-6z"/>
<path fill="#5c4c70" d="M412,245h6v6h-6zM412,251h6v6h-6zM412,317h6v6h-6z"/>
<path fill="#80788a" d="M436,245h6v6h-6z"/>
<path fill="#888090" d="M442,245h6v6h-6z"/>
<path fill="#96909c" d="M454,245h6v6h-6zM448,263h6v6h-6z"/>
<path fill="#a8a4ac" d="M478,245h6v6h-6zM466,305h6v6h-6z"/>
<path fill="#5a4e68" d="M112,251h6v6h-6zM118,269h6v6h-6zM166,413h6v6h-6zM172,419h6v6h-6zM178,425h6v6h-6zM202,443h6v6h-6z"/>
<path fill="#584c66" d="M118,251h6v6h-6zM220,449h6v6h-6zM250,461h6v6h-6z"/>
<path fill="#483462" d="M160,251h6v6h-6zM160,257h6v6h-6zM160,263h6v6h-6zM160,269h6v6h-6zM160,311h6v6h-6zM160,317h6v6h-6zM160,323h6v6h-6zM166,341h6v6h-6zM166,347h6v6h-6zM364,383h6v6h-6zM346,401h6v6h-6z"/>
<path fill="#50386a" d="M388,251h6v6h-6zM388,257h6v6h-6zM388,329h6v6h-6zM382,335h6v6h-6zM388,335h6v6h-6z"/>
<path fill="#4e3a68" d="M400,251h6v6h-6zM394,341h6v6h-6z"/>
<path fill="#54426a" d="M406,251h6v6h-6zM400,347h6v6h-6zM394,365h6v6h-6z"/>
<path fill="#645676" d="M418,251h6v6h-6zM418,257h6v6h-6zM418,275h6v6h-6zM418,281h6v6h-6z"/>
<path fill="#6c607c" d="M424,251h6v6h-6zM424,257h6v6h-6zM424,263h6v6h-6z"/>
<path fill="#80788c" d="M436,251h6v6h-6z"/>
<path fill="#8a8294" d="M442,251h6v6h-6zM436,281h6v6h-6zM436,305h6v6h-6z"/>
<path fill="#908a98" d="M448,251h6v6h-6zM442,329h6v6h-6zM448,341h6v6h-6z"/>
<path fill="#96929e" d="M454,251h6v6h-6zM454,335h6v6h-6z"/>
<path fill="#aca8ae" d="M502,251h6v6h-6zM496,257h6v6h-6zM478,263h6v6h-6z"/>
<path fill="#504264" d="M136,257h6v6h-6zM136,263h6v6h-6zM136,269h6v6h-6zM136,275h6v6h-6zM136,281h6v6h-6zM142,335h6v6h-6zM142,341h6v6h-6zM148,353h6v6h-6zM160,377h6v6h-6zM166,389h6v6h-6zM172,395h6v6h-6zM316,437h6v6h-6zM304,443h6v6h-6z"/>
<path fill="#6c3c7e" d="M268,257h6v6h-6zM274,257h6v6h-6zM280,257h6v6h-6zM286,257h6v6h-6zM292,257h6v6h-6zM298,257h6v6h-6zM262,263h6v6h-6zM268,263h6v6h-6zM298,263h6v6h-6zM304,263h6v6h-6zM256,269h6v6h-6zM310,269h6v6h-6zM250,275h6v6h-6zM256,275h6v6h-6zM310,275h6v6h-6zM316,275h6v6h-6zM250,281h6v6h-6zM316,281h6v6h-6zM250,287h6v6h-6zM316,287h6v6h-6zM250,293h6v6h-6zM316,293h6v6h-6zM250,299h6v6h-6zM316,299h6v6h-6zM250,305h6v6h-6zM256,305h6v6h-6zM310,305h6v6h-6zM316,305h6v6h-6zM256,311h6v6h-6zM310,311h6v6h-6zM262,317h6v6h-6zM268,317h6v6h-6zM298,317h6v6h-6zM304,317h6v6h-6zM268,323h6v6h-6zM274,323h6v6h-6zM280,323h6v6h-6zM286,323h6v6h-6zM292,323h6v6h-6zM298,323h6v6h-6z"/>
<path fill="#503a6a" d="M394,257h6v6h-6zM394,263h6v6h-6zM394,269h6v6h-6zM400,269h6v6h-6zM400,275h6v6h-6zM394,329h6v6h-6z"/>
<path fill="#503a68" d="M400,257h6v6h-6zM400,263h6v6h-6zM394,335h6v6h-6z"/>
<path fill="#52406a" d="M406,257h6v6h-6zM400,341h6v6h-6z"/>
<path fill="#5a4a70" d="M412,257h6v6h-6zM412,305h6v6h-6z"/>
<path fill="#766c84" d="M430,257h6v6h-6z"/>
<path fill="#827a8c" d="M436,257h6v6h-6z"/>
<path fill="#8c8696" d="M442,257h6v6h-6zM436,287h6v6h-6zM436,293h6v6h-6z"/>
<path fill="#928c9a" d="M448,257h6v6h-6zM442,269h6v6h-6zM442,323h6v6h-6zM448,335h6v6h-6z"/>
<path fill="#9894a0" d="M454,257h6v6h-6z"/>
<path fill="#9e9aa4" d="M460,257h6v6h-6zM454,311h6v6h-6zM460,323h6v6h-6zM466,341h6v6h-6z"/>
<path fill="#aaa6ae" d="M472,257h6v6h-6zM460,287h6v6h-6z"/>
<path fill="#62586c" d="M94,263h6v6h-6z"/>
<path fill="#564a68" d="M124,263h6v6h-6zM124,269h6v6h-6zM124,275h6v6h-6zM130,329h6v6h-6zM136,353h6v6h-6zM142,365h6v6h-6zM148,377h6v6h-6zM154,389h6v6h-6zM340,431h6v6h-6zM310,449h6v6h-6z"/>
<path fill="#524666" d="M130,263h6v6h-6zM148,365h6v6h-6zM154,377h6v6h-6zM322,437h6v6h-6z"/>
<path fill="#50366e" d="M376,263h6v6h-6z"/>
<path fill="#50386c" d="M388,263h6v6h-6zM388,269h6v6h-6zM388,275h6v6h-6zM382,323h6v6h-6zM382,329h6v6h-6z"/>
<path fill="#5a4a6e" d="M412,263h6v6h-6zM406,347h6v6h-6z"/>
<path fill="#645476" d="M418,263h6v6h-6zM418,269h6v6h-6z"/>
<path fill="#786e84" d="M430,263h6v6h-6z"/>
<path fill="#847c8e" d="M436,263h6v6h-6zM436,347h6v6h-6z"/>
<path fill="#908898" d="M442,263h6v6h-6z"/>
<path fill="#a09ca6" d="M460,263h6v6h-6zM454,275h6v6h-6zM448,299h6v6h-6zM454,305h6v6h-6zM460,317h6v6h-6z"/>
<path fill="#5c506a" d="M112,269h6v6h-6zM124,347h6v6h-6zM148,395h6v6h-6zM316,455h6v6h-6z"/>
<path fill="#4a3264" d="M166,269h6v6h-6zM166,275h6v6h-6zM166,281h6v6h-6zM166,287h6v6h-6zM166,293h6v6h-6zM166,299h6v6h-6zM166,305h6v6h-6zM166,311h6v6h-6zM172,317h6v6h-6zM352,383h6v6h-6zM358,383h6v6h-6z"/>
<path fill="#52366e" d="M376,269h6v6h-6zM376,275h6v6h-6zM376,281h6v6h-6zM376,287h6v6h-6zM376,293h6v6h-6zM376,299h6v6h-6zM376,305h6v6h-6zM376,311h6v6h-6zM376,317h6v6h-6zM376,323h6v6h-6z"/>
<path fill="#5a486e" d="M412,269h6v6h-6zM412,275h6v6h-6zM412,281h6v6h-6z"/>
<path fill="#6e627e" d="M424,269h6v6h-6zM424,275h6v6h-6z"/>
<path fill="#786e86" d="M430,269h6v6h-6z"/>
<path fill="#847c90" d="M436,269h6v6h-6z"/>
<path fill="#9892a0" d="M448,269h6v6h-6zM442,299h6v6h-6zM448,317h6v6h-6z"/>
<path fill="#9c98a4" d="M454,269h6v6h-6zM448,305h6v6h-6z"/>
<path fill="#a29ea8" d="M460,269h6v6h-6zM454,281h6v6h-6zM448,287h6v6h-6zM448,293h6v6h-6zM460,311h6v6h-6z"/>
<path fill="#a6a4ac" d="M466,269h6v6h-6zM460,281h6v6h-6zM460,299h6v6h-6z"/>
<path fill="#4a3462" d="M160,275h6v6h-6zM160,305h6v6h-6zM160,329h6v6h-6z"/>
<path fill="#6a3a7e" d="M274,275h6v6h-6zM280,275h6v6h-6zM286,275h6v6h-6zM292,275h6v6h-6zM268,281h6v6h-6zM274,281h6v6h-6zM280,281h6v6h-6zM286,281h6v6h-6zM292,281h6v6h-6zM298,281h6v6h-6zM268,287h6v6h-6zM274,287h6v6h-6zM292,287h6v6h-6zM298,287h6v6h-6zM268,293h6v6h-6zM274,293h6v6h-6zM292,293h6v6h-6zM298,293h6v6h-6zM268,299h6v6h-6zM274,299h6v6h-6zM280,299h6v6h-6zM286,299h6v6h-6zM292,299h6v6h-6zM298,299h6v6h-6zM274,305h6v6h-6zM280,305h6v6h-6zM286,305h6v6h-6zM292,305h6v6h-6z"/>
<path fill="#52386e" d="M382,275h6v6h-6zM382,281h6v6h-6zM382,287h6v6h-6zM382,293h6v6h-6zM382,299h6v6h-6zM382,305h6v6h-6zM382,311h6v6h-6zM382,317h6v6h-6z"/>
<path fill="#503a6c" d="M394,275h6v6h-6zM394,281h6v6h-6zM388,323h6v6h-6z"/>
<path fill="#7a7088" d="M430,275h6v6h-6z"/>
<path fill="#868092" d="M436,275h6v6h-6zM436,323h6v6h-6z"/>
<path fill="#948e9c" d="M442,275h6v6h-6zM442,317h6v6h-6zM448,329h6v6h-6z"/>
<path fill="#9c96a2" d="M448,275h6v6h-6z"/>
<path fill="#a4a0aa" d="M460,275h6v6h-6zM460,305h6v6h-6z"/>
<path fill="#aeaab0" d="M502,275h6v6h-6z"/>
<path fill="#62586e" d="M100,281h6v6h-6zM106,323h6v6h-6zM106,329h6v6h-6zM112,347h6v6h-6zM118,365h6v6h-6zM124,377h6v6h-6zM130,389h6v6h-6zM148,413h6v6h-6zM154,419h6v6h-6zM178,443h6v6h-6zM328,461h6v6h-6zM322,467h6v6h-6z"/>
<path fill="#4c3a64" d="M148,281h6v6h-6zM148,287h6v6h-6zM148,293h6v6h-6zM148,299h6v6h-6zM148,305h6v6h-6zM148,311h6v6h-6z"/>
<path fill="#563472" d="M358,281h6v6h-6zM358,299h6v6h-6z"/>
<path fill="#52386c" d="M388,281h6v6h-6zM388,287h6v6h-6z"/>
<path fill="#503c6a" d="M400,281h6v6h-6zM394,323h6v6h-6z"/>
<path fill="#706480" d="M424,281h6v6h-6zM424,305h6v6h-6zM424,311h6v6h-6zM424,317h6v6h-6z"/>
<path fill="#7c728a" d="M430,281h6v6h-6zM430,305h6v6h-6z"/>
<path fill="#98929e" d="M442,281h6v6h-6z"/>
<path fill="#9e9aa6" d="M448,281h6v6h-6z"/>
<path fill="#625a70" d="M100,287h6v6h-6zM112,359h6v6h-6zM118,371h6v6h-6zM124,383h6v6h-6z"/>
<path fill="#503e64" d="M142,287h6v6h-6zM142,293h6v6h-6zM142,299h6v6h-6zM142,311h6v6h-6z"/>
<path fill="#824676" d="M280,287h6v6h-6z"/>
<path fill="#7e4478" d="M286,287h6v6h-6z"/>
<path fill="#583472" d="M358,287h6v6h-6zM358,293h6v6h-6zM352,317h6v6h-6z"/>
<path fill="#523a6c" d="M394,287h6v6h-6zM388,293h6v6h-6zM394,293h6v6h-6zM388,299h6v6h-6zM394,299h6v6h-6zM388,305h6v6h-6zM394,305h6v6h-6zM388,311h6v6h-6zM394,311h6v6h-6zM388,317h6v6h-6z"/>
<path fill="#523c6a" d="M400,287h6v6h-6zM400,293h6v6h-6zM400,299h6v6h-6zM400,305h6v6h-6zM400,311h6v6h-6zM400,317h6v6h-6zM400,323h6v6h-6z"/>
<path fill="#523e6a" d="M406,287h6v6h-6zM406,293h6v6h-6zM406,299h6v6h-6zM406,305h6v6h-6zM406,311h6v6h-6z"/>
<path fill="#5a4870" d="M412,287h6v6h-6zM412,293h6v6h-6zM412,299h6v6h-6z"/>
<path fill="#665878" d="M418,287h6v6h-6zM418,293h6v6h-6zM418,311h6v6h-6zM418,317h6v6h-6z"/>
<path fill="#726682" d="M424,287h6v6h-6zM424,293h6v6h-6z"/>
<path fill="#7e768c" d="M430,287h6v6h-6zM430,293h6v6h-6z"/>
<path fill="#9a96a2" d="M442,287h6v6h-6zM442,293h6v6h-6zM448,311h6v6h-6z"/>
<path fill="#b0aeb4" d="M472,287h6v6h-6zM478,287h6v6h-6zM484,287h6v6h-6zM478,293h6v6h-6z"/>
<path fill="#544868" d="M130,293h6v6h-6zM130,299h6v6h-6zM130,311h6v6h-6z"/>
<path fill="#804676" d="M280,293h6v6h-6z"/>
<path fill="#7c4478" d="M286,293h6v6h-6z"/>
<path fill="#a8a6ae" d="M460,293h6v6h-6z"/>
<path fill="#665678" d="M418,299h6v6h-6zM418,305h6v6h-6z"/>
<path fill="#706680" d="M424,299h6v6h-6zM424,323h6v6h-6z"/>
<path fill="#7e748a" d="M430,299h6v6h-6z"/>
<path fill="#8a8494" d="M436,299h6v6h-6zM442,341h6v6h-6z"/>
<path fill="#52346e" d="M370,305h6v6h-6zM370,311h6v6h-6zM370,317h6v6h-6z"/>
<path fill="#96909e" d="M442,305h6v6h-6zM448,323h6v6h-6z"/>
<path fill="#5c4a70" d="M412,311h6v6h-6z"/>
<path fill="#7c7288" d="M430,311h6v6h-6zM430,317h6v6h-6zM430,323h6v6h-6zM430,329h6v6h-6zM430,335h6v6h-6zM430,341h6v6h-6zM430,347h6v6h-6z"/>
<path fill="#888092" d="M436,311h6v6h-6zM436,317h6v6h-6z"/>
<path fill="#584e6a" d="M124,317h6v6h-6zM130,347h6v6h-6z"/>
<path fill="#4c3c64" d="M148,317h6v6h-6z"/>
<path fill="#523c6c" d="M394,317h6v6h-6z"/>
<path fill="#54406a" d="M406,317h6v6h-6z"/>
<path fill="#4e3c64" d="M148,323h6v6h-6zM148,329h6v6h-6zM358,401h6v6h-6zM352,407h6v6h-6z"/>
<path fill="#683a7c" d="M334,323h6v6h-6z"/>
<path fill="#56426c" d="M406,323h6v6h-6z"/>
<path fill="#5e4e72" d="M412,323h6v6h-6z"/>
<path fill="#665a78" d="M418,323h6v6h-6z"/>
<path fill="#6a6272" d="M82,329h6v6h-6zM196,485h6v6h-6zM208,491h6v6h-6zM244,503h6v6h-6zM280,509h6v6h-6z"/>
<path fill="#4c3862" d="M154,329h6v6h-6zM346,407h6v6h-6z"/>
<path fill="#5e5072" d="M412,329h6v6h-6z"/>
<path fill="#685a78" d="M418,329h6v6h-6z"/>
<path fill="#726680" d="M424,329h6v6h-6zM424,335h6v6h-6zM424,341h6v6h-6z"/>
<path fill="#868090" d="M436,329h6v6h-6z"/>
<path fill="#a09ea6" d="M466,329h6v6h-6zM490,341h6v6h-6z"/>
<path fill="#584a68" d="M130,335h6v6h-6zM322,443h6v6h-6z"/>
<path fill="#58466e" d="M406,335h6v6h-6z"/>
<path fill="#605072" d="M412,335h6v6h-6z"/>
<path fill="#685c78" d="M418,335h6v6h-6zM418,341h6v6h-6zM418,347h6v6h-6z"/>
<path fill="#8e8696" d="M442,335h6v6h-6z"/>
<path fill="#683a7e" d="M316,341h6v6h-6zM304,347h6v6h-6z"/>
<path fill="#58486e" d="M406,341h6v6h-6z"/>
<path fill="#605474" d="M412,347h6v6h-6z"/>
<path fill="#726880" d="M424,347h6v6h-6zM424,353h6v6h-6zM424,359h6v6h-6z"/>
<path fill="#888292" d="M442,347h6v6h-6z"/>
<path fill="#928c98" d="M454,347h6v6h-6zM460,359h6v6h-6z"/>
<path fill="#9c9aa2" d="M478,347h6v6h-6zM496,353h6v6h-6z"/>
<path fill="#625474" d="M412,353h6v6h-6z"/>
<path fill="#6a5e78" d="M418,353h6v6h-6zM418,359h6v6h-6zM412,377h6v6h-6z"/>
<path fill="#7c7286" d="M430,353h6v6h-6z"/>
<path fill="#807a8c" d="M436,353h6v6h-6z"/>
<path fill="#867e8e" d="M442,353h6v6h-6z"/>
<path fill="#8a8492" d="M448,353h6v6h-6zM454,365h6v6h-6z"/>
<path fill="#4e3866" d="M388,359h6v6h-6z"/>
<path fill="#524068" d="M394,359h6v6h-6zM388,371h6v6h-6z"/>
<path fill="#56466c" d="M400,359h6v6h-6zM394,371h6v6h-6z"/>
<path fill="#5c4e6e" d="M406,359h6v6h-6zM400,371h6v6h-6zM388,389h6v6h-6z"/>
<path fill="#625674" d="M412,359h6v6h-6zM412,365h6v6h-6z"/>
<path fill="#7a7286" d="M430,359h6v6h-6z"/>
<path fill="#7e788a" d="M436,359h6v6h-6z"/>
<path fill="#847c8c" d="M442,359h6v6h-6z"/>
<path fill="#888290" d="M448,359h6v6h-6zM454,371h6v6h-6z"/>
<path fill="#4a3660" d="M172,365h6v6h-6z"/>
<path fill="#4c3664" d="M382,365h6v6h-6z"/>
<path fill="#503c66" d="M388,365h6v6h-6z"/>
<path fill="#6a607a" d="M418,365h6v6h-6z"/>
<path fill="#726a80" d="M424,365h6v6h-6z"/>
<path fill="#7c7486" d="M436,365h6v6h-6z"/>
<path fill="#847e8c" d="M448,371h6v6h-6zM460,383h6v6h-6z"/>
<path fill="#4c2e6c" d="M268,377h6v6h-6z"/>
<path fill="#503e68" d="M382,377h6v6h-6z"/>
<path fill="#56446a" d="M388,377h6v6h-6z"/>
<path fill="#645874" d="M406,377h6v6h-6zM388,401h6v6h-6z"/>
<path fill="#70667c" d="M418,377h6v6h-6zM400,401h6v6h-6zM394,413h6v6h-6z"/>
<path fill="#8a8490" d="M466,377h6v6h-6zM490,395h6v6h-6z"/>
<path fill="#5c5070" d="M394,383h6v6h-6z"/>
<path fill="#685c76" d="M406,383h6v6h-6z"/>
<path fill="#4a3864" d="M364,389h6v6h-6z"/>
<path fill="#665a74" d="M394,395h6v6h-6z"/>
<path fill="#442c5e" d="M232,401h6v6h-6zM316,407h6v6h-6z"/>
<path fill="#442a62" d="M280,401h6v6h-6z"/>
<path fill="#524066" d="M364,401h6v6h-6z"/>
<path fill="#6e6a78" d="M88,407h6v6h-6zM100,425h6v6h-6zM154,479h6v6h-6zM472,479h6v6h-6zM466,485h6v6h-6zM172,491h6v6h-6zM196,503h6v6h-6zM430,515h6v6h-6zM268,521h6v6h-6zM286,521h6v6h-6z"/>
<path fill="#422a60" d="M292,407h6v6h-6z"/>
<path fill="#483662" d="M340,407h6v6h-6z"/>
<path fill="#564668" d="M364,407h6v6h-6zM358,413h6v6h-6zM352,419h6v6h-6z"/>
<path fill="#5e506e" d="M376,407h6v6h-6z"/>
<path fill="#84808a" d="M496,407h6v6h-6zM502,407h6v6h-6z"/>
<path fill="#584c6c" d="M364,413h6v6h-6z"/>
<path fill="#767082" d="M412,413h6v6h-6z"/>
<path fill="#807c86" d="M508,413h6v6h-6z"/>
<path fill="#564866" d="M184,419h6v6h-6z"/>
<path fill="#6c6278" d="M382,425h6v6h-6zM370,443h6v6h-6z"/>
<path fill="#4c3a60" d="M310,431h6v6h-6z"/>
<path fill="#524264" d="M328,431h6v6h-6z"/>
<path fill="#4e4262" d="M232,437h6v6h-6zM280,449h6v6h-6z"/>
<path fill="#625872" d="M352,437h6v6h-6z"/>
<path fill="#645a72" d="M358,437h6v6h-6zM352,443h6v6h-6zM346,449h6v6h-6z"/>
<path fill="#685e74" d="M364,437h6v6h-6z"/>
<path fill="#726c7e" d="M388,443h6v6h-6z"/>
<path fill="#7a7480" d="M490,443h6v6h-6zM388,497h6v6h-6zM382,503h6v6h-6zM400,503h6v6h-6zM376,509h6v6h-6z"/>
<path fill="#524462" d="M256,449h6v6h-6z"/>
<path fill="#70687a" d="M376,449h6v6h-6zM364,467h6v6h-6z"/>
<path fill="#76707c" d="M496,449h6v6h-6zM382,521h6v6h-6z"/>
<path fill="#726c78" d="M502,455h6v6h-6zM82,473h6v6h-6zM100,491h6v6h-6zM106,497h6v6h-6zM112,503h6v6h-6zM118,509h6v6h-6zM130,515h6v6h-6zM136,521h6v6h-6zM148,527h6v6h-6zM160,533h6v6h-6zM172,539h6v6h-6z"/>
<path fill="#5a526a" d="M298,467h6v6h-6z"/>
<path fill="#6e6678" d="M358,467h6v6h-6z"/>
<path fill="#6a6672" d="M508,473h6v6h-6zM418,539h6v6h-6z"/>
<path fill="#666270" d="M484,491h6v6h-6zM472,509h6v6h-6zM466,515h6v6h-6zM454,533h6v6h-6zM448,539h6v6h-6z"/>
<path fill="#64606e" d="M490,497h6v6h-6zM496,497h6v6h-6zM502,497h6v6h-6zM484,509h6v6h-6zM472,527h6v6h-6z"/>
<path fill="#625e6c" d="M508,503h6v6h-6zM490,515h6v6h-6zM484,527h6v6h-6z"/>
<path fill="#605c6a" d="M502,515h6v6h-6zM496,527h6v6h-6z"/>
<path fill="#605a68" d="M508,515h6v6h-6zM502,521h6v6h-6zM508,521h6v6h-6zM502,527h6v6h-6zM496,533h6v6h-6zM490,539h6v6h-6zM496,539h6v6h-6z"/>
<path fill="#5e5866" d="M508,527h6v6h-6zM508,533h6v6h-6zM508,539h6v6h-6z"/>
<path fill="#5e5a68" d="M502,533h6v6h-6zM502,539h6v6h-6z"/>
</g>
<rect x="94.25" y="498" width="28" height="30" fill="#35224a"/>
<path d="M279.8,65 L300.4,65 L299.5,72 L293,82 L290,92 L288,104 L286.8,110 L286.6,288 L284.6,288 L284.4,110 L283.3,104 L282.5,92 L281,82 L280.2,72 Z" fill="#c4c4c4" opacity="0.9"/>
<radialGradient id="glow" gradientUnits="userSpaceOnUse" cx="285.5" cy="291" r="10"><stop offset="0" stop-color="#ffd060"/><stop offset="0.2" stop-color="#f0a048" stop-opacity="0.9"/><stop offset="0.55" stop-color="#c06a60" stop-opacity="0.35"/><stop offset="1" stop-color="#7a4880" stop-opacity="0"/></radialGradient>
<circle cx="285.5" cy="291" r="10" fill="url(#glow)"/>
<rect x="94.25" y="117.8" width="406.25" height="4" fill="#c8c8c8"/>
<rect x="94.25" y="176.3" width="406.25" height="4" fill="#c8c8c8"/>
<rect x="94.25" y="234.8" width="406.25" height="4" fill="#c8c8c8"/>
<rect x="94.25" y="293.3" width="406.25" height="4" fill="#c8c8c8"/>
<rect x="94.25" y="351.8" width="406.25" height="4" fill="#c8c8c8"/>
<rect x="94.25" y="410.3" width="406.25" height="4" fill="#c8c8c8"/>
<rect x="94.25" y="468.8" width="406.25" height="4" fill="#c8c8c8"/>
<rect x="228.2" y="65.2" width="2" height="462.25000000000006" fill="#c8c8c8"/>
<rect x="364.4" y="65.2" width="2" height="462.25000000000006" fill="#c8c8c8"/>
<path d="M264.9,353.5 L263.4,352.9 L261.8,352.3 L260.3,351.6 L258.7,351.0 L257.2,350.2 L255.7,349.5 L254.3,348.7 L252.8,347.8 L251.4,346.9 L250.0,346.0 L248.6,345.1 L247.3,344.1 L245.9,343.0 L244.6,342.0 L243.4,340.9 L242.1,339.8 L240.9,338.6 L239.7,337.4 L238.6,336.2 L237.5,335.0 L236.4,333.7 L235.3,332.4 L234.3,331.0 L233.3,329.7 L232.4,328.3 L231.5,326.9 L230.6,325.5 L229.8,324.0 L229.0,322.5 L228.2,321.0 L227.5,319.5 L226.8,318.0 L226.2,316.4 L225.6,314.9 L225.0,313.3 L224.5,311.7 L224.0,310.1 L223.6,308.5 L223.2,306.9 L222.9,305.2 L222.6,303.6 L222.3,301.9 L222.1,300.2 L221.9,298.6 L221.8,296.9 L221.7,295.2 L221.7,293.6 L221.7,291.9 L221.7,290.2 L221.8,288.5 L221.9,286.9 L222.1,285.2 L222.3,283.5 L222.6,281.9 L222.9,280.2 L223.2,278.6 L223.6,277.0 L224.1,275.4 L224.5,273.7 L225.0,272.2 L225.6,270.6 L226.2,269.0 L226.8,267.5 L227.5,265.9 L228.2,264.4 L229.0,262.9 L229.8,261.4 L230.6,260.0 L231.5,258.6 L232.4,257.2 L233.4,255.8 L234.4,254.4 L235.4,253.1 L236.4,251.8 L237.5,250.5 L238.6,249.3 L239.8,248.0 L241.0,246.9 L242.2,245.7 L243.4,244.6 L244.7,243.5 L246.0,242.4 L247.3,241.4 L248.7,240.4 L250.0,239.5 L251.5,238.6 L252.9,237.7 L254.3,236.8 L255.8,236.0 L257.3,235.3 L258.8,234.5 L260.3,233.9 L261.9,233.2 L263.4,232.6 L265.0,232.0 L266.6,231.5 L268.2,231.0 L269.8,230.6 L271.5,230.2 L273.1,229.8 L274.7,229.5 L276.4,229.3 L278.1,229.0 L279.7,228.9 L281.4,228.7 L283.1,228.6 L284.7,228.6 L286.4,228.6 L288.1,228.6 L289.8,228.7 L291.4,228.8 L293.1,229.0 L294.8,229.2 L296.4,229.4 L298.1,229.7 L299.7,230.1 L301.3,230.5 L303.0,230.9 L304.6,231.3 L306.2,231.9 L307.7,232.4 L309.3,233.0 L310.9,233.6 L312.4,234.3 L313.9,235.0 L315.4,235.8 L316.9,236.6 L318.3,237.4 L319.8,238.3 L321.2,239.2 L322.6,240.1 L323.9,241.1 L325.3,242.1 L326.6,243.1 L327.9,244.2 L329.1,245.3 L330.3,246.5 L331.5,247.7 L332.7,248.9 L333.8,250.1 L334.9,251.4 L336.0,252.7 L337.0,254.0 L338.0,255.3 L339.0,256.7 L339.9,258.1 L340.8,259.5 L341.6,261.0 L342.4,262.4 L343.2,263.9 L343.9,265.4 L344.6,267.0 L345.3,268.5 L345.9,270.1 L346.5,271.6 L347.0,273.2 L347.5,274.8 L347.9,276.4 L348.3,278.1 L348.7,279.7 L349.0,281.3 L349.3,283.0 L349.5,284.7 L349.7,286.3 L349.9,288.0 L350.0,289.7 L350.0,291.3 L350.0,293.0 L350.0,294.7 L349.9,296.4 L349.8,298.0 L349.7,299.7 L349.5,301.4 L349.2,303.0 L348.9,304.7 L348.6,306.3 L348.2,307.9 L347.8,309.6 L347.4,311.2 L346.8,312.8 L346.3,314.4 L345.7,315.9 L345.1,317.5 L344.4,319.0 L343.7,320.5 L343.0,322.0 L342.2,323.5 L341.4,325.0 L340.5,326.4 L339.6,327.8 L338.7,329.2 L337.7,330.6 L336.7,331.9 L335.7,333.3 L334.6,334.5 L333.5,335.8 L332.4,337.0 L331.2,338.2 L330.0,339.4 L328.7,340.5 L327.5,341.6 L326.2,342.7 L324.9,343.7 L323.5,344.7 L322.2,345.7 L320.8,346.6 L319.4,347.5 L317.9,348.4 L316.5,349.2 L315.0,350.0 L313.5,350.7 L311.9,351.4 L310.4,352.1 L308.8,352.7 L307.3,353.3 L305.7,353.8" fill="none" stroke="#2ca02c" stroke-width="11.5" stroke-linecap="round" stroke-linejoin="round"/>
<path d="M209.95,292.51 a76.0,76.0 0 1,0 152.0,0 a76.0,76.0 0 1,0 -152.0,0" fill="none" stroke="#d62728" stroke-width="12"/>
<path d="M304.0,182.4 L306.9,182.9 L309.7,183.4 L312.6,184.1 L315.4,184.8 L318.2,185.6 L321.0,186.5 L323.8,187.4 L326.5,188.4 L329.2,189.5 L331.9,190.6 L334.5,191.9 L337.2,193.1 L339.7,194.5 L342.3,195.9 L344.8,197.4 L347.3,199.0 L349.7,200.6 L352.1,202.3 L354.4,204.0 L356.7,205.8 L359.0,207.7 L361.2,209.6 L363.3,211.6 L365.4,213.6 L367.4,215.7 L369.4,217.8 L371.4,220.0 L373.2,222.3 L375.0,224.5 L376.8,226.9 L378.5,229.3 L380.1,231.7 L381.7,234.1 L383.2,236.6 L384.6,239.2 L386.0,241.8 L387.3,244.4 L388.5,247.0 L389.7,249.7 L390.8,252.4 L391.8,255.1 L392.7,257.9 L393.6,260.7 L394.4,263.5 L395.1,266.3 L395.8,269.2 L396.4,272.0 L396.9,274.9 L397.3,277.8 L397.6,280.7 L397.9,283.6 L398.1,286.5 L398.2,289.4 L398.3,292.3 L398.3,295.3 L398.2,298.2 L398.0,301.1 L397.7,304.0 L397.4,306.9 L397.0,309.8 L396.5,312.7 L396.0,315.5 L395.3,318.4 L394.6,321.2 L393.9,324.0 L393.0,326.8 L392.1,329.6 L391.1,332.3 L390.0,335.0 L388.9,337.7 L387.7,340.4 L386.4,343.0 L385.0,345.6 L383.6,348.2 L382.2,350.7 L380.6,353.1 L379.0,355.6 L377.3,358.0 L375.6,360.3 L373.8,362.6 L372.0,364.9 L370.1,367.1 L368.1,369.2 L366.1,371.3 L364.0,373.4 L361.9,375.4 L359.7,377.3 L357.4,379.2 L355.2,381.0 L352.8,382.8 L350.5,384.5 L348.0,386.1 L345.6,387.7 L343.1,389.2 L340.6,390.7 L338.0,392.0 L335.4,393.3 L332.7,394.6 L330.1,395.8 L327.4,396.9 L324.6,397.9 L321.9,398.9 L319.1,399.7 L316.3,400.6 L313.5,401.3 L310.6,402.0 L307.8,402.6 L304.9,403.1 L302.0,403.5 L299.1,403.9 L296.2,404.2 L293.3,404.4 L290.4,404.5 L287.5,404.6 L284.6,404.6 L281.6,404.5 L278.7,404.3 L275.8,404.1 L272.9,403.8 L270.0,403.4 L267.1,402.9 L264.3,402.4 L261.4,401.8 L258.6,401.1 L255.8,400.3 L253.0,399.5 L250.2,398.5 L247.5,397.6 L244.7,396.5 L242.0,395.4 L239.4,394.2 L236.8,392.9 L234.2,391.6 L231.6,390.2 L229.1,388.7 L226.6,387.2 L224.1,385.6 L221.7,383.9 L219.4,382.2 L217.1,380.4 L214.8,378.6 L212.6,376.7 L210.4,374.7 L208.3,372.7 L206.3,370.7 L204.3,368.5 L202.3,366.4 L200.4,364.1 L198.6,361.9 L196.8,359.5 L195.1,357.2 L193.5,354.8 L191.9,352.3 L190.3,349.8 L188.9,347.3 L187.5,344.7 L186.2,342.1 L184.9,339.5 L183.7,336.8 L182.6,334.1 L181.6,331.4 L180.6,328.7 L179.7,325.9 L178.9,323.1 L178.1,320.3 L177.4,317.4 L176.8,314.6 L176.3,311.7 L175.9,308.8 L175.5,305.9 L175.2,303.0 L174.9,300.1 L174.8,297.2 L174.7,294.3 L174.7,291.4 L174.8,288.5 L174.9,285.5 L175.2,282.6 L175.5,279.7 L175.8,276.8 L176.3,274.0 L176.8,271.1 L177.4,268.2 L178.1,265.4 L178.9,262.6 L179.7,259.8 L180.6,257.0 L181.6,254.2 L182.6,251.5 L183.7,248.8 L184.9,246.1 L186.2,243.5 L187.5,240.9 L188.9,238.3 L190.3,235.8 L191.8,233.3 L193.4,230.9 L195.1,228.5 L196.8,226.1 L198.5,223.8 L200.4,221.5 L202.3,219.3 L204.2,217.1 L206.2,215.0 L208.3,212.9 L210.4,210.9 L212.6,208.9 L214.8,207.0 L217.0,205.2 L219.3,203.4 L221.7,201.7 L224.1,200.0 L226.5,198.4 L229.0,196.9 L231.5,195.4 L234.1,194.0 L236.7,192.7 L239.3,191.4 L242.0,190.2 L244.7,189.1 L247.4,188.1 L250.2,187.1 L252.9,186.2 L255.7,185.3 L258.5,184.6 L261.4,183.9 L264.2,183.2 L267.1,182.7" fill="none" stroke="#9467bd" stroke-width="12.5" stroke-linecap="round" stroke-linejoin="round"/>
<path d="M353.4,410.2 L350.3,412.0 L347.1,413.6 L344.0,415.2 L340.7,416.7 L337.5,418.1 L334.2,419.4 L330.9,420.6 L327.5,421.8 L324.1,422.8 L320.7,423.8 L317.3,424.6 L313.8,425.4 L310.4,426.1 L306.9,426.7 L303.4,427.2 L299.9,427.6 L296.3,428.0 L292.8,428.2 L289.3,428.4 L285.7,428.4 L282.2,428.4 L278.6,428.2 L275.1,428.0 L271.6,427.7 L268.1,427.3 L264.6,426.8 L261.1,426.2 L257.6,425.5 L254.1,424.7 L250.7,423.8 L247.3,422.9 L243.9,421.8 L240.6,420.7 L237.2,419.5 L233.9,418.2 L230.7,416.8 L227.5,415.3 L224.3,413.7 L221.1,412.1 L218.1,410.4 L215.0,408.6 L212.0,406.7 L209.1,404.7 L206.2,402.7 L203.3,400.6 L200.5,398.4 L197.8,396.1 L195.1,393.8 L192.5,391.4 L190.0,388.9 L187.5,386.4 L185.1,383.8 L182.8,381.1 L180.5,378.4 L178.3,375.6 L176.2,372.8 L174.1,369.9 L172.1,367.0 L170.3,364.0 L168.4,361.0 L166.7,357.9 L165.0,354.7 L163.5,351.6 L162.0,348.4 L160.6,345.1 L159.2,341.8 L158.0,338.5 L156.9,335.2 L155.8,331.8 L154.8,328.4 L153.9,324.9 L153.2,321.5 L152.4,318.0 L151.8,314.5 L151.3,311.0 L150.9,307.5 L150.6,304.0 L150.3,300.5 L150.2,296.9 L150.1,293.4 L150.1,289.8 L150.3,286.3 L150.5,282.8 L150.8,279.2 L151.2,275.7 L151.7,272.2 L152.3,268.7 L153.0,265.2 L153.7,261.8 L154.6,258.3 L155.5,254.9 L156.6,251.5 L157.7,248.2 L158.9,244.9 L160.2,241.6 L161.6,238.3 L163.1,235.1 L164.6,231.9 L166.2,228.8 L168.0,225.7 L169.8,222.6 L171.6,219.6 L173.6,216.7 L175.6,213.8 L177.7,210.9 L179.9,208.1 L182.2,205.4 L184.5,202.7 L186.9,200.1 L189.3,197.6 L191.9,195.1 L194.4,192.7 L197.1,190.3 L199.8,188.0 L202.6,185.8 L205.4,183.7 L208.3,181.6 L211.2,179.6 L214.2,177.7 L217.2,175.9 L220.3,174.2 L223.4,172.5 L226.6,170.9 L229.8,169.4 L233.1,168.0 L236.3,166.7 L239.7,165.4 L243.0,164.3 L246.4,163.2 L249.8,162.2 L253.2,161.3 L256.7,160.5 L260.1,159.8 L263.6,159.2 L267.1,158.7 L270.6,158.2 L274.2,157.9 L277.7,157.6 L281.2,157.5 L284.8,157.4 L288.3,157.4 L291.8,157.5 L295.4,157.8 L298.9,158.1 L302.4,158.4 L305.9,158.9 L309.4,159.5 L312.9,160.2 L316.4,160.9 L319.8,161.8 L323.2,162.7 L326.6,163.8 L330.0,164.9 L333.3,166.1 L336.6,167.4 L339.9,168.7 L343.1,170.2 L346.3,171.7 L349.4,173.4 L352.5,175.1 L355.6,176.9 L358.6,178.7 L361.5,180.7 L364.5,182.7 L367.3,184.8 L370.1,187.0 L372.8,189.2 L375.5,191.5 L378.1,193.9 L380.7,196.4 L383.2,198.9 L385.6,201.5 L388.0,204.1 L390.2,206.8 L392.5,209.6 L394.6,212.4 L396.7,215.3 L398.7,218.2 L400.6,221.2 L402.4,224.2 L404.2,227.3 L405.8,230.4 L407.4,233.6 L408.9,236.8 L410.4,240.0 L411.7,243.3 L413.0,246.6 L414.1,250.0 L415.2,253.3 L416.2,256.7 L417.1,260.2 L417.9,263.6 L418.6,267.1 L419.2,270.6 L419.8,274.1 L420.2,277.6 L420.6,281.1 L420.8,284.6 L421.0,288.2" fill="none" stroke="#8c564b" stroke-width="12" stroke-linecap="round" stroke-linejoin="round"/>
<path d="M414.6,358.8 L412.9,362.2 L411.0,365.5 L409.1,368.7 L407.1,371.9 L405.0,375.1 L402.8,378.2 L400.5,381.2 L398.2,384.2 L395.8,387.1 L393.3,389.9 L390.7,392.7 L388.1,395.4 L385.4,398.1 L382.6,400.6 L379.7,403.1 L376.8,405.6 L373.9,407.9 L370.8,410.2 L367.8,412.4 L364.6,414.5 L361.4,416.5 L358.2,418.4 L354.9,420.3 L351.5,422.1 L348.1,423.8 L344.7,425.3 L341.2,426.8 L337.7,428.3 L334.2,429.6 L330.6,430.8 L327.0,431.9 L323.3,433.0 L319.7,433.9 L316.0,434.8 L312.3,435.5 L308.5,436.2 L304.8,436.7 L301.0,437.2 L297.3,437.5 L293.5,437.8 L289.7,437.9 L285.9,438.0 L282.1,438.0 L278.4,437.8 L274.6,437.6 L270.8,437.3 L267.1,436.8 L263.3,436.3 L259.6,435.7 L255.9,434.9 L252.2,434.1 L248.5,433.2 L244.8,432.2 L241.2,431.1 L237.6,429.9 L234.1,428.6 L230.6,427.2 L227.1,425.7 L223.6,424.2 L220.2,422.5 L216.9,420.8 L213.6,418.9 L210.3,417.0 L207.1,415.0 L203.9,412.9 L200.8,410.7 L197.8,408.5 L194.8,406.2 L191.9,403.8 L189.0,401.3 L186.2,398.7 L183.5,396.1 L180.8,393.4 L178.3,390.6 L175.7,387.8 L173.3,384.9 L171.0,382.0 L168.7,378.9 L166.5,375.9 L164.3,372.7 L162.3,369.5 L160.3,366.3 L158.5,363.0 L156.7,359.7 L155.0,356.3 L153.4,352.9 L151.9,349.4 L150.4,345.9 L149.1,342.4 L147.9,338.8 L146.7,335.2 L145.7,331.5 L144.7,327.9 L143.8,324.2 L143.1,320.5 L142.4,316.8 L141.8,313.0 L141.4,309.3 L141.0,305.5 L140.7,301.7 L140.5,297.9 L140.5,294.2 L140.5,290.4 L140.6,286.6 L140.8,282.8 L141.1,279.0 L141.5,275.3 L142.0,271.5 L142.7,267.8 L143.4,264.1 L144.2,260.4 L145.1,256.7 L146.1,253.1 L147.2,249.4 L148.3,245.8 L149.6,242.3 L151.0,238.7 L152.4,235.3 L154.0,231.8 L155.6,228.4 L157.4,225.0 L159.2,221.7 L161.1,218.4 L163.1,215.2 L165.2,212.0 L167.3,208.9 L169.5,205.9 L171.9,202.9 L174.2,200.0 L176.7,197.1 L179.2,194.3 L181.9,191.5 L184.5,188.9 L187.3,186.3 L190.1,183.7 L193.0,181.3 L195.9,178.9 L199.0,176.6 L202.0,174.4 L205.1,172.3 L208.3,170.2 L211.6,168.2 L214.8,166.4 L218.2,164.6 L221.5,162.8 L225.0,161.2 L228.4,159.7 L231.9,158.2 L235.5,156.9 L239.0,155.6 L242.6,154.5 L246.3,153.4 L249.9,152.4 L253.6,151.5 L257.3,150.8 L261.0,150.1 L264.8,149.5 L268.5,149.0 L272.3,148.6 L276.0,148.3 L279.8,148.1 L283.6,148.0 L287.4,148.0 L291.2,148.1 L295.0,148.3 L298.7,148.6 L302.5,149.0 L306.2,149.5 L310.0,150.1 L313.7,150.8 L317.4,151.6 L321.1,152.4 L324.7,153.4 L328.4,154.5 L332.0,155.7 L335.5,156.9 L339.1,158.3 L342.6,159.7 L346.0,161.3 L349.4,162.9 L352.8,164.6 L356.1,166.4 L359.4,168.3 L362.7,170.3 L365.8,172.3 L369.0,174.5 L372.0,176.7 L375.0,179.0 L378.0,181.4 L380.9,183.8 L383.7,186.3 L386.4,188.9 L389.1,191.6 L391.7,194.3 L394.3,197.2 L396.7,200.0 L399.1,203.0 L401.4,206.0 L403.6,209.0 L405.8,212.1 L407.9,215.3 L409.9,218.5 L411.8,221.8 L413.6,225.1 L415.3,228.5 L416.9,231.9 L418.5,235.3 L420.0,238.8 L421.3,242.4 L422.6,245.9 L423.8,249.5 L424.9,253.1 L425.9,256.8 L426.8,260.5 L427.6,264.2 L428.3,267.9 L428.9,271.6 L429.4,275.4 L429.8,279.1 L430.1,282.9 L430.3,286.7 L430.4,290.5" fill="none" stroke="#e377c2" stroke-width="12.8" stroke-linecap="round" stroke-linejoin="round"/>
<path d="M447.8,369.2 L445.7,373.4 L443.6,377.5 L441.4,381.6 L439.0,385.7 L436.6,389.6 L434.0,393.5 L431.4,397.3 L428.6,401.1 L425.8,404.8 L422.9,408.4 L419.8,411.9 L416.7,415.4 L413.5,418.8 L410.2,422.0 L406.8,425.2 L403.4,428.4 L399.8,431.4 L396.2,434.3 L392.5,437.1 L388.7,439.9 L384.9,442.5 L381.0,445.1 L377.0,447.5 L373.0,449.8 L368.9,452.1 L364.8,454.2 L360.6,456.2 L356.3,458.1 L352.0,459.9 L347.7,461.6 L343.3,463.1 L338.9,464.6 L334.4,465.9 L329.9,467.2 L325.4,468.3 L320.9,469.2 M249.3,469.2 L244.7,468.3 L240.2,467.1 L235.7,465.9 L231.2,464.6 L226.7,463.1 L222.3,461.5 L218.0,459.8 L213.7,458.0 L209.4,456.1 L205.2,454.1 L201.0,451.9 L196.9,449.7 L192.9,447.4 L188.9,444.9 L185.0,442.3 L181.1,439.7 L177.3,436.9 L173.6,434.1 L170.0,431.1 L166.5,428.1 L163.0,424.9 L159.6,421.7 L156.3,418.4 L153.1,415.0 L150.0,411.5 L146.9,407.9 L144.0,404.3 L141.1,400.6 L138.4,396.8 L135.7,392.9 L133.2,389.0 L130.8,385.0 L128.4,381.0 L126.2,376.9 L124.1,372.7 L122.1,368.5 L120.2,364.2 L118.4,359.9 L116.7,355.5 L115.1,351.1 L113.7,346.6 L112.3,342.2 L111.1,337.6 L110.0,333.1 L109.1,328.5 L108.2,323.9 L107.5,319.3 L106.8,314.7 L106.4,310.0 L106.0,305.3 L105.7,300.7 L105.6,296.0 L105.6,291.3 L105.7,286.6 L105.9,282.0 L106.3,277.3 L106.8,272.6 L107.4,268.0 L108.1,263.4 L108.9,258.8 L109.9,254.2 L111.0,249.7 L112.2,245.1 L113.5,240.6 L114.9,236.2 L116.5,231.8 L118.1,227.4 L119.9,223.1 L121.8,218.8 L123.8,214.6 L125.9,210.4 L128.1,206.3 L130.4,202.2 L132.9,198.2 L135.4,194.3 L138.0,190.4 L140.8,186.6 L143.6,182.9 L146.5,179.2 L149.5,175.7 L152.7,172.2 L155.9,168.8 L159.2,165.4 L162.5,162.2 L166.0,159.0 L169.5,156.0 L173.2,153.0 L176.8,150.2 L180.6,147.4 L184.5,144.7 L188.4,142.1 L192.3,139.7 L196.4,137.3 L200.5,135.0 L204.6,132.9 L208.8,130.8 L213.1,128.9 L217.4,127.1 L221.8,125.4 L226.2,123.8 L230.6,122.3 L235.1,121.0 L239.6,119.7 L244.1,118.6 L248.7,117.6 L253.3,116.7 L257.9,115.9 L262.5,115.3 L267.2,114.7 L271.8,114.3 L276.5,114.1 L281.2,113.9 L285.9,113.9 L290.5,113.9 L295.2,114.1 L299.9,114.5 L304.5,114.9 L309.2,115.5 L313.8,116.2 L318.4,117.0 L323.0,117.9 L327.6,119.0 L332.1,120.1 L336.6,121.4 L341.1,122.8 L345.5,124.3 L349.9,126.0 L354.2,127.7 L358.5,129.6 L362.7,131.5 L366.9,133.6 L371.1,135.8 L375.2,138.1 L379.2,140.5 L383.1,143.0 L387.0,145.6 L390.8,148.3 L394.6,151.1 L398.2,154.0 L401.8,157.0 L405.3,160.1 L408.8,163.3 L412.1,166.5 L415.4,169.9 L418.6,173.3 L421.6,176.9 L424.6,180.5 L427.5,184.1 L430.3,187.9 L433.0,191.7 L435.6,195.6" fill="none" stroke="#7f7f7f" stroke-width="12.5" stroke-linecap="round" stroke-linejoin="round"/>
<path d="M470.3,385.0 L467.8,389.9 L465.2,394.7 L462.5,399.4 L459.7,404.0 L456.7,408.6 L453.6,413.1 L450.4,417.5 L447.1,421.9 L443.7,426.1 L440.2,430.2 L436.6,434.3 L432.8,438.3 L429.0,442.1 L425.0,445.9 L421.0,449.6 L416.8,453.0 L412.4,456.3 L407.9,459.4 L403.4,462.5 L398.8,465.4 L394.1,468.1 L389.4,470.8 L384.6,473.3 L379.7,475.7 L374.8,477.9 L369.8,480.1 L364.8,482.1 L359.7,483.9 L354.6,485.7 L349.5,487.3 L344.3,488.7 L339.1,490.0 L333.8,491.2 L328.6,492.3 L323.3,493.2 L318.0,493.9 L312.6,494.5 L307.3,495.0 L302.0,495.4 L296.6,495.6 L291.3,495.6 L286.0,495.5 L280.6,495.6 L275.3,495.6 L270.0,495.5 L264.6,495.2 L259.3,494.8 L254.0,494.2 L248.7,493.5 L243.4,492.7 L238.1,491.7 L232.8,490.6 L227.6,489.3 L222.4,487.9 L217.3,486.4 L212.1,484.7 L207.1,482.9 L202.0,481.0 L197.0,478.9 L192.1,476.8 L187.2,474.4 L182.4,472.0 L177.6,469.4 L172.9,466.7 L168.3,463.8 L163.7,460.9 L159.2,457.8 L154.8,454.6 L150.5,451.3 L146.3,447.9 L142.1,444.3 L138.1,440.7 L134.1,436.9 L130.2,433.0 L126.5,429.1 L122.8,425.0 L119.3,420.8 L115.8,416.6 L112.5,412.2 L109.2,407.8 L106.1,403.2 L103.1,398.6 L100.4,393.8 L97.8,389.0 L95.4,384.0 L93.1,379.0 L90.9,374.0 L88.9,368.9 L87.0,363.7 L85.2,358.5 L83.6,353.2 L82.1,348.0 L80.7,342.6 L79.5,337.3 L78.4,331.9 L77.5,326.5 L76.7,321.0 L76.1,315.6 L75.6,310.1 L75.2,304.7 L75.0,299.2 L74.9,293.7 L75.0,288.2 L75.2,282.7 L75.6,277.3 L76.1,271.8 L76.7,266.4 L77.5,261.0 L78.4,255.6 L79.5,250.2 L80.7,244.8 L82.1,239.5 L83.6,234.3 L85.2,229.1 L86.9,223.9 L88.8,218.7 L90.8,213.7 L93.0,208.7 L95.3,203.7 L97.7,198.8 L100.3,194.0 L102.9,189.2 L105.7,184.5 L108.6,179.9 L111.7,175.4 L114.8,170.9 L118.1,166.5 L121.5,162.3 L125.0,158.1 L128.6,154.0 L132.3,150.0 L136.1,146.1 L140.0,142.3 L144.0,138.6 L148.1,135.0 L152.2,131.5 L156.5,128.2 L160.9,124.9 L165.3,121.8 L169.8,118.8 L174.4,115.9 L179.1,113.1 L183.9,110.4 L188.7,107.9 L193.5,105.5 L198.5,103.2 L203.5,101.1 L208.5,99.1 L213.6,97.2 L218.7,95.5 L223.9,93.9 L229.1,92.4 L234.4,91.1 L239.7,89.9 L245.0,88.8 L250.3,87.9 L255.7,87.1 L261.0,86.5 L266.4,86.0 L271.8,85.7 L277.2,85.5 M298.9,85.9 L304.2,86.3 L309.6,86.9 L314.9,87.6 L320.2,88.4 L325.5,89.4 L330.8,90.6 L336.0,91.8 L341.3,93.2 L346.4,94.7 L351.5,96.4 L356.6,98.2 L361.6,100.2 L366.6,102.2 L371.6,104.4 L376.4,106.7 L381.2,109.2 L386.0,111.8 L390.6,114.5 L395.2,117.3 L399.7,120.2 L404.2,123.3 L408.6,126.4 L412.8,129.7 L417.0,133.1 L421.1,136.6 L425.2,140.2 L429.1,143.9 L432.9,147.7 L436.6,151.6 L440.2,155.7" fill="none" stroke="#bcbd22" stroke-width="12.5" stroke-linecap="round" stroke-linejoin="round"/>
<path d="M476.4,395.6 L473.7,400.6 L470.8,405.6 L467.9,410.4 L464.8,415.2 L461.6,420.0 L458.3,424.6 L454.8,429.1 L451.2,433.6 L447.6,438.0 L443.8,442.2 L439.8,446.4 L435.8,450.5 L431.7,454.4 L427.5,458.3 L423.1,462.0 L418.5,465.5 L413.9,468.8 L409.2,472.1 L404.4,475.2 L399.5,478.2 L394.6,481.0 L389.6,483.8 L384.5,486.4 L379.4,488.8 L374.2,491.1 L368.9,493.3 L363.6,495.4 L358.2,497.3 L352.8,499.0 L347.4,500.7 L341.9,502.1 L336.3,503.5 L330.8,504.7 L325.2,505.7 L319.6,506.6 L314.0,507.4 L308.3,508.0 L302.7,508.4 L297.0,508.7 L291.4,508.9 L285.7,508.9 L280.1,508.9 L274.4,508.8 L268.7,508.6 L263.1,508.3 L257.4,507.8 L251.8,507.1 L246.2,506.3 L240.6,505.3 L235.0,504.2 L229.5,503.0 L224.0,501.6 L218.5,500.1 L213.0,498.4 L207.6,496.6 L202.3,494.6 L197.0,492.5 L191.7,490.2 L186.5,487.9 L181.4,485.3 L176.3,482.7 L171.3,479.9 L166.4,477.0 L161.6,473.9 L156.8,470.8 L152.1,467.5 L147.5,464.0 L143.0,460.5 L138.6,456.8 L134.2,453.0 L130.0,449.2 L125.9,445.1 L121.9,441.0 L117.9,436.8 L114.1,432.5 L110.4,428.1 L106.8,423.5 L103.4,418.9 L100.0,414.2 L96.8,409.4 L93.7,404.5 L90.9,399.5 L88.2,394.4 L85.7,389.2 L83.3,383.9 L81.1,378.6 L78.9,373.2 L77.0,367.8 L75.2,362.3 L73.5,356.8 L71.9,351.2 L70.6,345.6 L69.3,340.0 L68.2,334.3 L67.3,328.7 L66.5,323.0 L65.8,317.2 L65.3,311.5 L65.0,305.8 L64.8,300.0 L64.8,294.3 L64.9,288.5 L65.1,282.8 L65.5,277.1 L66.1,271.4 L66.8,265.7 L67.6,260.0 L68.6,254.4 L69.8,248.7 L71.1,243.2 L72.5,237.6 L74.1,232.1 L75.8,226.7 L77.7,221.2 L79.7,215.9 L81.8,210.6 L84.1,205.3 L86.6,200.2 L89.1,195.1 L91.8,190.0 L94.5,185.0 L97.5,180.1 L100.5,175.3 L103.7,170.5 L107.0,165.9 L110.4,161.3 L113.9,156.8 L117.5,152.4 L121.3,148.1 L125.1,143.9 L129.1,139.9 L133.2,135.9 L137.4,132.0 L141.6,128.2 L146.0,124.6 L150.5,121.1 L155.0,117.6 L159.7,114.4 L164.4,111.2 L169.2,108.1 L174.1,105.2 L179.1,102.4 L184.1,99.8 L189.2,97.3 L194.3,94.9 L199.6,92.6 L204.8,90.5 L210.2,88.5 L215.5,86.7 L221.0,85.0 L226.4,83.4 L231.9,82.0 L237.5,80.8 L243.0,79.7 L248.6,78.7 L254.2,77.9 L259.9,77.2 L265.5,76.6 L271.2,76.3 L276.8,76.0 M299.5,76.5 L305.2,77.0 L310.8,77.6 L316.4,78.4 L322.0,79.3 L327.6,80.4 L333.1,81.6 L338.6,82.9 L344.1,84.4 L349.5,86.1 L354.9,87.9 L360.2,89.8 L365.5,91.9 L370.7,94.1 L375.9,96.4 L381.0,98.9 L386.0,101.5 L391.0,104.2 L395.9,107.1 L400.7,110.1 L405.5,113.2 L410.1,116.4 L414.7,119.8 L419.1,123.3 L423.5,126.9 L427.8,130.6 L432.0,134.4 L436.1,138.3 L440.1,142.3 L443.9,146.5" fill="none" stroke="#17becf" stroke-width="12" stroke-linecap="round" stroke-linejoin="round"/>
<path d="M495.2,440.2 L491.3,445.7 L487.3,451.1 L483.1,456.3 L478.8,461.5 L474.3,466.5 L469.7,471.4 L465.0,476.2 L460.2,480.9 L455.3,485.5 L450.2,489.9 L445.0,494.2 L439.7,498.3 L434.3,502.3 L428.8,506.2 L423.2,509.9 L417.5,513.5 L411.7,516.9 L405.8,520.1 L399.9,523.3 L393.8,526.2 L387.7,529.0 L381.5,531.6 L375.3,534.1 L369.0,536.4 L362.6,538.6 L356.2,540.5 L349.7,542.3 L343.2,544.0 L336.6,545.4 L330.0,546.7 L323.4,547.9 L316.7,548.8 L310.0,549.6 L303.4,550.2 L296.6,550.6 L289.9,550.8 L283.2,550.9 L276.5,550.8 L269.8,550.5 L263.1,550.1 L256.4,549.4 L249.7,548.6 L243.0,547.6 L236.4,546.5 L229.8,545.1 L223.3,543.6 L216.8,542.0 L210.3,540.1 L203.9,538.1 L197.5,535.9 L191.2,533.6 L185.0,531.1 L178.8,528.4 L172.7,525.6 L166.7,522.6 L160.7,519.5 L154.9,516.2 L149.1,512.7 L143.4,509.1 L137.9,505.4 L132.4,501.5 L127.0,497.4 L121.7,493.3 L116.6,488.9 L111.5,484.5 L106.6,479.9 L101.8,475.2 L97.1,470.4 L92.6,465.4 L88.1,460.4 L83.8,455.2 L79.7,449.9 L75.7,444.5 L71.8,439.0 L68.1,433.4 L64.5,427.7 L61.1,421.9 L57.8,416.1 L54.7,410.1 L51.7,404.1 L48.9,398.0 L46.3,391.8 L43.8,385.5 L41.5,379.2 L39.3,372.9 L37.4,366.4 L35.6,360.0 L33.9,353.4 L32.4,346.9 L31.1,340.3 L30.0,333.7 L29.1,327.0 L28.3,320.3 L27.7,313.6 L27.2,306.9 L27.0,300.2 L26.9,293.5 L27.0,286.7 L27.3,280.0 L27.7,273.3 L28.4,266.6 L29.2,260.0 L30.1,253.3 L31.3,246.7 L32.6,240.1 L34.1,233.5 L35.8,227.0 L37.6,220.5 L39.6,214.1 L41.8,207.8 L44.1,201.5 L46.6,195.2 L49.3,189.0 L52.1,182.9 L55.1,176.9 L58.2,171.0 L61.5,165.1 L65.0,159.3 L68.6,153.7 L72.3,148.1 L76.2,142.6 L80.2,137.2 L84.4,131.9 L88.7,126.8 L93.1,121.7 L97.7,116.8 L102.4,112.0 L107.2,107.3 L112.2,102.7 L117.2,98.3 L122.4,94.0 L127.7,89.8 L133.1,85.8 L138.6,82.0 L144.2,78.2 L149.8,74.6 L155.6,71.2 L161.5,67.9 L167.4,64.8 L173.5,61.8 L179.6,59.0 L185.8,56.4 L192.0,53.9 L198.3,51.6 L204.7,49.4 L211.1,47.4 L217.6,45.6 L224.1,44.0 L230.7,42.5 L237.3,41.2 L243.9,40.0 L250.5,39.1 L257.2,38.3 L263.9,37.7 L270.6,37.2 L277.3,37.0 L284.1,36.9 L290.8,37.0 L297.5,37.3 L304.2,37.7 L310.9,38.3 L317.6,39.1 L324.2,40.1 L330.9,41.2 L337.5,42.5 L344.0,44.0 L350.5,45.7 L357.0,47.5 L363.4,49.5 L369.8,51.7 L376.1,54.0 L382.3,56.5 L388.5,59.1 L394.6,62.0 L400.6,64.9 L406.6,68.1 L412.5,71.4 L418.2,74.8 L423.9,78.4 L429.5,82.1 L435.0,86.0 L440.4,90.0 L445.7,94.2 L450.8,98.5 L455.9,102.9 L460.8,107.5" fill="none" stroke="#1f77b4" stroke-width="12" stroke-linecap="round" stroke-linejoin="round"/>
<path d="M508.7,105.9 L513.5,111.8 L518.2,117.8 L522.7,124.0 L527.0,130.2 L531.2,136.6 L535.2,143.1 L539.1,149.7 L542.7,156.4 L546.2,163.1 L549.5,170.0 L552.7,176.9 L555.6,184.0 L558.4,191.1 L561.0,198.2 L563.4,205.5 L565.6,212.8 L567.6,220.1 L569.4,227.5 L571.1,235.0 L572.5,242.5 L573.7,250.0 L574.8,257.5 L575.6,265.1 L576.3,272.7 L576.7,280.3 L576.9,287.9 L577.0,295.6 L576.8,303.2 L576.4,310.8 L575.8,318.4 L575.0,326.0 L574.1,333.5 L572.9,341.0 L571.5,348.5 L570.0,356.0 L568.2,363.4 L566.2,370.8 L564.1,378.1 L561.8,385.3 L559.2,392.5 L556.5,399.6 L553.6,406.6 L550.6,413.6 L547.3,420.5 L543.9,427.3 L540.3,433.9 L536.5,440.5 L532.5,447.0 L528.4,453.4 L524.1,459.7 L519.7,465.9 L515.1,471.9 L510.3,477.8 L505.4,483.6 L500.3,489.3 L495.1,494.8 L489.8,500.2 L484.3,505.5 L478.7,510.6 L472.9,515.5 L467.1,520.4 L461.1,525.1 L455.0,529.6 L448.8,534.0 L442.5,538.2 L436.1,542.2 L429.5,546.1 L422.9,549.8 L416.2,553.3 L409.4,556.7 L402.5,559.9 L395.5,562.9 L388.4,565.7 L381.3,568.3 L374.1,570.8 L366.9,573.0 L359.5,575.1 L352.2,576.9 L344.8,578.6 L337.3,580.1 L329.8,581.4 L322.3,582.5 L314.7,583.4 L307.2,584.1 L299.6,584.6 L292.0,584.9 L284.4,585.0 L276.8,584.9 L269.2,584.6 L261.6,584.1 L254.0,583.4 L246.4,582.6 L238.9,581.5 L231.4,580.2 L223.9,578.7 L216.5,577.0 L209.1,575.2 L201.8,573.1 L194.5,570.9 L187.3,568.4 L180.2,565.8 L173.1,563.0 L166.1,560.0 L159.1,556.8 L152.3,553.5 L145.6,550.0 L138.9,546.3 L132.3,542.4 L125.9,538.3 L119.5,534.1 L113.3,529.7 L107.2,525.2 L101.2,520.5 L95.3,515.6 L89.6,510.6 L84.0,505.4 L78.5,500.1 L73.2,494.6 L68.0,489.0 L63.0,483.3 L58.1,477.4 L53.4,471.5 L48.9,465.4 L44.5,459.1 L40.2,452.8 L36.1,446.4 L32.2,439.8 L28.5,433.2 L25.0,426.4 L21.6,419.6 L18.4,412.7 L15.4,405.7 L12.5,398.6 L9.9,391.4 L7.4,384.2 L5.1,377.0 L3.1,369.6 L1.2,362.2 L-0.5,354.8 L-2.0,347.3 L-3.3,339.8 L-4.4,332.3 L-5.3,324.7 L-6.1,317.1 L-6.6,309.5 L-6.9,301.9 L-7.0,294.3 L-6.9,286.7 L-6.6,279.0 L-6.2,271.4 L-5.5,263.8 L-4.6,256.3 L-3.5,248.7 L-2.3,241.2 L-0.8,233.7 L0.9,226.3 L2.7,218.9 L4.8,211.6 L7.0,204.3 L9.4,197.0 L12.0,189.9 L14.8,182.8 L17.8,175.8 L21.0,168.8 L24.3,162.0 L27.9,155.2 L31.6,148.6 L35.4,142.0 L39.5,135.5 L43.7,129.2 L48.1,122.9 L52.6,116.8 L57.3,110.8 L62.1,104.9 L67.1,99.2 L72.3,93.6 L77.6,88.1 L83.0,82.7 L88.6,77.5 L94.3,72.5 L100.1,67.6 L106.1,62.8 L112.2,58.2 L118.4,53.8 L124.7,49.5 L131.1,45.4 L137.7,41.5 L144.3,37.7 L151.0,34.2 L157.8,30.7 L164.7,27.5 L171.7,24.5 L178.8,21.6 L185.9,18.9 L193.1,16.4 L200.4,14.1 L207.7,12.0 L215.1,10.1 L222.5,8.4 L230.0,6.8 L237.5,5.5 L245.0,4.4 L252.6,3.4 L260.2,2.7 L267.8,2.1 L275.4,1.8 L283.0,1.6 L290.6,1.7 L298.2,1.9 L305.9,2.3 L313.4,3.0 L321.0,3.8 L328.6,4.9 L336.1,6.1 L343.6,7.5 L351.0,9.2 L358.4,11.0 L365.8,13.0 L373.1,15.2 L380.3,17.6 L387.5,20.2 L394.6,22.9 L401.6,25.9 L408.6,29.0 L415.4,32.3 L422.2,35.8 L428.9,39.5 L435.5,43.4 L441.9,47.4 L448.3,51.5 L454.6,55.9 L460.7,60.4" fill="none" stroke="#ff7f0e" stroke-width="12" stroke-linecap="round" stroke-linejoin="round"/>
<circle cx="283.6" cy="472.9" r="6" fill="#7f7f7f"/>
<circle cx="285.9" cy="356.0" r="6" fill="#2ca02c"/>
<path d="M454.6,22.2 L463.9,28.3 L473.1,34.7 L482.0,41.4 L490.7,48.5 L499.1,55.8 L507.3,63.4 L515.2,71.3 L522.8,79.5 L530.1,87.9 L537.2,96.6 L543.9,105.5 L520.4,122.6 L514.3,114.4 L507.9,106.5 L501.3,98.9 L494.3,91.5 L487.1,84.3 L479.7,77.3 L472.1,70.7 L464.2,64.3 L456.0,58.2 L447.7,52.4 L439.2,46.8Z" fill="#3a2656"/>
<path d="M465.2,5.3 L475.1,11.7 L484.8,18.5 L494.3,25.7 L503.5,33.1 L512.5,40.9 L521.2,49.0 L529.6,57.4 L537.7,66.1 L545.5,75.1 L552.9,84.3 L560.1,93.8 L532.6,113.7 L526.1,105.2 L519.4,96.9 L512.4,88.8 L505.1,81.0 L497.6,73.5 L489.8,66.2 L481.7,59.2 L473.4,52.5 L464.9,46.0 L456.1,39.9 L447.2,34.1Z" fill="#b8b6bc"/>
<path d="M451.9,55.2 L459.0,60.4 L466.0,65.7 L472.8,71.3 L479.4,77.0 L485.8,83.0 L492.1,89.1 L498.1,95.5 L504.0,102.0 L509.7,108.7 L515.2,115.5 L520.4,122.6 L516.0,125.8 L510.8,118.9 L505.4,112.2 L499.9,105.6 L494.1,99.2 L488.2,93.0 L482.0,87.0 L475.7,81.1 L469.2,75.5 L462.6,70.0 L455.7,64.8 L448.8,59.7Z" fill="#ffffff"/>
<path d="M462.3,66.7 L463.9,67.9 L465.5,69.2 L467.1,70.5 L468.7,71.8 L470.3,73.1 L471.9,74.5 L473.4,75.8 L475.0,77.1 L476.5,78.5 L478.0,79.9 L479.6,81.3 L476.9,84.2 L475.4,82.8 L473.9,81.5 L472.3,80.2 L470.8,78.8 L469.3,77.5 L467.7,76.2 L466.2,74.9 L464.6,73.6 L463.0,72.3 L461.4,71.1 L459.8,69.8Z" fill="#ff7f0e"/>
<path d="M221.65,292.76 a64.2,64.2 0 1,0 128.4,0 a64.2,64.2 0 1,0 -128.4,0" fill="none" stroke="#ff0000" stroke-width="3.3" stroke-dasharray="12.3 5.3"/>
<path d="M210.45,292.51 a75.5,75.5 0 1,0 151.0,0 a75.5,75.5 0 1,0 -151.0,0" fill="none" stroke="#ff1400" stroke-width="3.3" stroke-dasharray="12.3 5.3"/>
<path d="M174.50,292.8 a112.0,112.0 0 1,0 224.0,0 a112.0,112.0 0 1,0 -224.0,0" fill="none" stroke="#ff4000" stroke-width="3.3" stroke-dasharray="12.3 5.3"/>
<path d="M148.60,292.9 a137.0,137.0 0 1,0 274.0,0 a137.0,137.0 0 1,0 -274.0,0" fill="none" stroke="#ff6a00" stroke-width="3.3" stroke-dasharray="12.3 5.3"/>
<path d="M139.45,293.0 a146.0,146.0 0 1,0 292.0,0 a146.0,146.0 0 1,0 -292.0,0" fill="none" stroke="#ff7800" stroke-width="3.3" stroke-dasharray="12.3 5.3"/>
<path d="M105.08,293.35 a180.0,180.0 0 1,0 360.0,0 a180.0,180.0 0 1,0 -360.0,0" fill="none" stroke="#ffa000" stroke-width="3.3" stroke-dasharray="12.3 5.3"/>
<path d="M77.45,292.0 a207.0,207.0 0 1,0 414.0,0 a207.0,207.0 0 1,0 -414.0,0" fill="none" stroke="#ffb400" stroke-width="3.3" stroke-dasharray="12.3 5.3"/>
<path d="M68.00,292.65 a216.4,216.4 0 1,0 432.8,0 a216.4,216.4 0 1,0 -432.8,0" fill="none" stroke="#ffc000" stroke-width="3.3" stroke-dasharray="12.3 5.3"/>
<path d="M26.92,293.9 a257.0,257.0 0 1,0 514.0,0 a257.0,257.0 0 1,0 -514.0,0" fill="none" stroke="#ffe000" stroke-width="3.3" stroke-dasharray="12.3 5.3"/>
<path d="M-7.00,293.6 a292.0,292.0 0 1,0 584.0,0 a292.0,292.0 0 1,0 -584.0,0" fill="none" stroke="#ffff00" stroke-width="3.3" stroke-dasharray="12.3 5.3"/>
</g>
<rect x="94.25" y="65.2" width="406.25" height="462.25000000000006" fill="none" stroke="#000" stroke-width="1.33"/>
<line x1="94.40" y1="527.45" x2="94.40" y2="533.25" stroke="#000" stroke-width="1.33"/>
<text x="93.60" y="553.80" font-size="17.6" text-anchor="middle" fill="#000" textLength="10.56" lengthAdjust="spacingAndGlyphs" >0</text>
<line x1="163.21" y1="527.45" x2="163.21" y2="533.25" stroke="#000" stroke-width="1.33"/>
<text x="162.41" y="553.80" font-size="17.6" text-anchor="middle" fill="#000" textLength="31.68" lengthAdjust="spacingAndGlyphs" >250</text>
<line x1="232.02" y1="527.45" x2="232.02" y2="533.25" stroke="#000" stroke-width="1.33"/>
<text x="231.22" y="553.80" font-size="17.6" text-anchor="middle" fill="#000" textLength="31.68" lengthAdjust="spacingAndGlyphs" >500</text>
<line x1="300.83" y1="527.45" x2="300.83" y2="533.25" stroke="#000" stroke-width="1.33"/>
<text x="300.03" y="553.80" font-size="17.6" text-anchor="middle" fill="#000" textLength="31.68" lengthAdjust="spacingAndGlyphs" >750</text>
<line x1="369.64" y1="527.45" x2="369.64" y2="533.25" stroke="#000" stroke-width="1.33"/>
<text x="368.84" y="553.80" font-size="17.6" text-anchor="middle" fill="#000" textLength="42.25" lengthAdjust="spacingAndGlyphs" >1000</text>
<line x1="438.45" y1="527.45" x2="438.45" y2="533.25" stroke="#000" stroke-width="1.33"/>
<text x="437.65" y="553.80" font-size="17.6" text-anchor="middle" fill="#000" textLength="42.25" lengthAdjust="spacingAndGlyphs" >1250</text>
<line x1="94.25" y1="527.40" x2="88.45" y2="527.40" stroke="#000" stroke-width="1.33"/>
<text x="80.65" y="534.80" font-size="17.6" text-anchor="end" fill="#000" textLength="10.56" lengthAdjust="spacingAndGlyphs" >0</text>
<line x1="94.25" y1="472.40" x2="88.45" y2="472.40" stroke="#000" stroke-width="1.33"/>
<text x="80.65" y="479.80" font-size="17.6" text-anchor="end" fill="#000" textLength="31.68" lengthAdjust="spacingAndGlyphs" >200</text>
<line x1="94.25" y1="417.41" x2="88.45" y2="417.41" stroke="#000" stroke-width="1.33"/>
<text x="80.65" y="424.81" font-size="17.6" text-anchor="end" fill="#000" textLength="31.68" lengthAdjust="spacingAndGlyphs" >400</text>
<line x1="94.25" y1="362.41" x2="88.45" y2="362.41" stroke="#000" stroke-width="1.33"/>
<text x="80.65" y="369.81" font-size="17.6" text-anchor="end" fill="#000" textLength="31.68" lengthAdjust="spacingAndGlyphs" >600</text>
<line x1="94.25" y1="307.42" x2="88.45" y2="307.42" stroke="#000" stroke-width="1.33"/>
<text x="80.65" y="314.82" font-size="17.6" text-anchor="end" fill="#000" textLength="31.68" lengthAdjust="spacingAndGlyphs" >800</text>
<line x1="94.25" y1="252.42" x2="88.45" y2="252.42" stroke="#000" stroke-width="1.33"/>
<text x="80.65" y="259.82" font-size="17.6" text-anchor="end" fill="#000" textLength="42.25" lengthAdjust="spacingAndGlyphs" >1000</text>
<line x1="94.25" y1="197.42" x2="88.45" y2="197.42" stroke="#000" stroke-width="1.33"/>
<text x="80.65" y="204.82" font-size="17.6" text-anchor="end" fill="#000" textLength="42.25" lengthAdjust="spacingAndGlyphs" >1200</text>
<line x1="94.25" y1="142.43" x2="88.45" y2="142.43" stroke="#000" stroke-width="1.33"/>
<text x="80.65" y="149.83" font-size="17.6" text-anchor="end" fill="#000" textLength="42.25" lengthAdjust="spacingAndGlyphs" >1400</text>
<line x1="94.25" y1="87.43" x2="88.45" y2="87.43" stroke="#000" stroke-width="1.33"/>
<text x="80.65" y="94.83" font-size="17.6" text-anchor="end" fill="#000" textLength="42.25" lengthAdjust="spacingAndGlyphs" >1600</text>
<text x="297.00" y="578.30" font-size="17.6" text-anchor="middle" fill="#000" textLength="87.27" lengthAdjust="spacingAndGlyphs" >x in pixels</text>
<g transform="translate(25,297) rotate(-90)">
<text x="0.00" y="0.00" font-size="17.6" text-anchor="middle" fill="#000" textLength="87.27" lengthAdjust="spacingAndGlyphs" >y in pixels</text>
</g>
<line x1="174.31" y1="65.2" x2="174.31" y2="59.400000000000006" stroke="#0000ff" stroke-width="1.33"/>
<text x="172.81" y="49.00" font-size="17.6" text-anchor="middle" fill="#0000ff" textLength="36.96" lengthAdjust="spacingAndGlyphs" >0.05</text>
<line x1="254.37" y1="65.2" x2="254.37" y2="59.400000000000006" stroke="#0000ff" stroke-width="1.33"/>
<text x="252.87" y="49.00" font-size="17.6" text-anchor="middle" fill="#0000ff" textLength="36.96" lengthAdjust="spacingAndGlyphs" >0.10</text>
<line x1="334.43" y1="65.2" x2="334.43" y2="59.400000000000006" stroke="#0000ff" stroke-width="1.33"/>
<text x="332.93" y="49.00" font-size="17.6" text-anchor="middle" fill="#0000ff" textLength="36.96" lengthAdjust="spacingAndGlyphs" >0.15</text>
<line x1="414.49" y1="65.2" x2="414.49" y2="59.400000000000006" stroke="#0000ff" stroke-width="1.33"/>
<text x="412.99" y="49.00" font-size="17.6" text-anchor="middle" fill="#0000ff" textLength="36.96" lengthAdjust="spacingAndGlyphs" >0.20</text>
<line x1="494.55" y1="65.2" x2="494.55" y2="59.400000000000006" stroke="#0000ff" stroke-width="1.33"/>
<text x="493.05" y="49.00" font-size="17.6" text-anchor="middle" fill="#0000ff" textLength="36.96" lengthAdjust="spacingAndGlyphs" >0.25</text>
<text x="296.95" y="27.7" font-size="17.6" text-anchor="middle" fill="#0000ff" textLength="98.00" lengthAdjust="spacingAndGlyphs">dim2 ( ≈ <tspan font-style="italic">m</tspan>)</text>
<line x1="500.5" y1="447.39" x2="506.3" y2="447.39" stroke="#0000ff" stroke-width="1.33"/>
<text x="512.80" y="454.99" font-size="17.6" text-anchor="start" fill="#0000ff" textLength="36.96" lengthAdjust="spacingAndGlyphs" >0.05</text>
<line x1="500.5" y1="367.33" x2="506.3" y2="367.33" stroke="#0000ff" stroke-width="1.33"/>
<text x="512.80" y="374.93" font-size="17.6" text-anchor="start" fill="#0000ff" textLength="36.96" lengthAdjust="spacingAndGlyphs" >0.10</text>
<line x1="500.5" y1="287.27" x2="506.3" y2="287.27" stroke="#0000ff" stroke-width="1.33"/>
<text x="512.80" y="294.87" font-size="17.6" text-anchor="start" fill="#0000ff" textLength="36.96" lengthAdjust="spacingAndGlyphs" >0.15</text>
<line x1="500.5" y1="207.21" x2="506.3" y2="207.21" stroke="#0000ff" stroke-width="1.33"/>
<text x="512.80" y="214.81" font-size="17.6" text-anchor="start" fill="#0000ff" textLength="36.96" lengthAdjust="spacingAndGlyphs" >0.20</text>
<line x1="500.5" y1="127.15" x2="506.3" y2="127.15" stroke="#0000ff" stroke-width="1.33"/>
<text x="512.80" y="134.75" font-size="17.6" text-anchor="start" fill="#0000ff" textLength="36.96" lengthAdjust="spacingAndGlyphs" >0.25</text>
<text transform="translate(570.5,296.1) rotate(-90)" font-size="17.6" text-anchor="middle" fill="#0000ff" textLength="98.00" lengthAdjust="spacingAndGlyphs">dim1 ( ≈ <tspan font-style="italic">m</tspan>)</text>
<rect x="609.8" y="65.2" width="50.40000000000009" height="462.3" fill="url(#cb)"/>
<rect x="609.8" y="65.2" width="50.40000000000009" height="462.3" fill="none" stroke="#000" stroke-width="1.33"/>
<line x1="660.2" y1="527.50" x2="666.0" y2="527.50" stroke="#000" stroke-width="1.33"/>
<text x="674.40" y="534.90" font-size="17.6" text-anchor="start" fill="#000" textLength="22.09" lengthAdjust="spacingAndGlyphs" >10</text>
<text x="696.60" y="528.40" font-size="12.4" text-anchor="start" fill="#000" textLength="7.73" lengthAdjust="spacingAndGlyphs" >0</text>
<line x1="660.2" y1="474.64" x2="663.6" y2="474.64" stroke="#000" stroke-width="1"/>
<line x1="660.2" y1="443.72" x2="663.6" y2="443.72" stroke="#000" stroke-width="1"/>
<line x1="660.2" y1="421.78" x2="663.6" y2="421.78" stroke="#000" stroke-width="1"/>
<line x1="660.2" y1="404.76" x2="663.6" y2="404.76" stroke="#000" stroke-width="1"/>
<line x1="660.2" y1="390.86" x2="663.6" y2="390.86" stroke="#000" stroke-width="1"/>
<line x1="660.2" y1="379.10" x2="663.6" y2="379.10" stroke="#000" stroke-width="1"/>
<line x1="660.2" y1="368.92" x2="663.6" y2="368.92" stroke="#000" stroke-width="1"/>
<line x1="660.2" y1="359.94" x2="663.6" y2="359.94" stroke="#000" stroke-width="1"/>
<line x1="660.2" y1="351.90" x2="666.0" y2="351.90" stroke="#000" stroke-width="1.33"/>
<text x="674.40" y="359.30" font-size="17.6" text-anchor="start" fill="#000" textLength="22.09" lengthAdjust="spacingAndGlyphs" >10</text>
<text x="696.60" y="352.80" font-size="12.4" text-anchor="start" fill="#000" textLength="7.73" lengthAdjust="spacingAndGlyphs" >1</text>
<line x1="660.2" y1="299.04" x2="663.6" y2="299.04" stroke="#000" stroke-width="1"/>
<line x1="660.2" y1="268.12" x2="663.6" y2="268.12" stroke="#000" stroke-width="1"/>
<line x1="660.2" y1="246.18" x2="663.6" y2="246.18" stroke="#000" stroke-width="1"/>
<line x1="660.2" y1="229.16" x2="663.6" y2="229.16" stroke="#000" stroke-width="1"/>
<line x1="660.2" y1="215.26" x2="663.6" y2="215.26" stroke="#000" stroke-width="1"/>
<line x1="660.2" y1="203.50" x2="663.6" y2="203.50" stroke="#000" stroke-width="1"/>
<line x1="660.2" y1="193.32" x2="663.6" y2="193.32" stroke="#000" stroke-width="1"/>
<line x1="660.2" y1="184.34" x2="663.6" y2="184.34" stroke="#000" stroke-width="1"/>
<line x1="660.2" y1="176.30" x2="666.0" y2="176.30" stroke="#000" stroke-width="1.33"/>
<text x="674.40" y="183.70" font-size="17.6" text-anchor="start" fill="#000" textLength="22.09" lengthAdjust="spacingAndGlyphs" >10</text>
<text x="696.60" y="177.20" font-size="12.4" text-anchor="start" fill="#000" textLength="7.73" lengthAdjust="spacingAndGlyphs" >2</text>
<line x1="660.2" y1="123.44" x2="663.6" y2="123.44" stroke="#000" stroke-width="1"/>
<line x1="660.2" y1="92.52" x2="663.6" y2="92.52" stroke="#000" stroke-width="1"/>
<line x1="660.2" y1="70.58" x2="663.6" y2="70.58" stroke="#000" stroke-width="1"/>
<g transform="translate(596,297) rotate(-90)">
<text x="0.00" y="0.00" font-size="17.6" text-anchor="middle" fill="#000" textLength="446.25" lengthAdjust="spacingAndGlyphs" >Log colour scale (skipping lowest/highest per mille)</text>
</g>
<path d="M225.70,266.60 L250.50,266.00 L240.80,286.60 Z" fill="#fff"/>
<text x="230.70" y="264.00" font-size="21" font-weight="bold" stroke="#000" stroke-width="0.5">a</text>
<path d="M357.60,315.20 L382.40,314.60 L372.70,335.20 Z" fill="#fff"/>
<text x="362.60" y="312.60" font-size="21" font-weight="bold" stroke="#000" stroke-width="0.5">b</text>
<path d="M396.80,271.00 L421.60,270.40 L411.90,291.00 Z" fill="#fff"/>
<text x="401.80" y="268.40" font-size="21" font-weight="bold" stroke="#000" stroke-width="0.5">c</text>
<path d="M147.00,285.60 L171.80,285.00 L162.10,305.60 Z" fill="#fff"/>
<text x="152.00" y="283.00" font-size="21" font-weight="bold" stroke="#000" stroke-width="0.5">d</text>
<path d="M144.70,334.00 L169.50,333.40 L159.80,354.00 Z" fill="#fff"/>
<text x="149.70" y="331.40" font-size="21" font-weight="bold" stroke="#000" stroke-width="0.5">e</text>
<path d="M105.50,318.60 L130.30,318.00 L120.60,338.60 Z" fill="#fff"/>
<text x="110.50" y="316.00" font-size="21" font-weight="bold" stroke="#000" stroke-width="0.5">f</text>
<path d="M108.00,183.70 L132.80,183.10 L123.10,203.70 Z" fill="#fff"/>
<text x="113.00" y="181.10" font-size="21" font-weight="bold" stroke="#000" stroke-width="0.5">g</text>
<path d="M392.20,480.90 L417.00,480.30 L407.30,500.90 Z" fill="#fff"/>
<text x="397.20" y="478.30" font-size="21" font-weight="bold" stroke="#000" stroke-width="0.5">h</text>
<path d="M490.60,446.70 L515.40,446.10 L505.70,466.70 Z" fill="#fff"/>
<text x="495.60" y="444.10" font-size="21" font-weight="bold" stroke="#000" stroke-width="0.5">i</text>
<path d="M464.35,64.90 L489.15,64.30 L479.45,84.90 Z" fill="#fff"/>
<text x="469.35" y="62.30" font-size="21" font-weight="bold" stroke="#000" stroke-width="0.5">j</text>
</svg></body></html>
